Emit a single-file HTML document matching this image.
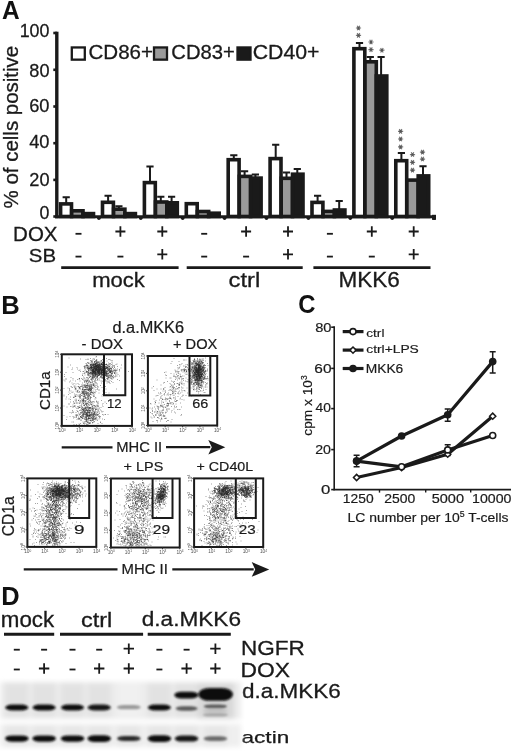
<!DOCTYPE html>
<html><head><meta charset="utf-8"><style>
html,body{margin:0;padding:0;background:#fff;}
svg{display:block;font-family:"Liberation Sans", sans-serif;filter:blur(0.45px);}
</style></head><body>
<svg width="520" height="751" viewBox="0 0 520 751">
<rect width="520" height="751" fill="#fff"/>
<text x="1.99" y="19.0" font-size="25.31" font-weight="bold" fill="#111" textLength="17.68" lengthAdjust="spacingAndGlyphs">A</text>
<line x1="56.8" y1="31.7" x2="56.8" y2="218.3" stroke="#1a1a1a" stroke-width="3.4"/>
<line x1="53.3" y1="33" x2="57" y2="33" stroke="#1a1a1a" stroke-width="2.6"/>
<text x="19.66" y="36.62" font-size="17.8" fill="#1a1a1a" stroke="#1a1a1a" stroke-width="0.26" textLength="29.83" lengthAdjust="spacingAndGlyphs">100</text>
<line x1="53.3" y1="69.8" x2="57" y2="69.8" stroke="#1a1a1a" stroke-width="2.6"/>
<text x="29.33" y="76.52" font-size="17.8" fill="#1a1a1a" stroke="#1a1a1a" stroke-width="0.26" textLength="20.19" lengthAdjust="spacingAndGlyphs">80</text>
<line x1="53.3" y1="106.5" x2="57" y2="106.5" stroke="#1a1a1a" stroke-width="2.6"/>
<text x="29.19" y="112.42" font-size="17.8" fill="#1a1a1a" stroke="#1a1a1a" stroke-width="0.26" textLength="20.34" lengthAdjust="spacingAndGlyphs">60</text>
<line x1="53.3" y1="143.2" x2="57" y2="143.2" stroke="#1a1a1a" stroke-width="2.6"/>
<text x="29.19" y="147.52" font-size="17.8" fill="#1a1a1a" stroke="#1a1a1a" stroke-width="0.26" textLength="20.34" lengthAdjust="spacingAndGlyphs">40</text>
<line x1="53.3" y1="179.9" x2="57" y2="179.9" stroke="#1a1a1a" stroke-width="2.6"/>
<text x="29.29" y="186.12" font-size="17.8" fill="#1a1a1a" stroke="#1a1a1a" stroke-width="0.26" textLength="20.23" lengthAdjust="spacingAndGlyphs">20</text>
<line x1="53.3" y1="216.5" x2="57" y2="216.5" stroke="#1a1a1a" stroke-width="2.6"/>
<text x="39.59" y="219.22" font-size="17.8" fill="#1a1a1a" stroke="#1a1a1a" stroke-width="0.26" textLength="9.9" lengthAdjust="spacingAndGlyphs">0</text>
<text transform="translate(2.7,207.7) rotate(-90)" x="-0.72" y="15.01" font-size="20.7" fill="#1a1a1a" stroke="#1a1a1a" stroke-width="0.3" textLength="162.6" lengthAdjust="spacingAndGlyphs">% of cells positive</text>
<line x1="55" y1="216.8" x2="434.5" y2="216.8" stroke="#1a1a1a" stroke-width="3"/>
<circle cx="98.9" cy="218.2" r="1.8" fill="#1a1a1a"/>
<circle cx="140.8" cy="218.2" r="1.8" fill="#1a1a1a"/>
<circle cx="182.7" cy="218.2" r="1.8" fill="#1a1a1a"/>
<circle cx="224.6" cy="218.2" r="1.8" fill="#1a1a1a"/>
<circle cx="266.5" cy="218.2" r="1.8" fill="#1a1a1a"/>
<circle cx="308.4" cy="218.2" r="1.8" fill="#1a1a1a"/>
<circle cx="350.3" cy="218.2" r="1.8" fill="#1a1a1a"/>
<circle cx="392.2" cy="218.2" r="1.8" fill="#1a1a1a"/>
<circle cx="434.1" cy="218.2" r="1.8" fill="#1a1a1a"/>
<rect x="432" y="214.8" width="4" height="5" fill="#1a1a1a"/>
<path d="M66.2 203.1V197.3M62.6 197.3h7.2" stroke="#1a1a1a" stroke-width="2" fill="none"/>
<rect x="60.6" y="203.9" width="10.9" height="12.6" fill="#fff" stroke="#1a1a1a" stroke-width="3.6"/>
<rect x="71.7" y="210.8" width="11.3" height="5.7" fill="#9a9a9a" stroke="#1a1a1a" stroke-width="3.6"/>
<rect x="83.0" y="213.6" width="10.5" height="2.9" fill="#1a1a1a" stroke="#1a1a1a" stroke-width="3.6"/>
<path d="M108.1 201.5V195.7M104.5 195.7h7.2" stroke="#1a1a1a" stroke-width="2" fill="none"/>
<path d="M118.9 208.4V206.2M115.3 206.2h7.2" stroke="#1a1a1a" stroke-width="2" fill="none"/>
<rect x="102.5" y="202.3" width="10.9" height="14.2" fill="#fff" stroke="#1a1a1a" stroke-width="3.6"/>
<rect x="113.6" y="209.2" width="11.3" height="7.3" fill="#9a9a9a" stroke="#1a1a1a" stroke-width="3.6"/>
<rect x="124.9" y="213.6" width="10.5" height="2.9" fill="#1a1a1a" stroke="#1a1a1a" stroke-width="3.6"/>
<path d="M150.0 181.8V166.4M146.4 166.4h7.2" stroke="#1a1a1a" stroke-width="2" fill="none"/>
<path d="M160.8 201.2V196.7M157.2 196.7h7.2" stroke="#1a1a1a" stroke-width="2" fill="none"/>
<path d="M171.6 202.0V196.7M168.0 196.7h7.2" stroke="#1a1a1a" stroke-width="2" fill="none"/>
<rect x="144.4" y="182.6" width="10.9" height="33.9" fill="#fff" stroke="#1a1a1a" stroke-width="3.6"/>
<rect x="155.5" y="202.0" width="11.3" height="14.5" fill="#9a9a9a" stroke="#1a1a1a" stroke-width="3.6"/>
<rect x="166.8" y="202.8" width="10.5" height="13.7" fill="#1a1a1a" stroke="#1a1a1a" stroke-width="3.6"/>
<rect x="186.3" y="203.7" width="10.9" height="12.8" fill="#fff" stroke="#1a1a1a" stroke-width="3.6"/>
<rect x="197.4" y="211.5" width="11.3" height="5.0" fill="#9a9a9a" stroke="#1a1a1a" stroke-width="3.6"/>
<rect x="208.7" y="213.2" width="10.5" height="3.3" fill="#1a1a1a" stroke="#1a1a1a" stroke-width="3.6"/>
<path d="M233.8 158.9V155.2M230.2 155.2h7.2" stroke="#1a1a1a" stroke-width="2" fill="none"/>
<path d="M244.6 175.6V171.2M241.0 171.2h7.2" stroke="#1a1a1a" stroke-width="2" fill="none"/>
<path d="M255.4 177.3V174.4M251.8 174.4h7.2" stroke="#1a1a1a" stroke-width="2" fill="none"/>
<rect x="228.2" y="159.7" width="10.9" height="56.8" fill="#fff" stroke="#1a1a1a" stroke-width="3.6"/>
<rect x="239.3" y="176.4" width="11.3" height="40.1" fill="#9a9a9a" stroke="#1a1a1a" stroke-width="3.6"/>
<rect x="250.6" y="178.1" width="10.5" height="38.4" fill="#1a1a1a" stroke="#1a1a1a" stroke-width="3.6"/>
<path d="M275.7 157.8V144.7M272.1 144.7h7.2" stroke="#1a1a1a" stroke-width="2" fill="none"/>
<path d="M286.5 177.5V172.4M282.9 172.4h7.2" stroke="#1a1a1a" stroke-width="2" fill="none"/>
<path d="M297.3 173.4V169.0M293.7 169.0h7.2" stroke="#1a1a1a" stroke-width="2" fill="none"/>
<rect x="270.1" y="158.6" width="10.9" height="57.9" fill="#fff" stroke="#1a1a1a" stroke-width="3.6"/>
<rect x="281.2" y="178.3" width="11.3" height="38.2" fill="#9a9a9a" stroke="#1a1a1a" stroke-width="3.6"/>
<rect x="292.5" y="174.2" width="10.5" height="42.3" fill="#1a1a1a" stroke="#1a1a1a" stroke-width="3.6"/>
<path d="M317.6 201.6V195.8M314.0 195.8h7.2" stroke="#1a1a1a" stroke-width="2" fill="none"/>
<path d="M339.2 209.2V201.0M335.6 201.0h7.2" stroke="#1a1a1a" stroke-width="2" fill="none"/>
<rect x="312.0" y="202.4" width="10.9" height="14.1" fill="#fff" stroke="#1a1a1a" stroke-width="3.6"/>
<rect x="323.1" y="211.4" width="11.3" height="5.1" fill="#9a9a9a" stroke="#1a1a1a" stroke-width="3.6"/>
<rect x="334.4" y="210.0" width="10.5" height="6.5" fill="#1a1a1a" stroke="#1a1a1a" stroke-width="3.6"/>
<path d="M359.5 47.9V43.0M355.9 43.0h7.2" stroke="#1a1a1a" stroke-width="2" fill="none"/>
<path d="M370.3 61.0V57.1M366.7 57.1h7.2" stroke="#1a1a1a" stroke-width="2" fill="none"/>
<path d="M381.1 75.2V57.1M377.5 57.1h7.2" stroke="#1a1a1a" stroke-width="2" fill="none"/>
<rect x="353.9" y="48.7" width="10.9" height="167.8" fill="#fff" stroke="#1a1a1a" stroke-width="3.6"/>
<rect x="365.0" y="61.8" width="11.3" height="154.7" fill="#9a9a9a" stroke="#1a1a1a" stroke-width="3.6"/>
<rect x="376.3" y="76.0" width="10.5" height="140.5" fill="#1a1a1a" stroke="#1a1a1a" stroke-width="3.6"/>
<path d="M401.4 159.9V152.9M397.8 152.9h7.2" stroke="#1a1a1a" stroke-width="2" fill="none"/>
<path d="M423.0 175.1V166.3M419.4 166.3h7.2" stroke="#1a1a1a" stroke-width="2" fill="none"/>
<rect x="395.8" y="160.7" width="10.9" height="55.8" fill="#fff" stroke="#1a1a1a" stroke-width="3.6"/>
<rect x="406.9" y="180.1" width="11.3" height="36.4" fill="#9a9a9a" stroke="#1a1a1a" stroke-width="3.6"/>
<rect x="418.2" y="175.9" width="10.5" height="40.6" fill="#1a1a1a" stroke="#1a1a1a" stroke-width="3.6"/>
<path d="M355.9 28.0h5.2M357.2 25.8l2.6 4.5M357.2 30.2l2.6 -4.5" stroke="#777" stroke-width="1.2" fill="none"/>
<circle cx="358.5" cy="28.0" r="1.2" fill="#555"/>
<path d="M355.9 35.4h5.2M357.2 33.1l2.6 4.5M357.2 37.6l2.6 -4.5" stroke="#777" stroke-width="1.2" fill="none"/>
<circle cx="358.5" cy="35.4" r="1.2" fill="#555"/>
<path d="M368.4 42.0h5.2M369.7 39.8l2.6 4.5M369.7 44.2l2.6 -4.5" stroke="#777" stroke-width="1.2" fill="none"/>
<circle cx="371.0" cy="42.0" r="1.2" fill="#555"/>
<path d="M368.4 49.6h5.2M369.7 47.4l2.6 4.5M369.7 51.9l2.6 -4.5" stroke="#777" stroke-width="1.2" fill="none"/>
<circle cx="371.0" cy="49.6" r="1.2" fill="#555"/>
<path d="M379.3 50.2h5.2M380.6 48.0l2.6 4.5M380.6 52.5l2.6 -4.5" stroke="#777" stroke-width="1.2" fill="none"/>
<circle cx="381.9" cy="50.2" r="1.2" fill="#555"/>
<path d="M398.0 131.3h5.2M399.3 129.1l2.6 4.5M399.3 133.6l2.6 -4.5" stroke="#777" stroke-width="1.2" fill="none"/>
<circle cx="400.6" cy="131.3" r="1.2" fill="#555"/>
<path d="M398.0 139.0h5.2M399.3 136.8l2.6 4.5M399.3 141.2l2.6 -4.5" stroke="#777" stroke-width="1.2" fill="none"/>
<circle cx="400.6" cy="139.0" r="1.2" fill="#555"/>
<path d="M398.0 146.9h5.2M399.3 144.7l2.6 4.5M399.3 149.2l2.6 -4.5" stroke="#777" stroke-width="1.2" fill="none"/>
<circle cx="400.6" cy="146.9" r="1.2" fill="#555"/>
<path d="M409.9 154.6h5.2M411.2 152.3l2.6 4.5M411.2 156.8l2.6 -4.5" stroke="#777" stroke-width="1.2" fill="none"/>
<circle cx="412.5" cy="154.6" r="1.2" fill="#555"/>
<path d="M409.9 162.3h5.2M411.2 160.1l2.6 4.5M411.2 164.6l2.6 -4.5" stroke="#777" stroke-width="1.2" fill="none"/>
<circle cx="412.5" cy="162.3" r="1.2" fill="#555"/>
<path d="M409.9 170.2h5.2M411.2 167.9l2.6 4.5M411.2 172.4l2.6 -4.5" stroke="#777" stroke-width="1.2" fill="none"/>
<circle cx="412.5" cy="170.2" r="1.2" fill="#555"/>
<path d="M419.9 152.2h5.2M421.2 149.9l2.6 4.5M421.2 154.4l2.6 -4.5" stroke="#777" stroke-width="1.2" fill="none"/>
<circle cx="422.5" cy="152.2" r="1.2" fill="#555"/>
<path d="M419.9 159.1h5.2M421.2 156.8l2.6 4.5M421.2 161.3l2.6 -4.5" stroke="#777" stroke-width="1.2" fill="none"/>
<circle cx="422.5" cy="159.1" r="1.2" fill="#555"/>
<rect x="71.8" y="47.45" width="13" height="12.2" fill="#fff" stroke="#1a1a1a" stroke-width="2.3"/>
<text x="88.47" y="59.4" font-size="19.79" fill="#1a1a1a" stroke="#1a1a1a" stroke-width="0.29" textLength="64.52" lengthAdjust="spacingAndGlyphs">CD86+</text>
<rect x="154.0" y="47.45" width="13" height="12.2" fill="#9a9a9a" stroke="#1a1a1a" stroke-width="2.3"/>
<text x="171.29" y="59.4" font-size="19.79" fill="#1a1a1a" stroke="#1a1a1a" stroke-width="0.29" textLength="63.49" lengthAdjust="spacingAndGlyphs">CD83+</text>
<rect x="237.5" y="47.45" width="13" height="12.2" fill="#1a1a1a" stroke="#1a1a1a" stroke-width="2.3"/>
<text x="252.74" y="59.4" font-size="19.79" fill="#1a1a1a" stroke="#1a1a1a" stroke-width="0.29" textLength="66.79" lengthAdjust="spacingAndGlyphs">CD40+</text>
<text x="13.11" y="241.0" font-size="19.65" fill="#1a1a1a" stroke="#1a1a1a" stroke-width="0.28" textLength="44.44" lengthAdjust="spacingAndGlyphs">DOX</text>
<text x="28.78" y="262.22" font-size="18.37" fill="#1a1a1a" stroke="#1a1a1a" stroke-width="0.27" textLength="27.27" lengthAdjust="spacingAndGlyphs">SB</text>
<line x1="75.5" y1="233.8" x2="81.5" y2="233.8" stroke="#1a1a1a" stroke-width="1.8"/>
<line x1="75.5" y1="256.6" x2="81.5" y2="256.6" stroke="#1a1a1a" stroke-width="1.8"/>
<path d="M115.4 231.5h10M120.4 226.3v10.4" stroke="#1a1a1a" stroke-width="1.8"/>
<line x1="117.4" y1="256.6" x2="123.4" y2="256.6" stroke="#1a1a1a" stroke-width="1.8"/>
<path d="M157.3 231.5h10M162.3 226.3v10.4" stroke="#1a1a1a" stroke-width="1.8"/>
<path d="M157.3 254.3h10M162.3 249.1v10.4" stroke="#1a1a1a" stroke-width="1.8"/>
<line x1="201.2" y1="233.8" x2="207.2" y2="233.8" stroke="#1a1a1a" stroke-width="1.8"/>
<line x1="201.2" y1="256.6" x2="207.2" y2="256.6" stroke="#1a1a1a" stroke-width="1.8"/>
<path d="M241.1 231.5h10M246.1 226.3v10.4" stroke="#1a1a1a" stroke-width="1.8"/>
<line x1="243.1" y1="256.6" x2="249.1" y2="256.6" stroke="#1a1a1a" stroke-width="1.8"/>
<path d="M283.0 231.5h10M288.0 226.3v10.4" stroke="#1a1a1a" stroke-width="1.8"/>
<path d="M283.0 254.3h10M288.0 249.1v10.4" stroke="#1a1a1a" stroke-width="1.8"/>
<line x1="326.9" y1="233.8" x2="332.9" y2="233.8" stroke="#1a1a1a" stroke-width="1.8"/>
<line x1="326.9" y1="256.6" x2="332.9" y2="256.6" stroke="#1a1a1a" stroke-width="1.8"/>
<path d="M366.8 231.5h10M371.8 226.3v10.4" stroke="#1a1a1a" stroke-width="1.8"/>
<line x1="368.8" y1="256.6" x2="374.8" y2="256.6" stroke="#1a1a1a" stroke-width="1.8"/>
<path d="M408.7 231.5h10M413.7 226.3v10.4" stroke="#1a1a1a" stroke-width="1.8"/>
<path d="M408.7 254.3h10M413.7 249.1v10.4" stroke="#1a1a1a" stroke-width="1.8"/>
<line x1="61.2" y1="267.6" x2="178.6" y2="267.6" stroke="#1a1a1a" stroke-width="2.6"/>
<line x1="186.7" y1="267.6" x2="302.7" y2="267.6" stroke="#1a1a1a" stroke-width="2.6"/>
<line x1="313.4" y1="267.6" x2="430.5" y2="267.6" stroke="#1a1a1a" stroke-width="2.6"/>
<text x="92.21" y="286.7" font-size="19.86" fill="#1a1a1a" stroke="#1a1a1a" stroke-width="0.29" textLength="52.67" lengthAdjust="spacingAndGlyphs">mock</text>
<text x="228.49" y="286.8" font-size="19.59" fill="#1a1a1a" stroke="#1a1a1a" stroke-width="0.28" textLength="31.73" lengthAdjust="spacingAndGlyphs">ctrl</text>
<text x="338.44" y="287.19" font-size="21.48" fill="#1a1a1a" stroke="#1a1a1a" stroke-width="0.31" textLength="61.33" lengthAdjust="spacingAndGlyphs">MKK6</text>
<text x="1.17" y="313.9" font-size="26.33" font-weight="bold" fill="#111" textLength="18.47" lengthAdjust="spacingAndGlyphs">B</text>
<text x="112.51" y="332.94" font-size="15.78" fill="#1a1a1a" stroke="#1a1a1a" stroke-width="0.23" textLength="71.5" lengthAdjust="spacingAndGlyphs">d.a.MKK6</text>
<text x="81.63" y="348.86" font-size="14.42" fill="#1a1a1a" stroke="#1a1a1a" stroke-width="0.21" textLength="41.41" lengthAdjust="spacingAndGlyphs">- DOX</text>
<text x="172.97" y="348.86" font-size="14.42" fill="#1a1a1a" stroke="#1a1a1a" stroke-width="0.21" textLength="44.34" lengthAdjust="spacingAndGlyphs">+ DOX</text>
<text x="123.58" y="471.07" font-size="13.0" fill="#1a1a1a" stroke="#1a1a1a" stroke-width="0.19" textLength="39.7" lengthAdjust="spacingAndGlyphs">+ LPS</text>
<text x="196.49" y="471.07" font-size="13.0" fill="#1a1a1a" stroke="#1a1a1a" stroke-width="0.19" textLength="56.71" lengthAdjust="spacingAndGlyphs">+ CD40L</text>
<text transform="translate(39,409.3) rotate(-90)" x="-0.76" y="10.65" font-size="15.27" fill="#1a1a1a" stroke="#1a1a1a" stroke-width="0.22" textLength="38.78" lengthAdjust="spacingAndGlyphs">CD1a</text>
<text transform="translate(2.5,535.5) rotate(-90)" x="-0.78" y="11.09" font-size="15.9" fill="#1a1a1a" stroke="#1a1a1a" stroke-width="0.23" textLength="40.06" lengthAdjust="spacingAndGlyphs">CD1a</text>
<path d="M95.5 357h1m5.5 2.5h1m-8 1h1m0 0h1m4 0h1m-11 0.5h1m14.5 0h1m-16 0.5h1m1.5 0h1m1.5 0h1m0.5 0h1m-8.5 0.5h1m0 0h1m7 0h1m1 0h1m0.5 0h1m-7 0.5h1m-0.5 0h1m-0.5 0h1m-11.5 0.5h1m-0.5 0h1m2.5 0h1m3 0h1m-1 0h1m5 0h1m5.5 0h1m-14 0.5h1m-0.5 0h1m2.5 0h1m9 0h1m-15 0.5h1m4.5 0h1m-0.5 0h1m-1 0h1m0 0h1m-16.5 0.5h1m2.5 0h1m-0.5 0h1m1.5 0h1m-1 0h1m-1 0h1m1 0h1m-1 0h1m5 0h1m-1 0h1m-0.5 0h1m3.5 0h1m1.5 0h1m-14.5 0.5h1m1 0h1m-0.5 0h1m-1 0h1m-0.5 0h1m0 0h1m-0.5 0h1m5 0h1m0.5 0h1m2 0h1m10 0h1m-36.5 0.5h1m5 0h1m4 0h1m1.5 0h1m3.5 0h1m-16.5 0.5h1m2.5 0h1m0 0h1m-0.5 0h1m2 0h1m-0.5 0h1m0 0h1m2 0h1m1 0h1m3.5 0h1m-24.5 0.5h1m7 0h1m2.5 0h1m-0.5 0h1m1 0h1m13 0h1m-25 0.5h1m2 0h1m-0.5 0h1m-1 0h1m1 0h1m-0.5 0h1m-1 0h1m2 0h1m-1 0h1m0 0h1m0.5 0h1m0.5 0h1m-0.5 0h1m-1 0h1m0 0h1m4.5 0h1m-1 0h1m1 0h1m-20 0.5h1m1.5 0h1m0 0h1m0 0h1m1.5 0h1m-0.5 0h1m0.5 0h1m2 0h1m-0.5 0h1m-0.5 0h1m-0.5 0h1m9 0h1m-27.5 0.5h1m1 0h1m0 0h1m0 0h1m0.5 0h1m-0.5 0h1m0 0h1m0 0h1m-0.5 0h1m-1 0h1m0 0h1m0 0h1m0 0h1m-1 0h1m1 0h1m0.5 0h1m3.5 0h1m-1 0h1m-24 0.5h1m3 0h1m0 0h1m3 0h1m1.5 0h1m3.5 0h1m0 0h1m-0.5 0h1m-0.5 0h1m-0.5 0h1m1 0h1m3.5 0h1m0.5 0h1m-24 0.5h1m0.5 0h1m1.5 0h1m3.5 0h1m-0.5 0h1m-1 0h1m1 0h1m0 0h1m-0.5 0h1m0 0h1m0.5 0h1m1.5 0h1m3.5 0h1m6.5 0h1m-46.5 0.5h1m17.5 0h1m1 0h1m3 0h1m-0.5 0h1m-0.5 0h1m-0.5 0h1m-1 0h1m1 0h1m0 0h1m0 0h1m0 0h1m-0.5 0h1m-0.5 0h1m-14 0.5h1m0 0h1m0 0h1m1 0h1m0 0h1m0 0h1m1 0h1m-0.5 0h1m0 0h1m0.5 0h1m-0.5 0h1m6 0h1m4.5 0h1m0.5 0h1m-38.5 0.5h1m12 0h1m2.5 0h1m-0.5 0h1m-0.5 0h1m-1 0h1m-0.5 0h1m-1 0h1m0 0h1m-0.5 0h1m-0.5 0h1m-0.5 0h1m0.5 0h1m-0.5 0h1m-1 0h1m0 0h1m-1 0h1m-0.5 0h1m1 0h1m4.5 0h1m-26.5 0.5h1m6.5 0h1m-0.5 0h1m0.5 0h1m-0.5 0h1m1 0h1m-0.5 0h1m1 0h1m1 0h1m-1 0h1m2.5 0h1m0.5 0h1m0 0h1m-15.5 0.5h1m0 0h1m0.5 0h1m0.5 0h1m0.5 0h1m0 0h1m1.5 0h1m7.5 0h1m-1 0h1m0 0h1m0 0h1m15 0h1m-43 0.5h1m6 0h1m1 0h1m-1 0h1m1 0h1m-0.5 0h1m0.5 0h1m0.5 0h1m-0.5 0h1m-0.5 0h1m8 0h1m-39 0.5h1m14.5 0h1m-1 0h1m-0.5 0h1m2 0h1m-0.5 0h1m0.5 0h1m-0.5 0h1m-0.5 0h1m2.5 0h1m2 0h1m3 0h1m3 0h1m0 0h1m-17.5 0.5h1m-0.5 0h1m0 0h1m0 0h1m2.5 0h1m2 0h1m1.5 0h1m0 0h1m5 0h1m-29 0.5h1m7 0h1m4.5 0h1m0 0h1m0.5 0h1m5 0h1m1 0h1m-19 0.5h1m-1 0h1m1.5 0h1m2 0h1m0 0h1m0 0h1m-1 0h1m1 0h1m0.5 0h1m-1 0h1m0.5 0h1m-1 0h1m2.5 0h1m8.5 0h1m-17.5 0.5h1m-1 0h1m-0.5 0h1m-1 0h1m1.5 0h1m2 0h1m-14.5 0.5h1m6 0h1m1.5 0h1m4.5 0h1m3 0h1m-29.5 0.5h1m12 0h1m2 0h1m-0.5 0h1m3 0h1m6 0h1m-16.5 0.5h1m2.5 0h1m8 0h1m-0.5 0h1m-0.5 0h1m3 0h1m4 0h1m-20.5 0.5h1m5 0h1m-1 0h1m2.5 0h1m0.5 0h1m3 0h1m-0.5 0h1m-22.5 0.5h1m1 0h1m-1 0h1m0.5 0h1m6 0h1m2 0h1m-19.5 0.5h1m2 0h1m4 0h1m2 0h1m1.5 0h1m2 0h1m5 0h1m-28.5 1h1m10.5 0h1m5 0h1m9 0.5h1m-44 0.5h1m10.5 0h1m12.5 0h1m-0.5 0h1m25 0h1m-54.5 0.5h1m23 0h1m8.5 0h1m-14.5 0.5h1m2 0h1m-0.5 0h1m-4 0.5h1m2.5 0h1m0.5 0h1m10.5 0h1m-17.5 0.5h1m0.5 0h1m0 0h1m-1.5 0.5h1m4.5 0h1m16.5 0h1m-20.5 1h1m16 0h1m-11 0.5h1m-4 0.5h1m-2 0.5h1m-0.5 0h1m-0.5 0h1m-5 0.5h1m-0.5 0h1m-7 0.5h1m1 0h1m0 0h1m0 0h1m4.5 0h1m5.5 0h1m-16.5 0.5h1m3.5 0h1m-11.5 0.5h1m0.5 0h1m8.5 0h1m-0.5 0h1m-20 0.5h1m11.5 0h1m3 0h1m5 0h1m-15.5 0.5h1m5.5 0h1m0.5 0h1m3 0h1m3.5 0h1m5 0h1m-35 0.5h1m21.5 0h1m-27.5 0.5h1m11 0h1m15 0h1m-14 0.5h1m2.5 0h1m4 0h1m-6 0.5h1m0.5 0h1m0 0h1m-1 0h1m-1 0h1m0 0h1m-1 0h1m10 0h1m-28.5 0.5h1m13.5 0h1m1 0h1m1.5 0h1m1 0h1m0 0h1m-15 0.5h1m10 0h1m-5.5 0.5h1m0 0h1m-4 0.5h1m13 0h1m-19.5 0.5h1m4 0h1m-1 0h1m5.5 0h1m-6.5 0.5h1m-1 0h1m-3.5 0.5h1m1 0h1m3 0h1m2.5 0h1m1 0h1m-11 0.5h1m0.5 0h1m0 0h1m0 0h1m2.5 0h1m3 0h1m-8 0.5h1m3 0h1m-11.5 0.5h1m8 0h1m-1.5 0.5h1m-7.5 0.5h1m3 0h1m-7.5 0.5h1m3.5 0h1m4.5 0h1m11.5 0h1m-9 0.5h1m-14.5 0.5h1m-7.5 0.5h1m4.5 0h1m4.5 0h1m2.5 0h1m-9 0.5h1m14.5 0h1m-11 0.5h1m-18 0.5h1m6 0h1m6 0h1m0 0h1m3.5 0h1m-19 0.5h1m3.5 0.5h1m3 0h1m3.5 0h1m5.5 0h1m-12.5 0.5h1m3 0h1m-7 0.5h1m6 0h1m1.5 0h1m1.5 0h1m0.5 0h1m-17.5 0.5h1m13.5 0h1m4.5 0h1m-2 0.5h1m1 0h1m9.5 0h1m-22 0.5h1m-6 0.5h1m1 0h1m3 0h1m4 0h1m-11.5 0.5h1m3 0h1m1 0h1m20 0h1m-38 0.5h1m21 0.5h1m4.5 0.5h1m4.5 0h1m-9.5 0.5h1m-8 0.5h1m10 0h1m-0.5 0h1m-27.5 0.5h1m5.5 0h1m12.5 0h1m-0.5 0h1m2.5 0h1m-16 0.5h1m0.5 0h1m-4 0.5h1m10 0h1m1.5 0h1m2 0h1m-14 0.5h1m0 0h1m0 0h1m-0.5 0h1m-1 0h1m0.5 0h1m0.5 0h1m2.5 0h1m1.5 0h1m2.5 0h1m0.5 0h1m-13.5 0.5h1m1 0h1m-0.5 0h1m-3.5 0.5h1m5.5 0h1m-12 0.5h1m3 0h1m1 0h1m7 0h1m0.5 0h1m-15.5 0.5h1m6 0h1m4 0h1m-15.5 0.5h1m1.5 0h1m1 0h1m-0.5 0h1m2.5 0h1m-0.5 0h1m1.5 0h1m8 0.5h1m-25 0.5h1m-0.5 0h1m5.5 0h1m-12.5 0.5h1m13.5 0h1m-1 0h1m2 0h1m4 0h1m3 0h1m-16 0.5h1m-14 0.5h1m6 0h1m6 0h1m1 0h1m8 0h1m-10.5 0.5h1m6 0h1m-15 0.5h1m13.5 0h1m0.5 0h1m-17 0.5h1m5 0h1m0.5 0h1m9 0h1m0 0h1m5.5 0h1m-28.5 0.5h1m8 0h1m0 0h1m0.5 0h1m1 0h1m-1 0h1m0 0h1m-1 0h1m2.5 0h1m1 0h1m-11 0.5h1m0 0h1m0 0h1m-1 0h1m-7.5 0.5h1m2 0h1m-1 0h1m12.5 0h1m-27.5 0.5h1m6.5 0h1m5.5 0h1m0.5 0h1m1 0h1m3 0h1m4 0h1m0 0h1m-21 0.5h1m1.5 0h1m1 0h1m0 0h1m2.5 0h1m-14 0.5h1m4 0h1m0 0.5h1m2.5 0h1m-0.5 0h1m0.5 0h1m1.5 0h1m-0.5 0h1m-0.5 0h1m-0.5 0h1m1.5 0h1m1.5 0h1m-20 0.5h1m13.5 0h1m1 0h1m-8.5 0.5h1m5 0h1m-17 0.5h1m8 0h1m7.5 0h1m1.5 0h1m-9.5 0.5h1m2.5 0h1m3 0h1m-25 2h1m14 0h1m-0.5 0.5h1m-5 1h1m13.5 0h1m3 0h1m-24 0.5h1m4.5 0h1m1 0.5h1" stroke="#262626" stroke-width="1" stroke-opacity="0.42" fill="none"/>
<path d="M68.5 358h1m20.5 0.5h1m15 0h1m-19.5 1h1m7.5 0h1m-4.5 0.5h1m3 0h1m-7.5 0.5h1m1 0.5h1m7.5 0.5h1m-5.5 0.5h1m2 0h1m3.5 0h1m-17.5 0.5h1m6 0h1m1 0h1m5.5 0h1m8 0h1m-20.5 0.5h1m8.5 0h1m0.5 0h1m-18.5 0.5h1m6.5 0h1m0 0h1m1.5 0h1m-1 0h1m3.5 0h1m-0.5 0h1m-16.5 0.5h1m8 0h1m4 0h1m5 0h1m-16.5 0.5h1m0.5 0h1m-0.5 0h1m2.5 0h1m0 0h1m0 0h1m0 0h1m0.5 0h1m0.5 0h1m0 0h1m2 0h1m4 0h1m-20.5 0.5h1m0.5 0h1m1 0h1m0.5 0h1m1.5 0h1m1.5 0h1m-16.5 0.5h1m7 0h1m0 0h1m0 0h1m-0.5 0h1m2.5 0h1m0.5 0h1m5 0h1m4 0h1m-29.5 0.5h1m4.5 0h1m0 0h1m-0.5 0h1m1 0h1m-1 0h1m-1 0h1m-0.5 0h1m1.5 0h1m-1 0h1m2.5 0h1m-1 0h1m6 0h1m0.5 0h1m-25 0.5h1m0.5 0h1m7.5 0h1m3 0h1m-1 0h1m6 0h1m7.5 0h1m-28 0.5h1m2 0h1m5 0h1m3 0h1m-1 0h1m-1 0h1m3.5 0h1m0 0h1m-21.5 0.5h1m2 0h1m1 0h1m-0.5 0h1m0.5 0h1m0 0h1m3.5 0h1m-0.5 0h1m0 0h1m0.5 0h1m3.5 0h1m0.5 0h1m-16.5 0.5h1m-1 0h1m0 0h1m0.5 0h1m1.5 0h1m0.5 0h1m0 0h1m1 0h1m4.5 0h1m0 0h1m2.5 0h1m-23.5 0.5h1m-0.5 0h1m2 0h1m4 0h1m-0.5 0h1m0.5 0h1m1 0h1m1.5 0h1m-0.5 0h1m1.5 0h1m1 0h1m2.5 0h1m1 0h1m-37 0.5h1m7 0h1m3 0h1m0 0h1m3 0h1m0.5 0h1m-1 0h1m1 0h1m-0.5 0h1m-0.5 0h1m2 0h1m2.5 0h1m-0.5 0h1m4 0h1m-1 0h1m3.5 0h1m-25 0.5h1m-0.5 0h1m1 0h1m0.5 0h1m-1 0h1m0.5 0h1m2 0h1m-0.5 0h1m1 0h1m0.5 0h1m4.5 0h1m-17 0.5h1m1 0h1m0 0h1m1 0h1m-1 0h1m-0.5 0h1m0 0h1m0 0h1m0.5 0h1m0 0h1m0.5 0h1m-1 0h1m3.5 0h1m3.5 0h1m-26.5 0.5h1m-0.5 0h1m1 0h1m1 0h1m-0.5 0h1m-1 0h1m0.5 0h1m-0.5 0h1m5 0h1m6 0h1m-0.5 0h1m0.5 0h1m4.5 0h1m-28 0.5h1m1 0h1m1.5 0h1m-1 0h1m-0.5 0h1m-0.5 0h1m0 0h1m1 0h1m0.5 0h1m-0.5 0h1m1.5 0h1m-0.5 0h1m0 0h1m-0.5 0h1m1 0h1m-0.5 0h1m-24 0.5h1m2 0h1m5 0h1m0.5 0h1m-1 0h1m-0.5 0h1m0.5 0h1m2 0h1m-1 0h1m-0.5 0h1m0 0h1m1.5 0h1m-0.5 0h1m0.5 0h1m3.5 0h1m-1 0h1m-0.5 0h1m-13 0.5h1m2 0h1m-0.5 0h1m-0.5 0h1m0.5 0h1m-1 0h1m-0.5 0h1m-1 0h1m0.5 0h1m6.5 0h1m-48 0.5h1m23.5 0h1m-1 0h1m-0.5 0h1m-1 0h1m0.5 0h1m0 0h1m-1 0h1m3.5 0h1m-0.5 0h1m2.5 0h1m1 0h1m-12 0.5h1m-0.5 0h1m2 0h1m1.5 0h1m-0.5 0h1m1 0h1m1 0h1m0.5 0h1m0 0h1m-1 0h1m0.5 0h1m1.5 0h1m0 0h1m5 0h1m-35 0.5h1m8 0h1m0 0h1m-0.5 0h1m0 0h1m3 0h1m0 0h1m1 0h1m5 0h1m0 0h1m2 0h1m-23.5 0.5h1m1.5 0h1m-0.5 0h1m0 0h1m-0.5 0h1m1.5 0h1m1.5 0h1m0 0h1m5 0h1m5.5 0h1m-1 0h1m-48.5 0.5h1m22 0h1m0 0h1m5.5 0h1m-1 0h1m0 0h1m-1 0h1m1 0h1m2.5 0h1m-7 0.5h1m-0.5 0h1m3.5 0h1m2 0h1m-0.5 0h1m3 0h1m1 0h1m-17.5 0.5h1m9 0h1m0.5 0h1m7.5 0h1m-20 0.5h1m2 0h1m5 0h1m6.5 0h1m-47.5 0.5h1m25 0h1m-1 0h1m3.5 0h1m5.5 0h1m7.5 0h1m-1 0h1m-27.5 0.5h1m5 0h1m2 0h1m11 0h1m-13 0.5h1m7.5 0h1m6.5 0h1m-0.5 0h1m-17.5 0.5h1m3.5 0h1m4 0h1m4.5 0h1m-0.5 0h1m-17.5 0.5h1m4.5 0h1m6.5 0h1m1 0h1m0.5 0h1m2.5 0h1m-33 0.5h1m12 0h1m-0.5 0h1m17.5 0h1m-17 0.5h1m1 0h1m7 0h1m-18 0.5h1m2.5 0h1m3 0.5h1m22.5 0h1m-50 0.5h1m15.5 0h1m1.5 0h1m4 0h1m6.5 0h1m3 0h1m-17 0.5h1m17 0h1m-18 1h1m4 0h1m-14.5 0.5h1m5 0h1m1.5 0h1m0.5 0h1m-20.5 1.5h1m5 0h1m4 0h1m-2.5 0.5h1m12.5 0h1m0.5 0h1m-15.5 0.5h1m0 0h1m1.5 0h1m6.5 0h1m1 0h1m-23 0.5h1m12 0h1m4 0h1m-12 0.5h1m3 0h1m2.5 0h1m8 0h1m-24 0.5h1m0.5 0h1m-4.5 0.5h1m6.5 0h1m2 0h1m2 0h1m-4 0.5h1m3 0h1m0 0h1m1.5 0h1m0.5 0h1m0 0h1m-5.5 0.5h1m0 0h1m-15.5 0.5h1m-0.5 0h1m9.5 0h1m2.5 0h1m0.5 0h1m-1 0h1m5.5 0h1m18 0h1m-28.5 0.5h1m-20.5 0.5h1m19 0h1m9 0h1m-10 0.5h1m-15.5 0.5h1m8 0h1m-6.5 0.5h1m3 0h1m6.5 0h1m-15 0.5h1m1 0h1m7 0h1m3.5 0h1m-13.5 0.5h1m2.5 0h1m4.5 0h1m6 0h1m-11 0.5h1m0 0h1m-1 0h1m0 0h1m11 0h1m9 0h1m-40 0.5h1m13 0h1m-10.5 0.5h1m8 0h1m0 0h1m2.5 0h1m-13 0.5h1m6 0h1m-20 0.5h1m24 0h1m2 0h1m-6 0.5h1m-10 0.5h1m1 0h1m-0.5 0h1m8 0h1m3 0h1m0 0h1m-20.5 0.5h1m-0.5 0h1m8 0h1m2.5 0h1m-0.5 0h1m-9.5 0.5h1m4.5 0h1m-1.5 1h1m-0.5 0h1m1.5 0h1m-0.5 0.5h1m-7.5 0.5h1m0.5 0h1m-1 0h1m3 0.5h1m-0.5 0h1m-12.5 0.5h1m1 0.5h1m4.5 0h1m16.5 0h1m-19 0.5h1m24 0h1m-26.5 0.5h1m0 0h1m0.5 0h1m5.5 0h1m-2.5 0.5h1m-14.5 0.5h1m2 0h1m5 0h1m10 0h1m-22 0.5h1m6 0h1m7 0h1m-15 0.5h1m5.5 0h1m2.5 0h1m-19.5 0.5h1m12.5 0h1m0.5 0h1m4 0h1m1 0h1m-6.5 0.5h1m-0.5 0h1m2.5 0h1m-17 0.5h1m7.5 0h1m9 0h1m0.5 0h1m-10.5 0.5h1m0 0h1m-1 0h1m1 0h1m6.5 0h1m0 0h1m-3.5 0.5h1m1 0h1m-22 0.5h1m0 0h1m-8.5 0.5h1m7.5 0h1m3 0h1m4.5 0h1m2 0h1m-0.5 0h1m-10 0.5h1m2 0h1m4 0h1m1 0h1m-0.5 0h1m10 0h1m-16.5 0.5h1m2.5 0h1m0 0h1m-12.5 0.5h1m2 0h1m2.5 0h1m5 0h1m0.5 0h1m-0.5 0h1m-12.5 0.5h1m14 0h1m-15 0.5h1m0.5 0h1m10.5 0h1m-14.5 0.5h1m0 0h1m2.5 0h1m4 0h1m8 0h1m-13.5 0.5h1m0.5 0h1m0 0h1m-7 0.5h1m-0.5 0h1m1.5 0h1m1.5 0h1m1.5 0h1m-11 0.5h1m5 0h1m4.5 0h1m2 0h1m5 0h1m-19 0.5h1m3.5 0h1m4 0h1m6.5 0h1m-22.5 0.5h1m0.5 0h1m2 0h1m3.5 0h1m3.5 0h1m-0.5 0h1m2 0h1m-15 0.5h1m3 0h1m1 0h1m1.5 0h1m-9.5 0.5h1m9 0h1m0 0h1m-12.5 0.5h1m0 0h1m1.5 0h1m-0.5 0h1m6 0h1m-0.5 0h1m-12.5 0.5h1m5.5 0h1m0 0h1m4.5 0h1m11 0h1m-31 0.5h1m0.5 0h1m2.5 0h1m2 0h1m0 0h1m1.5 0h1m4.5 0h1m-14.5 0.5h1m5.5 0h1m0 0h1m-0.5 0h1m2.5 0h1m-0.5 0h1m1.5 0h1m-9.5 0.5h1m1.5 0h1m2 0h1m0.5 0h1m-15 0.5h1m6 0h1m1 0h1m1.5 0h1m5.5 0h1m-32.5 0.5h1m6 0h1m3.5 0h1m5.5 0h1m-1 0h1m10 0h1m-22 0.5h1m15.5 0h1m1 0h1m5 0h1m-14 0.5h1m1 0h1m10.5 0h1m-21.5 0.5h1m8.5 0h1m-1 0h1m0 0h1m5 0h1m-16 0.5h1m4 0h1m6.5 0h1m-10 0.5h1m2 0h1m4 0h1m-12.5 0.5h1m11.5 0h1m-13.5 0.5h1m4 0h1m6.5 0.5h1m-8.5 0.5h1m1.5 0.5h1m4.5 0h1m-2 0.5h1m6.5 0h1m-12.5 0.5h1m0.5 0h1m-2.5 0.5h1m-16 1h1m12.5 0h1m0 0.5h1" stroke="#262626" stroke-width="1" stroke-opacity="0.42" fill="none"/>
<path d="M93.5 358.5h1m-14.5 0.5h1m6.5 0h1m20 0.5h1m-1 0h1m0.5 0.5h1m-15 0.5h1m3.5 0h1m-10.5 0.5h1m19.5 0h1m-18 0.5h1m1 0.5h1m2 0.5h1m2 0h1m-1 0h1m0 0h1m-16 0.5h1m6 0h1m-8 0.5h1m20.5 0h1m-17.5 0.5h1m4.5 0h1m0 0h1m11 0h1m-22 0.5h1m-0.5 0h1m2 0h1m3 0h1m1 0h1m2 0h1m11 0h1m-24 0.5h1m1.5 0h1m0.5 0h1m-1 0h1m-1 0h1m1 0h1m-1 0h1m-13.5 0.5h1m0 0h1m2 0h1m1 0h1m4 0h1m-0.5 0h1m-1 0h1m0 0h1m3 0h1m9 0h1m-26.5 0.5h1m3 0h1m2.5 0h1m-1 0h1m-0.5 0h1m0 0h1m-0.5 0h1m-0.5 0h1m-1 0h1m-0.5 0h1m-0.5 0h1m-0.5 0h1m0 0h1m-0.5 0h1m-1 0h1m0.5 0h1m-11.5 0.5h1m3 0h1m-0.5 0h1m-1 0h1m-0.5 0h1m-1 0h1m-0.5 0h1m0 0h1m-0.5 0h1m-0.5 0h1m-0.5 0h1m-0.5 0h1m0.5 0h1m2.5 0h1m-13.5 0.5h1m1 0h1m-0.5 0h1m2.5 0h1m0.5 0h1m0 0h1m0 0h1m-0.5 0h1m-1 0h1m-0.5 0h1m5 0h1m2.5 0h1m-36.5 0.5h1m6.5 0h1m0.5 0h1m4 0h1m-0.5 0h1m-0.5 0h1m-0.5 0h1m2.5 0h1m-1 0h1m0.5 0h1m-0.5 0h1m1.5 0h1m2 0h1m2 0h1m-0.5 0h1m4.5 0h1m-41 0.5h1m14 0h1m3 0h1m-0.5 0h1m1.5 0h1m-1 0h1m0 0h1m0.5 0h1m1.5 0h1m1.5 0h1m1 0h1m-1 0h1m-0.5 0h1m0 0h1m-1 0h1m0 0h1m-20.5 0.5h1m2 0h1m3.5 0h1m0 0h1m0 0h1m0.5 0h1m1 0h1m2.5 0h1m0.5 0h1m0.5 0h1m3 0h1m-21 0.5h1m2.5 0h1m0.5 0h1m-1 0h1m-0.5 0h1m-1 0h1m1.5 0h1m1 0h1m1.5 0h1m0.5 0h1m2 0h1m-0.5 0h1m-0.5 0h1m-0.5 0h1m-17.5 0.5h1m0 0h1m-1 0h1m1.5 0h1m-0.5 0h1m-1 0h1m-0.5 0h1m0.5 0h1m0 0h1m-1 0h1m-1 0h1m-0.5 0h1m-1 0h1m-0.5 0h1m-0.5 0h1m-0.5 0h1m1 0h1m0.5 0h1m2 0h1m0.5 0h1m1 0h1m-19.5 0.5h1m-0.5 0h1m0.5 0h1m1.5 0h1m-0.5 0h1m-0.5 0h1m0 0h1m2.5 0h1m-0.5 0h1m4 0h1m5 0h1m-27 0.5h1m1.5 0h1m0 0h1m-0.5 0h1m-0.5 0h1m4.5 0h1m-0.5 0h1m0 0h1m0 0h1m-0.5 0h1m-1 0h1m0 0h1m0 0h1m7 0h1m-0.5 0h1m1 0h1m0 0h1m-26 0.5h1m1 0h1m-0.5 0h1m0.5 0h1m-0.5 0h1m0.5 0h1m1 0h1m2.5 0h1m-0.5 0h1m0 0h1m0.5 0h1m6 0h1m1 0h1m-31.5 0.5h1m2.5 0h1m5 0h1m0 0h1m-1 0h1m0 0h1m-1 0h1m-0.5 0h1m1 0h1m-0.5 0h1m-1 0h1m0.5 0h1m1 0h1m-0.5 0h1m1.5 0h1m-0.5 0h1m1 0h1m3.5 0h1m3 0h1m-28.5 0.5h1m-1 0h1m5 0h1m-0.5 0h1m3.5 0h1m2 0h1m-0.5 0h1m-1 0h1m0 0h1m1.5 0h1m3.5 0h1m-0.5 0h1m1 0h1m2 0h1m-30 0.5h1m6 0h1m0.5 0h1m0 0h1m0 0h1m1.5 0h1m-0.5 0h1m1 0h1m7 0h1m-26 0.5h1m1.5 0h1m3.5 0h1m-0.5 0h1m-0.5 0h1m0.5 0h1m0 0h1m-1 0h1m1 0h1m0.5 0h1m-1 0h1m1 0h1m-1 0h1m1 0h1m0.5 0h1m0 0h1m1.5 0h1m-0.5 0h1m2 0h1m2 0h1m-1 0h1m-27 0.5h1m2 0h1m0 0h1m1.5 0h1m2.5 0h1m2.5 0h1m1 0h1m0 0h1m0.5 0h1m-0.5 0h1m4.5 0h1m-24 0.5h1m2 0h1m2 0h1m2.5 0h1m2 0h1m2 0h1m-0.5 0h1m0 0h1m4 0h1m-17.5 0.5h1m6.5 0h1m-0.5 0h1m2.5 0h1m-0.5 0h1m-25.5 0.5h1m1.5 0h1m2.5 0h1m3 0h1m1.5 0h1m3.5 0h1m1.5 0h1m2.5 0h1m1 0h1m2.5 0h1m3.5 0h1m-28.5 0.5h1m1 0h1m1.5 0h1m0.5 0h1m0.5 0h1m1.5 0h1m-1 0h1m0 0h1m5.5 0h1m0 0h1m-1 0h1m2 0h1m-17 0.5h1m8 0h1m7.5 0h1m-1 0h1m7.5 0h1m-25.5 0.5h1m1 0h1m-0.5 0h1m-5.5 0.5h1m3.5 0h1m2 0h1m-7.5 0.5h1m14 0h1m2 0h1m0.5 0h1m-12.5 0.5h1m0 0h1m6.5 0h1m-1 0h1m2 0h1m-48.5 0.5h1m6 0h1m5.5 0h1m-1 0h1m3.5 0.5h1m8.5 0h1m9 0h1m3 0.5h1m-22.5 0.5h1m-1.5 0.5h1m18.5 0h1m-41 0.5h1m9.5 0h1m10 0h1m18.5 0h1m-14 0.5h1m17.5 0h1m-43 0.5h1m18.5 0h1m2.5 0h1m14.5 0h1m-18.5 0.5h1m17.5 0h1m3 0h1m-42 0.5h1m14 0h1m7 0h1m-22 0.5h1m3 0h1m8.5 0h1m5 0h1m15.5 0h1m-25 0.5h1m0.5 0h1m-3.5 0.5h1m-4.5 0.5h1m5 0h1m3 0h1m-0.5 0h1m-1 0h1m-7.5 0.5h1m0.5 0h1m1 0h1m-4 0.5h1m0.5 0h1m-17.5 0.5h1m6.5 0h1m2 0h1m0 0h1m6 0h1m1 0h1m-1 0h1m-5.5 0.5h1m10.5 0h1m-20.5 0.5h1m5 0h1m-3 0.5h1m5.5 0h1m2 0h1m4 0h1m-18.5 0.5h1m9.5 0.5h1m-0.5 0h1m2 0h1m-12 0.5h1m1 0h1m2 0h1m-0.5 0h1m0 0h1m-0.5 0h1m-9 0.5h1m5.5 0h1m2 0h1m-2 0.5h1m-20.5 0.5h1m17.5 0h1m12.5 0h1m-26.5 0.5h1m7.5 0h1m-14 0.5h1m10 0h1m6.5 0h1m1.5 0h1m-10.5 0.5h1m7 0h1m0.5 0h1m11 0h1m-21.5 0.5h1m1.5 0h1m1.5 0h1m3.5 0h1m-14.5 0.5h1m0.5 0h1m3.5 0.5h1m2.5 0h1m-7.5 0.5h1m-0.5 0h1m0.5 0h1m-0.5 0h1m1 0h1m0.5 0h1m-0.5 0h1m-15 0.5h1m6.5 0h1m-1 0h1m-10.5 0.5h1m13.5 0h1m-26.5 0.5h1m15 0h1m2.5 0.5h1m3.5 0h1m-15 0.5h1m8.5 0h1m6 0h1m-18 0.5h1m12.5 0h1m2.5 0h1m0 0h1m-5.5 0.5h1m1.5 0h1m-10.5 0.5h1m4 0h1m2 0h1m-23 0.5h1m20 0.5h1m-6.5 0.5h1m0 0h1m-3 0.5h1m1.5 0h1m-1 0h1m0 0h1m5 0h1m19 0h1m-35.5 0.5h1m8.5 0h1m10.5 0h1m-17.5 0.5h1m0 0h1m1 0.5h1m4.5 0h1m-15.5 0.5h1m18 0.5h1m-20 0.5h1m-0.5 0h1m11 0h1m4.5 0.5h1m-13 1.5h1m16.5 0.5h1m-3 0.5h1m1.5 0h1m4 0h1m-22.5 0.5h1m4.5 0h1m6 0h1m-22 0.5h1m16 0h1m18.5 0h1m-25.5 0.5h1m6 0h1m-1 0h1m-4 0.5h1m5 0h1m3 0.5h1m-8 0.5h1m-9 0.5h1m0 0h1m2.5 0h1m6 0h1m-24 0.5h1m3.5 0h1m8.5 0h1m0 0h1m-0.5 0h1m-1 0h1m9 0h1m-15.5 0.5h1m2.5 0h1m5.5 0h1m-0.5 0h1m3.5 0h1m-26.5 1h1m8 0h1m2 0h1m-0.5 0h1m9 0h1m-14.5 0.5h1m0 0h1m3 0h1m0.5 0h1m-1 0h1m-0.5 0h1m4.5 0h1m-11 0.5h1m0 0h1m0 0h1m-0.5 0h1m1.5 0h1m-1 0h1m1 0h1m-0.5 0h1m0 0h1m-3 0.5h1m7.5 0h1m-20.5 0.5h1m3 0h1m1 0h1m-0.5 0h1m1 0h1m3.5 0h1m4 0h1m-22.5 0.5h1m10 0h1m2 0h1m0 0h1m-0.5 0h1m1.5 0h1m7 0h1m-28 0.5h1m17 0h1m3 0h1m5 0h1m-28 0.5h1m-0.5 0h1m11.5 0h1m0 0h1m0.5 0h1m-17 0.5h1m9 0h1m1.5 0h1m0 0h1m5.5 0h1m-20.5 0.5h1m3.5 0h1m5 0h1m4.5 0h1m0 0h1m-13.5 0.5h1m4.5 0h1m3.5 0h1m2 0h1m-14 0.5h1m4 0h1m5.5 0h1m0 0h1m1.5 0h1m-23.5 0.5h1m11 0h1m0 0h1m-4.5 0.5h1m3 0h1m1 0h1m2.5 0h1m0 0h1m1 0h1m-17 0.5h1m10 0h1m1.5 0h1m1.5 0h1m-1 0h1m2.5 0h1m2.5 0h1m-37 0.5h1m26.5 0h1m-8 0.5h1m1 0h1m0 0.5h1m-0.5 0h1m0.5 0h1m-1.5 0.5h1m-5.5 0.5h1m-14.5 0.5h1m8.5 0h1m16.5 0h1m-12.5 0.5h1m-6 0.5h1m4.5 0h1m0 0h1m1 0h1m-7.5 0.5h1m2.5 0h1m-14 1h1" stroke="#262626" stroke-width="1" stroke-opacity="0.42" fill="none"/>
<path d="M96 356.5h1m-4.5 2.5h1m-8 0.5h1m7.5 0h1m16.5 1h1m-11 0.5h1m-8.5 0.5h1m0 0h1m0.5 0h1m-3.5 1h1m2.5 0h1m3.5 0h1m-12.5 0.5h1m1 0h1m3 0h1m5.5 0h1m-8 0.5h1m1.5 0h1m3.5 0h1m0 0h1m-14.5 0.5h1m0 0h1m2 0h1m-0.5 0h1m0.5 0h1m-0.5 0h1m0 0h1m2.5 0h1m-1 0h1m1.5 0h1m11.5 0h1m-27.5 0.5h1m2.5 0h1m-0.5 0h1m-1 0h1m-0.5 0h1m3 0h1m2.5 0h1m1.5 0h1m-0.5 0h1m0 0h1m1.5 0h1m-39.5 0.5h1m18.5 0h1m4 0h1m3 0h1m2.5 0h1m1.5 0h1m-18.5 0.5h1m2 0h1m1.5 0h1m-1 0h1m1.5 0h1m0 0h1m-0.5 0h1m1.5 0h1m2.5 0h1m10.5 0h1m-30 0.5h1m1.5 0h1m2 0h1m2 0h1m0 0h1m0.5 0h1m1 0h1m3.5 0h1m-0.5 0h1m5 0h1m-19.5 0.5h1m2.5 0h1m-0.5 0h1m-0.5 0h1m0 0h1m0 0h1m2 0h1m0 0h1m0 0h1m2.5 0h1m-0.5 0h1m1.5 0h1m-0.5 0h1m7 0h1m-50.5 0.5h1m19.5 0h1m0.5 0h1m3 0h1m0 0h1m-0.5 0h1m2 0h1m-0.5 0h1m1 0h1m7 0h1m4.5 0h1m-28 0.5h1m2 0h1m0.5 0h1m1 0h1m2 0h1m-1 0h1m-0.5 0h1m0 0h1m0 0h1m2 0h1m-1 0h1m0.5 0h1m-0.5 0h1m2 0h1m-1 0h1m-19.5 0.5h1m1 0h1m-0.5 0h1m2 0h1m0.5 0h1m-0.5 0h1m-0.5 0h1m0.5 0h1m0 0h1m-0.5 0h1m2.5 0h1m-0.5 0h1m2 0h1m1 0h1m1.5 0h1m8.5 0h1m-32.5 0.5h1m1.5 0h1m0 0h1m-1 0h1m0.5 0h1m-1 0h1m0 0h1m0 0h1m1 0h1m-0.5 0h1m-0.5 0h1m0 0h1m0 0h1m1.5 0h1m0.5 0h1m-0.5 0h1m2 0h1m-21 0.5h1m3.5 0h1m0 0h1m0.5 0h1m0.5 0h1m1 0h1m0 0h1m-0.5 0h1m-0.5 0h1m0 0h1m0 0h1m0 0h1m-17.5 0.5h1m-0.5 0h1m3 0h1m0 0h1m-0.5 0h1m-1 0h1m0.5 0h1m-1 0h1m2 0h1m1.5 0h1m0.5 0h1m-1 0h1m0 0h1m-0.5 0h1m2.5 0h1m0.5 0h1m9.5 0h1m-40.5 0.5h1m4 0h1m9 0h1m1.5 0h1m2.5 0h1m0 0h1m0 0h1m1 0h1m-0.5 0h1m6.5 0h1m5.5 0h1m-28 0.5h1m4 0h1m0.5 0h1m-0.5 0h1m-0.5 0h1m8.5 0h1m5 0h1m0.5 0h1m-31.5 0.5h1m4.5 0h1m2 0h1m0 0h1m-1 0h1m1.5 0h1m-0.5 0h1m-0.5 0h1m0 0h1m3 0h1m0 0h1m-0.5 0h1m0.5 0h1m-0.5 0h1m-0.5 0h1m1.5 0h1m7.5 0h1m-40 0.5h1m6 0h1m0 0h1m3 0h1m-1 0h1m0 0h1m-0.5 0h1m-0.5 0h1m-1 0h1m2 0h1m-1 0h1m0 0h1m-0.5 0h1m-1 0h1m6 0h1m0.5 0h1m-17.5 0.5h1m-0.5 0h1m1 0h1m-0.5 0h1m0 0h1m-1 0h1m2.5 0h1m-0.5 0h1m-0.5 0h1m1 0h1m1.5 0h1m-0.5 0h1m-1 0h1m7.5 0h1m2 0h1m-32 0.5h1m5 0h1m1 0h1m1.5 0h1m-1 0h1m-0.5 0h1m0 0h1m-0.5 0h1m0 0h1m-0.5 0h1m0 0h1m0 0h1m0.5 0h1m-1 0h1m-0.5 0h1m0.5 0h1m-0.5 0h1m0.5 0h1m-1 0h1m2.5 0h1m-0.5 0h1m3 0h1m-26 0.5h1m4 0h1m0 0h1m1 0h1m0 0h1m-0.5 0h1m0 0h1m-0.5 0h1m-0.5 0h1m0 0h1m-15 0.5h1m0.5 0h1m-0.5 0h1m-0.5 0h1m3.5 0h1m-1 0h1m-1 0h1m-0.5 0h1m0 0h1m-0.5 0h1m2 0h1m0.5 0h1m-1 0h1m12 0h1m-0.5 0h1m-24.5 0.5h1m0 0h1m1 0h1m2 0h1m1.5 0h1m1 0h1m4 0h1m-15 0.5h1m2 0h1m0 0h1m1.5 0h1m8.5 0h1m8 0h1m-31 0.5h1m4 0h1m-1 0h1m-0.5 0h1m-0.5 0h1m0.5 0h1m0 0h1m-0.5 0h1m0 0h1m-1 0h1m3 0h1m-14 0.5h1m11.5 0h1m0.5 0h1m1.5 0h1m2 0h1m2 0h1m-21.5 0.5h1m4.5 0h1m8.5 0h1m9 0h1m-24.5 0.5h1m-0.5 0h1m2 0h1m3.5 0h1m-0.5 0h1m4.5 0h1m0.5 0h1m6 0h1m-27 0.5h1m5 0h1m16 0h1m2 0h1m-45 0.5h1m15.5 0h1m4.5 0h1m2.5 0h1m4.5 0h1m-18.5 0.5h1m5.5 0h1m0.5 0h1m-5 0.5h1m6 0h1m6.5 0h1m3.5 0h1m-29.5 0.5h1m3 0h1m2 0h1m0.5 0h1m6.5 0h1m7.5 0h1m8 0h1m-31 0.5h1m7.5 0h1m12 0h1m-32 0.5h1m24 0h1m0.5 0h1m7.5 0h1m-17 0.5h1m17 0h1m-31 0.5h1m14 0h1m-1 0h1m7 0.5h1m-18 0.5h1m1.5 0h1m5.5 0h1m-11.5 0.5h1m10.5 0.5h1m4.5 0h1m-26.5 1h1m11 0.5h1m2 0h1m-2.5 0.5h1m0.5 0.5h1m1.5 0h1m-1 0h1m-19.5 0.5h1m9 0h1m-8 0.5h1m6.5 0h1m8 0h1m10 0h1m-22.5 0.5h1m1.5 0h1m2.5 0h1m4.5 0h1m-21.5 0.5h1m9.5 0h1m3 0h1m-11 0.5h1m-1 0h1m9 0h1m0.5 0h1m-0.5 0h1m-0.5 0h1m-23.5 0.5h1m5 0h1m13.5 0h1m-10.5 0.5h1m1 0h1m3 0h1m18.5 0h1m-31 0.5h1m10.5 0h1m1.5 0h1m0.5 0h1m-10 0.5h1m0.5 0h1m2 0h1m3.5 0h1m3 0h1m2 0h1m-21.5 0.5h1m5 0h1m3 0h1m0 0h1m0.5 0h1m1.5 0.5h1m-10 0.5h1m-1 0h1m1 0h1m3 0h1m-22 0.5h1m12 0h1m-0.5 0h1m2.5 0h1m-15 0.5h1m15 0h1m1.5 0h1m0 0h1m-0.5 0h1m-6.5 0.5h1m5.5 0h1m-7 0.5h1m0.5 0h1m-6 0.5h1m-16 0.5h1m11 0h1m12.5 0h1m7.5 0h1m-24.5 0.5h1m26.5 0h1m-26 0.5h1m2.5 0h1m1.5 0h1m0 0h1m-14 0.5h1m6.5 0h1m9.5 0h1m-18.5 0.5h1m2 0h1m4.5 0h1m-19 0.5h1m3 0h1m14 0h1m1 0h1m2 0h1m4 0.5h1m-10.5 0.5h1m3.5 0.5h1m-1 0.5h1m3.5 0h1m-12.5 0.5h1m5 0.5h1m-4.5 0.5h1m-1.5 0.5h1m4 0.5h1m5 0h1m-27 0.5h1m11 0h1m14.5 0h1m-1 0h1m-11 0.5h1m0.5 0h1m1 0h1m-6.5 1h1m0.5 0h1m9.5 0h1m4 0h1m-17.5 0.5h1m0 0h1m9.5 0h1m-12.5 0.5h1m3.5 0h1m-7.5 0.5h1m1 0h1m1 0h1m-14.5 0.5h1m13.5 0h1m6.5 0h1m-34 0.5h1m9.5 0h1m6 0h1m5 0h1m-18 0.5h1m6 0h1m7 0.5h1m0.5 0h1m-9.5 0.5h1m0.5 0h1m5.5 0h1m1.5 0h1m0 0h1m-14 0.5h1m-1 0.5h1m6 0h1m-1 0h1m5.5 0h1m1.5 0h1m-11.5 0.5h1m-0.5 0h1m1.5 0h1m-0.5 0h1m8.5 0h1m0.5 0h1m-14.5 0.5h1m8.5 0h1m-1 0h1m-13.5 0.5h1m2.5 0h1m-0.5 0h1m0.5 0h1m0.5 0h1m0.5 0h1m-0.5 0h1m-11 0.5h1m1.5 0.5h1m0.5 0h1m8.5 0h1m-9 0.5h1m4 0h1m-7.5 0.5h1m3 0h1m0.5 0h1m2 0h1m5 0h1m-29 0.5h1m2 0h1m2 0h1m9.5 0h1m3.5 0h1m-11.5 0.5h1m0 0h1m-0.5 0h1m5 0h1m0.5 0h1m1.5 0h1m-6.5 0.5h1m-5 0.5h1m0.5 0h1m-1 0h1m0 0h1m0.5 0h1m7.5 0h1m0 0h1m-13.5 0.5h1m0.5 0h1m-0.5 0h1m6 0h1m0 0h1m-1 0h1m11 0h1m-24 0.5h1m0.5 0h1m1.5 0h1m0.5 0h1m1 0h1m5.5 0h1m-33.5 0.5h1m17.5 0h1m0 0h1m2.5 0h1m-0.5 0h1m0.5 0h1m1 0h1m6 0h1m-12.5 0.5h1m6 0h1m-24.5 0.5h1m12 0h1m-0.5 0h1m-2.5 0.5h1m-1 0h1m5.5 0h1m-8 0.5h1m6.5 0h1m-11 0.5h1m3 0h1m4.5 0h1m6.5 0h1m-14.5 0.5h1m1 0h1m3 0h1m-0.5 0h1m-0.5 0h1m-12 0.5h1m-0.5 0h1m-1 0h1m8.5 0h1m1.5 0h1m-6.5 0.5h1m0 0h1m17 0h1m-19 0.5h1m-1 0h1m5.5 0h1m-7 0.5h1m2.5 0h1m1 0h1m4 0h1m-7.5 0.5h1m-7 0.5h1m0.5 0h1m7 0h1m-10.5 0.5h1m1.5 0h1m4 0.5h1m-9.5 0.5h1m3 0h1m-8.5 0.5h1m-2 1h1" stroke="#262626" stroke-width="1" stroke-opacity="0.42" fill="none"/>
<rect x="61.8" y="354.3" width="70.2" height="71.6" fill="none" stroke="#1a1a1a" stroke-width="2"/>
<path d="M104 354.3V395.2H125.3V354.3" fill="none" stroke="#1a1a1a" stroke-width="2"/>
<text x="107.01" y="408.2" font-size="13.19" fill="#1a1a1a" stroke="#1a1a1a" stroke-width="0.19" textLength="14.68" lengthAdjust="spacingAndGlyphs">12</text>
<text x="62.1" y="432.1" font-size="4.8" text-anchor="middle" fill="#505050">10<tspan dy="-1.6" font-size="3.2">0</tspan></text>
<line x1="61.8" y1="425.9" x2="61.8" y2="427.7" stroke="#333" stroke-width="1"/>
<text transform="translate(59.2,425.9) rotate(-90)" font-size="4.8" text-anchor="middle" fill="#505050">10<tspan dy="-1.6" font-size="3.2">0</tspan></text>
<line x1="60.0" y1="425.9" x2="61.8" y2="425.9" stroke="#333" stroke-width="1"/>
<text x="79.6" y="432.1" font-size="4.8" text-anchor="middle" fill="#505050">10<tspan dy="-1.6" font-size="3.2">1</tspan></text>
<line x1="79.3" y1="425.9" x2="79.3" y2="427.7" stroke="#333" stroke-width="1"/>
<text transform="translate(59.2,408.0) rotate(-90)" font-size="4.8" text-anchor="middle" fill="#505050">10<tspan dy="-1.6" font-size="3.2">1</tspan></text>
<line x1="60.0" y1="408.0" x2="61.8" y2="408.0" stroke="#333" stroke-width="1"/>
<text x="97.2" y="432.1" font-size="4.8" text-anchor="middle" fill="#505050">10<tspan dy="-1.6" font-size="3.2">2</tspan></text>
<line x1="96.9" y1="425.9" x2="96.9" y2="427.7" stroke="#333" stroke-width="1"/>
<text transform="translate(59.2,390.1) rotate(-90)" font-size="4.8" text-anchor="middle" fill="#505050">10<tspan dy="-1.6" font-size="3.2">2</tspan></text>
<line x1="60.0" y1="390.1" x2="61.8" y2="390.1" stroke="#333" stroke-width="1"/>
<text x="114.8" y="432.1" font-size="4.8" text-anchor="middle" fill="#505050">10<tspan dy="-1.6" font-size="3.2">3</tspan></text>
<line x1="114.5" y1="425.9" x2="114.5" y2="427.7" stroke="#333" stroke-width="1"/>
<text transform="translate(59.2,372.2) rotate(-90)" font-size="4.8" text-anchor="middle" fill="#505050">10<tspan dy="-1.6" font-size="3.2">3</tspan></text>
<line x1="60.0" y1="372.2" x2="61.8" y2="372.2" stroke="#333" stroke-width="1"/>
<text x="132.3" y="432.1" font-size="4.8" text-anchor="middle" fill="#505050">10<tspan dy="-1.6" font-size="3.2">4</tspan></text>
<line x1="132.0" y1="425.9" x2="132.0" y2="427.7" stroke="#333" stroke-width="1"/>
<text transform="translate(59.2,354.3) rotate(-90)" font-size="4.8" text-anchor="middle" fill="#505050">10<tspan dy="-1.6" font-size="3.2">4</tspan></text>
<line x1="60.0" y1="354.3" x2="61.8" y2="354.3" stroke="#333" stroke-width="1"/>
<path d="M173.5 358.5h1m24.5 0.5h1m-6 0.5h1m6.5 0.5h1m-6 1h1m2 0h1m-7 0.5h1m3 0h1m2.5 0h1m-0.5 0h1m-9.5 0.5h1m1 0h1m-0.5 0h1m2.5 0h1m1 0.5h1m-0.5 0h1m-4.5 0.5h1m1 0.5h1m-10.5 0.5h1m0.5 0h1m0.5 0h1m7.5 0h1m-24 0.5h1m11 0h1m4 0h1m0 0h1m-0.5 0h1m0.5 0h1m4 0h1m-12.5 0.5h1m1.5 0h1m0.5 0h1m-1 0h1m-0.5 0h1m0 0h1m-0.5 0h1m3.5 0h1m-27 0.5h1m9.5 0h1m9 0h1m0.5 0h1m4.5 0h1m-21 0.5h1m6 0h1m2 0h1m0.5 0h1m1.5 0h1m-1 0h1m0 0h1m2.5 0h1m-19 0.5h1m9 0h1m2 0h1m0.5 0h1m0 0h1m-9.5 0.5h1m-0.5 0h1m0 0h1m-0.5 0h1m0 0h1m1 0h1m1 0h1m-1 0h1m0 0h1m1.5 0h1m-26 0.5h1m6.5 0h1m-0.5 0h1m5 0h1m1 0h1m1 0h1m-0.5 0h1m-0.5 0h1m0.5 0h1m-4 0.5h1m-1 0h1m-0.5 0h1m-1 0h1m-0.5 0h1m1 0h1m0 0h1m2 0h1m0.5 0h1m-26 0.5h1m14.5 0h1m0.5 0h1m-0.5 0h1m1 0h1m-0.5 0h1m-1 0h1m-22 0.5h1m5 0h1m12 0h1m-1 0h1m-1 0h1m0.5 0h1m0.5 0h1m0 0h1m-0.5 0h1m0.5 0h1m0.5 0h1m-23.5 0.5h1m0.5 0h1m1 0h1m2 0h1m4.5 0h1m0 0h1m0 0h1m-1 0h1m0 0h1m-1 0h1m2.5 0h1m-17 0.5h1m7.5 0h1m1.5 0h1m-0.5 0h1m-1 0h1m1 0h1m4.5 0h1m3 0h1m-24.5 0.5h1m6 0h1m0 0h1m1 0h1m1.5 0h1m0 0h1m0 0h1m3.5 0h1m-27 0.5h1m10.5 0h1m4.5 0h1m-1 0h1m1 0h1m0.5 0h1m-0.5 0h1m-1 0h1m1 0h1m2.5 0h1m-1 0h1m-18 0.5h1m9.5 0h1m0.5 0h1m2 0h1m1.5 0h1m-0.5 0h1m-27.5 0.5h1m13.5 0h1m2 0h1m0 0h1m-1 0h1m-1 0h1m1 0h1m-1 0h1m-0.5 0h1m1.5 0h1m-9.5 0.5h1m0.5 0h1m-1 0h1m-0.5 0h1m-0.5 0h1m0 0h1m-0.5 0h1m-1 0h1m-1 0h1m0 0h1m4.5 0h1m-10 0.5h1m0.5 0h1m0 0h1m-0.5 0h1m1 0h1m0 0h1m-10.5 0.5h1m3 0h1m-1 0h1m0 0h1m1 0h1m-0.5 0h1m1 0h1m3 0h1m-8 0.5h1m4 0h1m-27 0.5h1m9.5 0h1m5 0h1m-0.5 0h1m2 0h1m1.5 0h1m-1 0h1m1.5 0h1m-0.5 0h1m2.5 0h1m-16.5 0.5h1m3.5 0h1m1 0h1m-1 0h1m3 0h1m0 0h1m-24 0.5h1m9.5 0h1m0.5 0h1m2 0h1m2.5 0h1m0 0h1m-1 0h1m-0.5 0h1m4 0h1m-27 0.5h1m5.5 0h1m8 0h1m3 0h1m0.5 0h1m0.5 0h1m0.5 0h1m2 0h1m-29.5 0.5h1m17.5 0h1m1.5 0h1m-1 0h1m1.5 0h1m-0.5 0h1m0.5 0h1m5 0h1m-29.5 0.5h1m19.5 0h1m0 0h1m1 0h1m0.5 0h1m-11.5 0.5h1m-0.5 0h1m-0.5 0h1m3.5 0h1m0.5 0h1m2.5 0h1m-35 0.5h1m28.5 0h1m2.5 0h1m3.5 0h1m-18 0.5h1m1.5 0h1m2.5 0h1m2 0h1m1.5 0h1m-3 0.5h1m-1 0h1m3 0h1m-29.5 0.5h1m19.5 0h1m-0.5 0h1m1 0h1m-0.5 0h1m-0.5 0h1m2 0h1m0 0h1m-8.5 0.5h1m0.5 0h1m-1 0h1m0.5 0h1m-3.5 0.5h1m0.5 0h1m1.5 0h1m0.5 0h1m-3.5 0.5h1m-33 0.5h1m12.5 0.5h1m0 0h1m5 0h1m1.5 0h1m0.5 0h1m2.5 0h1m0.5 0h1m2 0h1m0 0h1m1.5 0h1m-0.5 0h1m-13.5 0.5h1m3 0h1m-1 0h1m9 0h1m-26.5 0.5h1m10.5 0h1m4.5 0h1m0.5 0h1m-0.5 0h1m-0.5 0h1m0 0h1m-24 0.5h1m15 0h1m2.5 0h1m0 0h1m0 0h1m-10.5 0.5h1m-0.5 0h1m0.5 0h1m14.5 0h1m-28.5 0.5h1m11.5 0h1m3 0h1m1 0h1m1 0h1m-17 0.5h1m17 0h1m-24 0.5h1m18.5 0h1m-46 1h1m42.5 0h1m0.5 0h1m-1.5 0.5h1m1 0h1m0 0h1m-1 0h1m1 0h1m-25.5 0.5h1m20.5 0h1m-37.5 1h1m13 0h1m-3.5 0.5h1m22 0h1m-23 0.5h1m19.5 0.5h1m6 0.5h1m-39.5 0.5h1m6.5 0h1m0.5 0h1m0.5 0h1m3 0h1m21.5 0h1m-6.5 0.5h1m1 0h1m-25.5 0.5h1m30 0.5h1m-47.5 0.5h1m9 0h1m18 0h1m10 0h1m-38.5 0.5h1m2.5 0h1m7.5 0h1m1.5 0h1m-1.5 0.5h1m3 0h1m13 1h1m-32 0.5h1m20 0h1m-28 0.5h1m34.5 0h1m-22.5 1h1m-10.5 1h1m0.5 0.5h1m6.5 0h1m-4 0.5h1m9 1.5h1m-11.5 0.5h1m9.5 0h1m-22.5 0.5h1m20 0h1m-14 0.5h1m-5 1h1m10 0h1m9.5 0h1m-13.5 0.5h1m-0.5 0h1m-6.5 1.5h1m3.5 1h1m3 0.5h1m-18 0.5h1m10 0.5h1m-16.5 0.5h1m7.5 0h1m18 1.5h1m1.5 0h1m-9 1h1m-17 0.5h1m2 0h1m-7.5 0.5h1m4 0h1m-4 0.5h1m4 0h1m0.5 0.5h1m1 0h1m11.5 0.5h1m-19.5 0.5h1m-5.5 0.5h1m3 1h1m1 0h1m2 0h1m-9 0.5h1m5 0.5h1m1 2h1m9.5 1.5h1m-16.5 1h1" stroke="#262626" stroke-width="1" stroke-opacity="0.42" fill="none"/>
<path d="M197 358.5h1m2.5 0.5h1m0.5 0h1m-20 1h1m1.5 0h1m7 0h1m3 0h1m4.5 0.5h1m-8 1.5h1m1 0h1m0 0h1m-5.5 0.5h1m2 0h1m1.5 0h1m1 0h1m-0.5 0h1m-12.5 0.5h1m0 0h1m0 0h1m0.5 0h1m0 0h1m1 0h1m0 0h1m1 0h1m-31 0.5h1m10 0h1m13 0h1m-0.5 0h1m0 0h1m1.5 0h1m-1 0h1m1.5 0h1m4 0h1m-14 0.5h1m1 0h1m-0.5 0h1m-0.5 0h1m3.5 0h1m-5.5 0.5h1m-2 0.5h1m0.5 0h1m0.5 0h1m0.5 0h1m-5.5 0.5h1m2.5 0h1m4.5 0h1m1.5 0h1m-10.5 0.5h1m3 0h1m0 0h1m-8.5 0.5h1m2 0h1m-1 0h1m0.5 0h1m-1 0h1m0 0h1m-0.5 0h1m-5 0.5h1m-0.5 0h1m-0.5 0h1m0.5 0h1m1 0h1m0.5 0h1m-25.5 0.5h1m7 0h1m6.5 0h1m0 0h1m1.5 0h1m-0.5 0h1m-1 0h1m0 0h1m0 0h1m1.5 0h1m-12.5 0.5h1m1.5 0h1m0 0h1m0 0h1m0.5 0h1m0.5 0h1m1 0h1m-4.5 0.5h1m-1 0h1m1.5 0h1m-0.5 0h1m-14 0.5h1m1.5 0h1m0 0h1m0 0h1m4.5 0h1m0 0h1m0.5 0h1m3.5 0h1m-24 0.5h1m11.5 0h1m1.5 0h1m0 0h1m1.5 0h1m-17 0.5h1m-0.5 0h1m0 0h1m9 0h1m0 0h1m-0.5 0h1m1 0h1m0.5 0h1m0.5 0h1m-11.5 0.5h1m3 0h1m-0.5 0h1m-1 0h1m0.5 0h1m0 0h1m2 0h1m-19 0.5h1m2 0h1m2.5 0h1m2 0h1m4 0h1m-0.5 0h1m-1 0h1m-0.5 0h1m0 0h1m3.5 0h1m0 0h1m-28 0.5h1m4.5 0h1m7.5 0h1m-0.5 0h1m1.5 0h1m0 0h1m-1 0h1m-1 0h1m1 0h1m5.5 0h1m-40.5 0.5h1m27 0h1m-1 0h1m0.5 0h1m-0.5 0h1m0 0h1m-1 0h1m-0.5 0h1m-0.5 0h1m-1 0h1m-1 0h1m-0.5 0h1m2 0h1m1.5 0h1m-8 0.5h1m-0.5 0h1m2.5 0h1m-1 0h1m-1 0h1m2.5 0h1m-18.5 0.5h1m6 0h1m-0.5 0h1m-1 0h1m-0.5 0h1m2 0h1m-0.5 0h1m5 0h1m-10 0.5h1m-1 0h1m1.5 0h1m-1 0h1m-1 0h1m0 0h1m0 0h1m1 0h1m-29 0.5h1m23.5 0h1m-0.5 0h1m-0.5 0h1m-0.5 0h1m0 0h1m0 0h1m-8.5 0.5h1m0.5 0h1m-0.5 0h1m0 0h1m-0.5 0h1m-1 0h1m0 0h1m-1 0h1m0 0h1m-1 0h1m-0.5 0h1m-1 0h1m0 0h1m-1 0h1m0.5 0h1m-10 0.5h1m-0.5 0h1m1.5 0h1m1 0h1m-1 0h1m-1 0h1m1.5 0h1m-0.5 0h1m0.5 0h1m0 0h1m-11.5 0.5h1m-0.5 0h1m2.5 0h1m-0.5 0h1m0 0h1m-27 0.5h1m8 0h1m8 0h1m1 0h1m1 0h1m1.5 0h1m-0.5 0h1m2 0h1m-12.5 0.5h1m8 0h1m-1 0h1m0 0h1m-0.5 0h1m0.5 0h1m-27.5 0.5h1m20 0h1m-0.5 0h1m-0.5 0h1m1 0h1m-0.5 0h1m3.5 0h1m0 0h1m-10 0.5h1m-1 0h1m1.5 0h1m-0.5 0h1m-29.5 0.5h1m14 0h1m10.5 0h1m-0.5 0h1m2 0h1m-1 0h1m0.5 0h1m-24.5 0.5h1m10 0h1m2.5 0h1m0.5 0h1m-0.5 0h1m0.5 0h1m-0.5 0h1m1 0h1m5.5 0h1m-27.5 0.5h1m16.5 0h1m-0.5 0h1m-0.5 0h1m-0.5 0h1m-11.5 0.5h1m2.5 0h1m3 0h1m-0.5 0h1m-1 0h1m0.5 0h1m-21 0.5h1m13.5 0h1m3.5 0h1m0 0h1m1 0h1m-0.5 0h1m-0.5 0h1m6.5 0h1m-14.5 0.5h1m0 0h1m-0.5 0h1m5 0h1m-3 0.5h1m0.5 0h1m-28 0.5h1m11.5 0h1m9.5 0h1m3.5 0.5h1m-0.5 0h1m-39 0.5h1m30 0.5h1m0.5 0h1m-0.5 0h1m-28.5 0.5h1m3.5 0h1m6 0h1m11 0h1m0 0h1m6 0h1m-21 0.5h1m0 0h1m16 0h1m-21.5 0.5h1m14 0h1m1.5 0h1m-1 0h1m1 0h1m-20 0.5h1m12.5 0h1m0 0h1m3.5 0h1m1 0h1m-30 0.5h1m27.5 0h1m-0.5 0h1m-7 0.5h1m6 0h1m-0.5 0h1m-0.5 0h1m-33.5 1h1m2 0h1m-1 0h1m7.5 0h1m11 0h1m-0.5 0h1m10.5 0h1m0.5 0h1m-33.5 0.5h1m4 0h1m19 0h1m-10.5 0.5h1m5.5 0h1m4 0h1m-29 0.5h1m1.5 0h1m17 0h1m-38 0.5h1m6 0h1m7 0h1m5 0h1m-15.5 0.5h1m8.5 0h1m19.5 0h1m11.5 0h1m-25.5 0.5h1m-28.5 0.5h1m16.5 0h1m12 0h1m-20 0.5h1m7.5 0h1m10 0h1m11.5 0h1m-22.5 0.5h1m3.5 1.5h1m-21.5 1h1m3 0.5h1m35.5 0h1m-31 0.5h1m1.5 0h1m9 0h1m2 0.5h1m-26 1h1m13.5 0.5h1m-15.5 1h1m3.5 0h1m-0.5 0.5h1m-13 0.5h1m20 0h1m-13.5 0.5h1m0.5 0h1m0.5 0h1m1 0h1m-9 0.5h1m11.5 2.5h1m-11.5 0.5h1m4.5 0.5h1m-0.5 0h1m0.5 0h1m1 0.5h1m-3.5 0.5h1m5 1.5h1m-18 0.5h1m0 0h1m17 0h1m-15 0.5h1m1.5 0h1m0 0h1m-11.5 2h1m7 0h1m3.5 0.5h1m-6 1h1m-7 2h1m8 0h1m-4.5 0.5h1m-0.5 0h1m-12 0.5h1m7 0h1m4 2.5h1m-8.5 4.5h1m9 0h1m2.5 1.5h1" stroke="#262626" stroke-width="1" stroke-opacity="0.42" fill="none"/>
<path d="M194 359h1m2 0h1m1.5 0.5h1m-1 0h1m-6.5 0.5h1m-2.5 0.5h1m0 0h1m3 0.5h1m0 0h1m-28 0.5h1m6 0h1m10 0h1m2.5 0h1m3 0h1m1.5 0h1m0.5 0h1m-12.5 0.5h1m5.5 0.5h1m1.5 0h1m2.5 0h1m0 0h1m-5.5 0.5h1m-7 0.5h1m1.5 0h1m0.5 0h1m0.5 0h1m2 0h1m-3.5 0.5h1m0 0h1m-0.5 0h1m-20.5 0.5h1m15.5 0h1m0.5 0h1m-0.5 0h1m-2 0.5h1m-1 0h1m0.5 0h1m-1 0h1m0.5 0h1m-7.5 0.5h1m1 0h1m1.5 0h1m0.5 0h1m1.5 0h1m0 0h1m-22 0.5h1m5.5 0h1m3 0h1m6.5 0h1m-16 0.5h1m5.5 0.5h1m1.5 0h1m2 0h1m-1 0h1m1 0h1m1.5 0h1m-5.5 0.5h1m-0.5 0h1m-1 0h1m0 0h1m1.5 0h1m0.5 0h1m0 0h1m-15 0.5h1m0.5 0h1m0 0h1m1.5 0h1m-0.5 0h1m-0.5 0h1m2.5 0h1m-1 0h1m1 0h1m-1 0h1m-9.5 0.5h1m2 0h1m0.5 0h1m0 0h1m1.5 0h1m-9 0.5h1m0.5 0h1m0 0h1m3.5 0h1m-0.5 0h1m-13.5 0.5h1m-1 0h1m6 0h1m2 0h1m-1 0h1m-0.5 0h1m-0.5 0h1m-0.5 0h1m0 0h1m-1 0h1m-7.5 0.5h1m-0.5 0h1m-1 0h1m1 0h1m-0.5 0h1m-0.5 0h1m-1 0h1m-0.5 0h1m-1 0h1m-1 0h1m1 0h1m-0.5 0h1m0.5 0h1m-0.5 0h1m-22.5 0.5h1m12 0h1m3 0h1m-0.5 0h1m-0.5 0h1m1.5 0h1m2 0h1m-13.5 0.5h1m4.5 0h1m-1 0h1m-0.5 0h1m-1 0h1m6 0h1m-30 0.5h1m8.5 0h1m3.5 0h1m2 0h1m0.5 0h1m1.5 0h1m0.5 0h1m-22 0.5h1m6.5 0h1m5 0h1m2 0h1m-1 0h1m2 0h1m-1 0h1m0 0h1m3 0h1m-11.5 0.5h1m4.5 0h1m0 0h1m1 0h1m2 0h1m-28 0.5h1m7 0h1m12 0h1m0 0h1m-0.5 0h1m-0.5 0h1m-0.5 0h1m0 0h1m-1 0h1m-31.5 0.5h1m6.5 0h1m13 0h1m-0.5 0h1m-0.5 0h1m3 0h1m0 0h1m6.5 0h1m-11.5 0.5h1m-1 0h1m0 0h1m-1 0h1m0 0h1m-0.5 0h1m2.5 0h1m-1 0h1m-1 0h1m0 0h1m-1 0h1m-1 0h1m0.5 0h1m-19 0.5h1m8 0h1m0 0h1m-1 0h1m3.5 0h1m-36 0.5h1m28 0h1m2.5 0h1m-0.5 0h1m1 0h1m-9 0.5h1m0.5 0h1m0 0h1m0 0h1m2 0h1m-1 0h1m3 0h1m-29.5 0.5h1m15 0h1m2 0h1m2 0h1m1 0h1m-0.5 0h1m-1 0h1m1.5 0h1m-1 0h1m-1 0h1m-21 0.5h1m10 0h1m2.5 0h1m-1 0h1m-1 0h1m1.5 0h1m1.5 0h1m-0.5 0h1m2.5 0h1m-11 0.5h1m0 0h1m-0.5 0h1m0 0h1m1 0h1m-0.5 0h1m0 0h1m0.5 0h1m-11.5 0.5h1m-1 0h1m1.5 0h1m4 0h1m0 0h1m2.5 0h1m-28 0.5h1m1 0h1m17 0h1m0 0h1m1.5 0h1m-0.5 0h1m1 0h1m0.5 0h1m-23.5 0.5h1m0.5 0h1m7.5 0h1m6 0h1m0 0h1m-1 0h1m0.5 0h1m2 0h1m-23.5 0.5h1m9 0h1m3 0h1m3 0h1m-0.5 0h1m5 0h1m-13 0.5h1m2 0h1m3 0h1m1 0h1m-12.5 0.5h1m2 0h1m1 0h1m0.5 0h1m-0.5 0h1m1 0h1m-0.5 0h1m-9.5 0.5h1m1.5 0h1m-0.5 0h1m1 0h1m0 0h1m-1 0h1m-1 0h1m0.5 0h1m0 0h1m-31 0.5h1m16.5 0h1m8.5 0h1m-0.5 0h1m1.5 0h1m-29.5 0.5h1m25 0.5h1m2 0h1m-29.5 0.5h1m19.5 0h1m-0.5 0h1m1 0h1m1 0h1m2 0h1m-11.5 0.5h1m11.5 0h1m-27.5 0.5h1m18.5 0h1m1 0h1m7 0h1m-10.5 0.5h1m5 0h1m-29.5 0.5h1m26 0h1m-41.5 0.5h1m11 0h1m23.5 0h1m1.5 0h1m-3 0.5h1m2 0h1m-1 0h1m-31.5 1h1m5 0h1m15.5 0h1m-22 0.5h1m32 0h1m-41 0.5h1m31 0h1m-24.5 0.5h1m4.5 0h1m2 0h1m0 0h1m3 0h1m4 0h1m-32 1h1m8 0.5h1m22.5 0h1m-25.5 1h1m13 0h1m16.5 0h1m-11.5 0.5h1m-18.5 0.5h1m-13 1h1m4 0h1m6.5 0.5h1m4 0.5h1m-8 1h1m-7.5 0.5h1m-8.5 0.5h1m41 0h1m-18 1h1m-9 1h1m-1.5 0.5h1m6 0h1m-13.5 0.5h1m1.5 0h1m-1 0h1m0 0.5h1m3 0h1m-14 0.5h1m31 0.5h1m-39.5 0.5h1m12.5 0h1m-1 1h1m5 0h1m-13 1h1m3 0.5h1m2 0h1m1.5 0h1m-23.5 0.5h1m13 1h1m1.5 0.5h1m-6.5 0.5h1m4.5 0h1m0.5 0h1m-12.5 0.5h1m2.5 0h1m5.5 0h1m0 0h1m-9 1h1m13.5 0h1m6 0h1m-19 0.5h1m11.5 0h1m-9 1h1m-17 0.5h1m13.5 0h1m2 0h1m3.5 0h1m-22.5 1.5h1m9.5 0h1m-3 0.5h1m0 0h1m4.5 0h1m-11 0.5h1m-3.5 0.5h1m-5.5 0.5h1m6.5 0.5h1m6.5 0h1m-5.5 1.5h1m-2.5 0.5h1m0 0.5h1m2.5 0h1m-1 0h1m16 0h1m-20 0.5h1m-5.5 1.5h1m-0.5 0h1m-1 0h1m-7 0.5h1m13 0h1m-5.5 0.5h1m2.5 0h1m0 0h1m1.5 2h1m-9 0.5h1m5 0.5h1" stroke="#262626" stroke-width="1" stroke-opacity="0.42" fill="none"/>
<path d="M205 358h1m-12 1h1m8 0h1m-20 1h1m9.5 0h1m1.5 0h1m-2.5 0.5h1m3 0h1m1 0h1m-3 0.5h1m-0.5 0h1m0.5 0h1m2.5 0h1m-12 0.5h1m-0.5 0h1m-2 0.5h1m4.5 0h1m-8.5 1h1m-1 0h1m2.5 0.5h1m0 0h1m5.5 0h1m-8.5 0.5h1m1.5 0h1m-13 0.5h1m0.5 0h1m4.5 0h1m4 0h1m2 0h1m-6.5 0.5h1m0 0h1m1 0h1m-1 0h1m-5 0.5h1m0.5 0h1m1.5 0h1m-0.5 0h1m0.5 0h1m-21.5 0.5h1m15.5 0h1m1.5 0h1m-1 0h1m-0.5 0h1m-1 0h1m0 0h1m2.5 0h1m-13 0.5h1m1 0h1m0 0h1m-1.5 0.5h1m1.5 0h1m0.5 0h1m-0.5 0h1m-0.5 0h1m2.5 0h1m-11.5 0.5h1m5.5 0h1m1 0h1m0 0h1m2 0h1m-11.5 0.5h1m4 0h1m3 0h1m-11.5 0.5h1m0.5 0h1m2.5 0h1m-1 0h1m-0.5 0h1m-0.5 0h1m-0.5 0h1m0.5 0h1m1 0h1m0 0h1m-20.5 0.5h1m3 0h1m10.5 0h1m-1 0h1m0.5 0h1m0 0h1m0.5 0h1m2.5 0h1m-17 0.5h1m-1 0h1m0.5 0h1m4.5 0h1m-1 0h1m0.5 0h1m-0.5 0h1m1 0h1m0 0h1m-29.5 0.5h1m5 0h1m4.5 0h1m1 0h1m5 0h1m1.5 0h1m-0.5 0h1m-1 0h1m-0.5 0h1m-0.5 0h1m-0.5 0h1m0 0h1m-1 0h1m0 0h1m-0.5 0h1m1 0h1m-1 0h1m-20 0.5h1m8 0h1m1.5 0h1m-1 0h1m-0.5 0h1m-0.5 0h1m-1 0h1m0 0h1m1 0h1m-0.5 0h1m1 0h1m0 0h1m-29 0.5h1m5 0h1m4 0h1m6 0h1m1.5 0h1m-1 0h1m-0.5 0h1m-0.5 0h1m-0.5 0h1m-1 0h1m0 0h1m0.5 0h1m0 0h1m-1 0h1m-0.5 0h1m-0.5 0h1m2 0h1m1.5 0h1m-12.5 0.5h1m-0.5 0h1m3 0h1m0.5 0h1m-1 0h1m-0.5 0h1m-28 0.5h1m6.5 0h1m7.5 0h1m6.5 0h1m-1 0h1m0 0h1m-1 0h1m-0.5 0h1m1 0h1m-0.5 0h1m1.5 0h1m-42 0.5h1m29 0h1m0.5 0h1m-0.5 0h1m0 0h1m0 0h1m0 0h1m-1 0h1m0 0h1m-7 0.5h1m2.5 0h1m0 0h1m0.5 0h1m1 0h1m-5 0.5h1m3 0h1m0.5 0h1m-25 0.5h1m15.5 0h1m2 0h1m-1 0h1m0 0h1m-6 0.5h1m-0.5 0h1m-0.5 0h1m-0.5 0h1m0 0h1m-0.5 0h1m2 0h1m0.5 0h1m-23.5 0.5h1m10.5 0h1m0 0h1m-0.5 0h1m0.5 0h1m-0.5 0h1m0.5 0h1m0 0h1m-1 0h1m-0.5 0h1m-0.5 0h1m0.5 0h1m-1 0h1m4 0h1m-40 0.5h1m32 0h1m-1 0h1m-0.5 0h1m0.5 0h1m-1 0h1m-25 0.5h1m16 0h1m-1 0h1m0 0h1m0 0h1m0.5 0h1m-0.5 0h1m0.5 0h1m1 0h1m0 0h1m-30 0.5h1m5.5 0h1m-1 0h1m11.5 0h1m2.5 0h1m-0.5 0h1m-0.5 0h1m0.5 0h1m2.5 0h1m-11.5 0.5h1m-0.5 0h1m0 0h1m1.5 0h1m-0.5 0h1m-0.5 0h1m-1 0h1m-0.5 0h1m1.5 0h1m-0.5 0h1m-1 0h1m0 0h1m-1 0h1m-21.5 0.5h1m13 0h1m0 0h1m1.5 0h1m0 0h1m-34.5 0.5h1m9 0h1m21 0h1m-1 0h1m0 0h1m0 0h1m3.5 0h1m-11 0.5h1m1 0h1m0 0h1m-0.5 0h1m0 0h1m0 0h1m2.5 0h1m1 0h1m0.5 0h1m0 0h1m-26 0.5h1m10.5 0h1m1.5 0h1m1.5 0h1m3.5 0h1m-9 0.5h1m8 0h1m-49 0.5h1m23.5 0h1m6.5 0h1m11 0h1m-18.5 0.5h1m6.5 0h1m3.5 0h1m1.5 0h1m-1 0h1m3 0h1m-17.5 0.5h1m7.5 0h1m0 0h1m1 0h1m4 0h1m-11.5 0.5h1m3.5 0h1m0.5 0h1m0 0h1m3.5 0h1m-12 0.5h1m-0.5 0h1m2.5 0h1m5 0h1m-13.5 0.5h1m6.5 0h1m-0.5 0h1m3 0h1m-39 0.5h1m15 0h1m27 0h1m-24.5 0.5h1m15 0h1m-22.5 0.5h1m14 0h1m0 0h1m3 0h1m-28.5 0.5h1m25.5 0h1m-19 0.5h1m18 0h1m0 0h1m5 0h1m-0.5 0h1m-11.5 0.5h1m-23.5 0.5h1m25 0.5h1m-27 1h1m25 0h1m0 0h1m-49 0.5h1m44 0.5h1m3.5 0h1m-6 0.5h1m1 0h1m0 0h1m3 0h1m-9.5 0.5h1m3.5 0h1m-30 0.5h1m22.5 0h1m-32 1h1m36 0.5h1m-22.5 0.5h1m2.5 0h1m-10 0.5h1m30 0h1m-27 0.5h1m-6.5 0.5h1m-6 0.5h1m1.5 0.5h1m-4 0.5h1m0.5 0h1m-11.5 0.5h1m15 0h1m14 0.5h1m-12 0.5h1m-9 1h1m-3 1.5h1m11 0h1m1 0.5h1m1 0.5h1m-7.5 0.5h1m-17 0.5h1m12 0h1m-20 1.5h1m-1 0h1m14.5 0.5h1m1.5 0.5h1m-23.5 0.5h1m3 0h1m20 0h1m-4 0.5h1m-13 0.5h1m-1.5 0.5h1m1 0.5h1m-2 0.5h1m0.5 0h1m-11.5 1.5h1m4 0h1m0 0h1m-1 1.5h1m3.5 0h1m15 0h1m-13.5 0.5h1m-1.5 2h1m4.5 0h1m2 0h1m-15 1h1m-6 1.5h1m25 0h1m-22 0.5h1m2 0h1m-9 0.5h1m7 1h1m0 0h1m-14.5 0.5h1m2 0h1m-0.5 0h1m3.5 1.5h1m5 0h1m-4 0.5h1m-2 0.5h1m-9 2h1m3.5 0.5h1" stroke="#262626" stroke-width="1" stroke-opacity="0.42" fill="none"/>
<rect x="147.9" y="356" width="69.3" height="69.5" fill="none" stroke="#1a1a1a" stroke-width="2"/>
<path d="M189.5 356V395.5H210.3V356" fill="none" stroke="#1a1a1a" stroke-width="2"/>
<text x="192.28" y="408.08" font-size="12.3" fill="#1a1a1a" stroke="#1a1a1a" stroke-width="0.18" textLength="16.07" lengthAdjust="spacingAndGlyphs">66</text>
<text x="148.2" y="431.7" font-size="4.8" text-anchor="middle" fill="#505050">10<tspan dy="-1.6" font-size="3.2">0</tspan></text>
<line x1="147.9" y1="425.5" x2="147.9" y2="427.3" stroke="#333" stroke-width="1"/>
<text transform="translate(145.3,425.5) rotate(-90)" font-size="4.8" text-anchor="middle" fill="#505050">10<tspan dy="-1.6" font-size="3.2">0</tspan></text>
<line x1="146.1" y1="425.5" x2="147.9" y2="425.5" stroke="#333" stroke-width="1"/>
<text x="165.5" y="431.7" font-size="4.8" text-anchor="middle" fill="#505050">10<tspan dy="-1.6" font-size="3.2">1</tspan></text>
<line x1="165.2" y1="425.5" x2="165.2" y2="427.3" stroke="#333" stroke-width="1"/>
<text transform="translate(145.3,408.1) rotate(-90)" font-size="4.8" text-anchor="middle" fill="#505050">10<tspan dy="-1.6" font-size="3.2">1</tspan></text>
<line x1="146.1" y1="408.1" x2="147.9" y2="408.1" stroke="#333" stroke-width="1"/>
<text x="182.9" y="431.7" font-size="4.8" text-anchor="middle" fill="#505050">10<tspan dy="-1.6" font-size="3.2">2</tspan></text>
<line x1="182.6" y1="425.5" x2="182.6" y2="427.3" stroke="#333" stroke-width="1"/>
<text transform="translate(145.3,390.8) rotate(-90)" font-size="4.8" text-anchor="middle" fill="#505050">10<tspan dy="-1.6" font-size="3.2">2</tspan></text>
<line x1="146.1" y1="390.8" x2="147.9" y2="390.8" stroke="#333" stroke-width="1"/>
<text x="200.2" y="431.7" font-size="4.8" text-anchor="middle" fill="#505050">10<tspan dy="-1.6" font-size="3.2">3</tspan></text>
<line x1="199.9" y1="425.5" x2="199.9" y2="427.3" stroke="#333" stroke-width="1"/>
<text transform="translate(145.3,373.4) rotate(-90)" font-size="4.8" text-anchor="middle" fill="#505050">10<tspan dy="-1.6" font-size="3.2">3</tspan></text>
<line x1="146.1" y1="373.4" x2="147.9" y2="373.4" stroke="#333" stroke-width="1"/>
<text x="217.5" y="431.7" font-size="4.8" text-anchor="middle" fill="#505050">10<tspan dy="-1.6" font-size="3.2">4</tspan></text>
<line x1="217.2" y1="425.5" x2="217.2" y2="427.3" stroke="#333" stroke-width="1"/>
<text transform="translate(145.3,356.0) rotate(-90)" font-size="4.8" text-anchor="middle" fill="#505050">10<tspan dy="-1.6" font-size="3.2">4</tspan></text>
<line x1="146.1" y1="356.0" x2="147.9" y2="356.0" stroke="#333" stroke-width="1"/>
<path d="M64.5 482h1m-14.5 0.5h1m-5 0.5h1m-1.5 0.5h1m0.5 0h1m7.5 0h1m11 0h1m-0.5 0h1m-2 0.5h1m-26.5 0.5h1m25.5 0h1m2 0h1m-0.5 0h1m-22 0.5h1m1.5 0h1m7.5 0h1m1.5 0h1m-11 0.5h1m2 0h1m2 0h1m0.5 0h1m2.5 0h1m7 0h1m3 0h1m-21 0.5h1m1.5 0h1m0 0h1m-0.5 0h1m1.5 0h1m1 0h1m1.5 0h1m11.5 0h1m-39 0.5h1m7 0h1m1 0h1m-0.5 0h1m0 0h1m-0.5 0h1m-0.5 0h1m0.5 0h1m-0.5 0h1m0.5 0h1m0 0h1m4 0h1m-1 0h1m6.5 0h1m6.5 0h1m-36 0.5h1m5 0h1m7 0h1m0 0h1m8 0h1m0.5 0h1m12.5 0h1m-36 0.5h1m3 0h1m4.5 0h1m-0.5 0h1m0 0h1m0 0h1m2 0h1m5 0h1m-17 0.5h1m1.5 0h1m-0.5 0h1m0.5 0h1m-1 0h1m-0.5 0h1m10 0h1m-0.5 0h1m-22.5 0.5h1m3.5 0h1m0.5 0h1m1 0h1m-1 0h1m-0.5 0h1m0.5 0h1m0.5 0h1m2.5 0h1m-0.5 0h1m0 0h1m-1 0h1m0.5 0h1m1.5 0h1m0.5 0h1m1 0h1m0.5 0h1m-23 0.5h1m1.5 0h1m0 0h1m-0.5 0h1m-0.5 0h1m-1 0h1m1 0h1m2 0h1m0 0h1m-1 0h1m0 0h1m-0.5 0h1m1.5 0h1m4.5 0h1m3.5 0h1m-27.5 0.5h1m1.5 0h1m3 0h1m0.5 0h1m-0.5 0h1m1 0h1m-1 0h1m-0.5 0h1m-0.5 0h1m0 0h1m1 0h1m1 0h1m5.5 0h1m0.5 0h1m-31.5 0.5h1m1 0h1m1.5 0h1m2 0h1m-0.5 0h1m-1 0h1m1 0h1m-0.5 0h1m0 0h1m-1 0h1m1 0h1m2.5 0h1m-0.5 0h1m-1 0h1m1 0h1m0.5 0h1m1.5 0h1m-1 0h1m1.5 0h1m3.5 0h1m-28 0.5h1m5.5 0h1m0 0h1m-0.5 0h1m-0.5 0h1m0 0h1m-1 0h1m-0.5 0h1m-0.5 0h1m1.5 0h1m-1 0h1m0.5 0h1m2 0h1m1 0h1m1.5 0h1m13 0h1m-39.5 0.5h1m2 0h1m4 0h1m2 0h1m-0.5 0h1m4 0h1m0 0h1m0.5 0h1m0.5 0h1m2 0h1m8.5 0h1m-32 0.5h1m1.5 0h1m-0.5 0h1m-1 0h1m-0.5 0h1m0 0h1m-1 0h1m-0.5 0h1m-0.5 0h1m-0.5 0h1m-1 0h1m-1 0h1m0.5 0h1m1 0h1m0 0h1m-0.5 0h1m1 0h1m1 0h1m-0.5 0h1m-1 0h1m-0.5 0h1m-0.5 0h1m2.5 0h1m0 0h1m5.5 0h1m8 0h1m-35.5 0.5h1m1.5 0h1m1 0h1m-0.5 0h1m-0.5 0h1m-0.5 0h1m-0.5 0h1m-0.5 0h1m1 0h1m-0.5 0h1m0 0h1m2.5 0h1m1.5 0h1m0.5 0h1m3 0h1m-26 0.5h1m1.5 0h1m0 0h1m2 0h1m-0.5 0h1m2.5 0h1m0.5 0h1m0 0h1m0.5 0h1m2 0h1m-0.5 0h1m-0.5 0h1m-0.5 0h1m-0.5 0h1m12.5 0h1m-35.5 0.5h1m0.5 0h1m1.5 0h1m1.5 0h1m-0.5 0h1m3 0h1m0.5 0h1m-1 0h1m-0.5 0h1m-0.5 0h1m0.5 0h1m-0.5 0h1m-1 0h1m1 0h1m-1 0h1m3.5 0h1m2 0h1m2.5 0h1m7.5 0h1m-37 0.5h1m4 0h1m0 0h1m-0.5 0h1m2 0h1m-0.5 0h1m0.5 0h1m-0.5 0h1m0.5 0h1m1.5 0h1m-0.5 0h1m0 0h1m-0.5 0h1m0.5 0h1m8 0h1m0.5 0h1m-38 0.5h1m9.5 0h1m1 0h1m0 0h1m2 0h1m-0.5 0h1m0.5 0h1m0 0h1m1.5 0h1m-1 0h1m6.5 0h1m0 0h1m0.5 0h1m-25.5 0.5h1m-0.5 0h1m-0.5 0h1m3 0h1m2.5 0h1m1 0h1m4 0h1m-0.5 0h1m-0.5 0h1m0 0h1m1 0h1m-1 0h1m14 0h1m-37 0.5h1m10 0h1m0.5 0h1m0 0h1m7.5 0h1m5 0h1m4.5 0h1m2 0h1m-31 0.5h1m0.5 0h1m0.5 0h1m-0.5 0h1m-1 0h1m0 0h1m2 0h1m-0.5 0h1m3 0h1m0 0h1m6.5 0h1m-0.5 0h1m5 0h1m0 0h1m-36.5 0.5h1m1 0h1m0 0h1m5.5 0h1m0.5 0h1m-0.5 0h1m2.5 0h1m0 0h1m2 0h1m0.5 0h1m1.5 0h1m0.5 0h1m1.5 0h1m3 0h1m0 0h1m-1 0h1m-35 0.5h1m2.5 0h1m3 0h1m3 0h1m5.5 0h1m3 0h1m3 0h1m-23 0.5h1m2 0h1m0.5 0h1m12 0h1m4 0h1m1 0h1m-23.5 0.5h1m0.5 0h1m10.5 0h1m-0.5 0h1m0.5 0h1m2.5 0h1m0 0h1m0 0h1m2 0h1m1 0h1m-26.5 0.5h1m1.5 0h1m4.5 0h1m0.5 0h1m2 0h1m0 0h1m-0.5 0h1m8.5 0h1m-27.5 0.5h1m-0.5 0h1m4 0h1m11.5 0h1m5.5 0h1m5.5 0h1m-19 0.5h1m3.5 0h1m3 0h1m0 0h1m-18 0.5h1m4.5 0h1m6.5 0h1m8.5 0h1m-34 0.5h1m5.5 0h1m-0.5 0h1m1.5 0h1m0 0h1m6 0h1m-1 0h1m-11 0.5h1m1.5 0h1m2 0h1m3 0h1m15 0h1m-22 0.5h1m1 0h1m-2.5 0.5h1m1 0h1m1.5 0h1m0 0h1m-2 0.5h1m-6.5 0.5h1m17 0h1m-1 0h1m-0.5 0h1m4.5 0h1m-7.5 0.5h1m1.5 0h1m-38 0.5h1m17 0h1m9.5 0h1m-11.5 0.5h1m0 0.5h1m1 0h1m-13 0.5h1m12.5 0h1m-5 0.5h1m9 0h1m-15.5 0.5h1m5.5 0h1m4.5 0h1m-16 0.5h1m0.5 0.5h1m1.5 0.5h1m4 0h1m3.5 0h1m-0.5 0h1m-6 0.5h1m3 0h1m-7 0.5h1m0.5 0h1m21.5 0h1m-28 0.5h1m1.5 0h1m1.5 0h1m3 0h1m0 0h1m-21.5 0.5h1m10.5 0h1m1.5 0h1m-0.5 0h1m2 0h1m-8 0.5h1m-0.5 0h1m1 0h1m0.5 0h1m-0.5 0h1m3 0h1m2.5 0h1m5 0h1m-34.5 0.5h1m-0.5 0h1m8.5 0h1m1 0h1m-1 0h1m11.5 0h1m-29 0.5h1m30.5 0h1m-29.5 0.5h1m11 0h1m-0.5 0h1m10 0h1m-10 0.5h1m-0.5 0h1m2 0h1m3 0h1m-10.5 0.5h1m5 0h1m4 0h1m-9.5 0.5h1m5.5 0h1m-21.5 0.5h1m5.5 0h1m28.5 0h1m-27.5 0.5h1m0 0h1m3.5 0.5h1m0 0h1m0 0h1m2 0h1m5 0h1m8.5 0h1m-25.5 0.5h1m1 0h1m2.5 0h1m7.5 0h1m-7.5 0.5h1m-16 0.5h1m6.5 0h1m2.5 0h1m2.5 0h1m4 0h1m-0.5 0h1m-18.5 0.5h1m5.5 0h1m-0.5 0h1m5.5 0h1m0.5 0h1m1.5 0h1m-18.5 0.5h1m6 0h1m2 0h1m0.5 0.5h1m0.5 0h1m16.5 0h1m-31 0.5h1m18.5 0.5h1m-18.5 0.5h1m25.5 0h1m-33.5 0.5h1m4 0h1m4.5 0h1m5 0h1m1.5 0h1m-14.5 0.5h1m-1 0h1m6 0h1m6 0h1m-16 0.5h1m2.5 0h1m3.5 0.5h1m2 0h1m-15.5 0.5h1m0 0h1m-0.5 0h1m4.5 0h1m-1 0h1m6.5 0h1m1 0h1m-20 0.5h1m16 0h1m-3 0.5h1m14.5 0h1m-28.5 0.5h1m4.5 0h1m12.5 0h1m-22 0.5h1m12 0h1m7.5 0h1m-1.5 0.5h1m-20.5 0.5h1m15.5 0.5h1m2 0h1m-10.5 0.5h1m1.5 0h1m2 0h1m1.5 0h1m-11 1h1m-0.5 0h1m1.5 0h1m1.5 0h1m0.5 0h1m1 0h1m-10.5 0.5h1m-0.5 0h1m-2 1h1m6 0h1m-0.5 0.5h1m4 0h1m-11 0.5h1m-11 0.5h1m8.5 0h1m8.5 0h1m-14.5 0.5h1m11.5 0h1m-23.5 0.5h1m7.5 0h1m3 0h1m-5 0.5h1m1.5 0.5h1m16.5 0h1m-15.5 0.5h1m7.5 0h1m5.5 0h1m-11 0.5h1m-9.5 0.5h1m8.5 0h1m-12 0.5h1m7.5 0h1m1.5 0h1m3 0h1m-18.5 0.5h1m6.5 0h1m-0.5 0h1m3 0h1m1 0h1m0 0h1m6.5 0h1m1.5 0h1m-16 0.5h1m0.5 0h1m-3.5 0.5h1m2.5 0h1m2 0h1m-12 0.5h1m3.5 0h1m2.5 0h1m0 0h1m1.5 0h1m6 0h1m-19.5 0.5h1m4 0h1m0 0h1m7 0h1m2.5 0h1m-14.5 0.5h1m1 0h1m-7.5 0.5h1m-1 0h1m6.5 0h1m1 0h1m0 0h1m-0.5 0h1m-18.5 0.5h1m4 0h1m0.5 0h1m2.5 0h1m2.5 0h1m1.5 0h1m-6.5 0.5h1m2 0h1m-0.5 0h1m0 0h1m11.5 0h1m-21.5 0.5h1m8.5 0h1m-5 0.5h1m-10 0.5h1m4.5 0h1m-1 0h1m-0.5 0h1m0 0h1m1 0h1m3.5 0h1m1.5 0h1m-16 0.5h1m0 0h1m1 0h1m6 0.5h1m2 0h1m0 0h1m3 0h1m1.5 0h1m-9 0.5h1m-16.5 0.5h1m-0.5 0h1m7.5 0h1m0 0h1m-7 0.5h1m5.5 0h1m-14.5 0.5h1m2 0h1m1.5 0h1m4.5 0h1m3 0h1m5.5 0h1m12 0h1m-38 0.5h1m14.5 0h1m-0.5 0h1m-9.5 0.5h1m11.5 0h1m-0.5 0h1m10.5 0h1m-34.5 0.5h1m23 0h1m0 0h1m-12 0.5h1m-0.5 0.5h1m4.5 0h1m4 0h1m0.5 0h1m-7 0.5h1m3.5 0.5h1" stroke="#262626" stroke-width="1" stroke-opacity="0.42" fill="none"/>
<path d="M56 482h1m-14 0.5h1m8 0.5h1m5 0h1m-10.5 0.5h1m4 0h1m1.5 0h1m7.5 0.5h1m-16 0.5h1m0 0h1m-1 0.5h1m2.5 0h1m9 0h1m3 0h1m9 0h1m-30 0.5h1m4 0h1m9 0h1m-0.5 0h1m1 0h1m4 0h1m-1 0h1m-20.5 0.5h1m1 0h1m7 0h1m6 0h1m-18.5 0.5h1m5 0h1m9.5 0h1m-1 0h1m3.5 0h1m0.5 0h1m-19.5 0.5h1m0 0h1m0 0h1m4 0h1m8 0h1m-20 0.5h1m1 0h1m0.5 0h1m-0.5 0h1m4 0h1m2.5 0h1m-1 0h1m0 0h1m14.5 0h1m-24.5 0.5h1m1.5 0h1m0 0h1m-0.5 0h1m7 0h1m3.5 0h1m-28 0.5h1m2 0h1m0.5 0h1m1.5 0h1m2 0h1m-1 0h1m-0.5 0h1m3 0h1m-1 0h1m2.5 0h1m4.5 0h1m0 0h1m0.5 0h1m8 0h1m-41 0.5h1m4.5 0h1m-0.5 0h1m3.5 0h1m0.5 0h1m-1 0h1m1 0h1m2.5 0h1m4 0h1m-1 0h1m11 0h1m-29 0.5h1m3 0h1m2 0h1m-0.5 0h1m0.5 0h1m-0.5 0h1m2 0h1m-0.5 0h1m-0.5 0h1m4.5 0h1m5 0h1m1.5 0h1m-47.5 0.5h1m25 0h1m0 0h1m-1 0h1m-0.5 0h1m0.5 0h1m-0.5 0h1m-1 0h1m0 0h1m0 0h1m0.5 0h1m0 0h1m5 0h1m3 0h1m0 0h1m-28.5 0.5h1m-0.5 0h1m1 0h1m1 0h1m0.5 0h1m0 0h1m-0.5 0h1m-1 0h1m-1 0h1m0.5 0h1m1.5 0h1m1.5 0h1m-1 0h1m-1 0h1m0 0h1m-1 0h1m-1 0h1m0.5 0h1m6.5 0h1m0 0h1m1 0h1m1.5 0h1m1.5 0h1m-37 0.5h1m3 0h1m2 0h1m0 0h1m0 0h1m-0.5 0h1m-0.5 0h1m1.5 0h1m0.5 0h1m-0.5 0h1m-0.5 0h1m0 0h1m-0.5 0h1m-1 0h1m1 0h1m-0.5 0h1m-0.5 0h1m-1 0h1m0.5 0h1m-1 0h1m1.5 0h1m-0.5 0h1m2.5 0h1m-0.5 0h1m1.5 0h1m2.5 0h1m-32 0.5h1m7 0h1m0 0h1m-0.5 0h1m0.5 0h1m2.5 0h1m2 0h1m1 0h1m8 0h1m-29.5 0.5h1m8 0h1m-0.5 0h1m1.5 0h1m0 0h1m1 0h1m0 0h1m0 0h1m1 0h1m-23.5 0.5h1m3.5 0h1m2.5 0h1m0.5 0h1m0 0h1m1.5 0h1m-0.5 0h1m1 0h1m0 0h1m1 0h1m0 0h1m3 0h1m-1 0h1m-0.5 0h1m-13 0.5h1m2 0h1m1 0h1m-0.5 0h1m-0.5 0h1m-1 0h1m-0.5 0h1m1.5 0h1m1.5 0h1m-1 0h1m-1 0h1m3.5 0h1m-25.5 0.5h1m0.5 0h1m3 0h1m-1 0h1m0.5 0h1m-1 0h1m0 0h1m0.5 0h1m0 0h1m-1 0h1m0 0h1m-0.5 0h1m-1 0h1m0 0h1m-0.5 0h1m0.5 0h1m9 0h1m4 0h1m-32.5 0.5h1m9 0h1m-1 0h1m-1 0h1m0 0h1m-0.5 0h1m0 0h1m0 0h1m-0.5 0h1m-0.5 0h1m-0.5 0h1m3.5 0h1m3.5 0h1m8 0h1m-31 0.5h1m1 0h1m4.5 0h1m-0.5 0h1m-1 0h1m0 0h1m0 0h1m0.5 0h1m-0.5 0h1m1.5 0h1m1.5 0h1m6.5 0h1m1.5 0h1m-0.5 0h1m-24 0.5h1m-1 0h1m-0.5 0h1m7 0h1m1 0h1m0.5 0h1m4.5 0h1m2.5 0h1m-0.5 0h1m-0.5 0h1m4.5 0h1m-37 0.5h1m6 0h1m4.5 0h1m-1 0h1m-1 0h1m0 0h1m1.5 0h1m0 0h1m4 0h1m-36.5 0.5h1m20.5 0h1m2 0h1m0.5 0h1m4 0h1m1 0h1m1 0h1m-0.5 0h1m0 0h1m-0.5 0h1m0 0h1m-1 0h1m2 0h1m12.5 0h1m-38.5 0.5h1m0.5 0h1m0.5 0h1m-1 0h1m1 0h1m0 0h1m2.5 0h1m0 0h1m2 0h1m1 0h1m-1 0h1m0.5 0h1m0.5 0h1m0.5 0h1m-29.5 0.5h1m8.5 0h1m6 0h1m1.5 0h1m0 0h1m-1 0h1m-0.5 0h1m-1 0h1m12 0h1m-26 0.5h1m1.5 0h1m3 0h1m5.5 0h1m0 0h1m0.5 0h1m0 0h1m-0.5 0h1m0.5 0h1m0 0h1m2.5 0h1m-18.5 0.5h1m2.5 0h1m3.5 0h1m3 0h1m8.5 0h1m-0.5 0h1m-24 0.5h1m2.5 0h1m1 0h1m5 0h1m0.5 0h1m4.5 0h1m0.5 0h1m-29.5 0.5h1m4.5 0h1m6.5 0h1m1 0h1m1.5 0.5h1m1.5 0h1m-11.5 0.5h1m-1 0h1m-0.5 0h1m0.5 0h1m-0.5 0h1m-27.5 0.5h1m23.5 0h1m1.5 0h1m3.5 0h1m11.5 0.5h1m-22 0.5h1m0.5 0h1m7 0h1m5 0h1m6 0h1m-21 0.5h1m2.5 0h1m3 0h1m-9 0.5h1m3 0h1m1.5 0h1m9 0h1m-23 0.5h1m6.5 0h1m3 0h1m-13 0.5h1m14.5 0h1m-11.5 0.5h1m0 0h1m-7.5 0.5h1m1.5 0h1m8 0h1m-0.5 0h1m1.5 0h1m15.5 0h1m-31.5 0.5h1m3 0h1m12 0h1m-12 0.5h1m0.5 0h1m2 0h1m-1 0h1m-14 0.5h1m3 0h1m0.5 0h1m1 0h1m2 0h1m-2 0.5h1m-1 0h1m0 0h1m1 0h1m6.5 0h1m-25 0.5h1m-1 0h1m15.5 0h1m-2.5 0.5h1m-11.5 0.5h1m1.5 0h1m1 0h1m7 0h1m6 0h1m-32.5 0.5h1m17.5 0h1m-24 0.5h1m24 0h1m-0.5 0h1m2 0h1m-11.5 0.5h1m1.5 0h1m0.5 0h1m10.5 0h1m-27.5 0.5h1m18 0h1m0 0h1m-6.5 0.5h1m5 0h1m-1 0h1m4 0h1m-12 0.5h1m-3.5 0.5h1m-1 0h1m9.5 0h1m3.5 0h1m-5.5 0.5h1m-11 0.5h1m4.5 0h1m0.5 0h1m-7 0.5h1m2.5 0h1m-0.5 0h1m3 0h1m3.5 0h1m-20.5 0.5h1m12 0h1m-8.5 0.5h1m0 0h1m5.5 0h1m1.5 0h1m1.5 0h1m-19.5 1h1m5 0h1m3 0h1m2 0h1m3.5 0h1m-21.5 0.5h1m1 0h1m7 0h1m0.5 0h1m5.5 0h1m-25 0.5h1m11.5 0h1m-1 0h1m4 0h1m0.5 0h1m-8 0.5h1m6.5 0.5h1m0 0h1m-7 0.5h1m0 0h1m0 0h1m0.5 0h1m-0.5 0h1m1.5 0h1m-12 0.5h1m2.5 0h1m1 0h1m4.5 0h1m2 0h1m-25.5 0.5h1m14.5 0h1m2.5 0h1m2 0h1m3 0h1m-10 0.5h1m1 0h1m-1 0h1m0 0h1m1 0h1m-10 0.5h1m-0.5 0h1m1.5 0h1m-1 0h1m0.5 0h1m0.5 0h1m1.5 0h1m3.5 0h1m-28.5 0.5h1m2.5 0h1m8.5 0.5h1m2 0h1m1 0h1m9.5 0h1m-14 0.5h1m5 0h1m0.5 0h1m-12.5 0.5h1m3.5 0h1m0.5 0h1m1 0h1m2 0.5h1m-1 0h1m3 0h1m-22.5 0.5h1m9 0h1m2.5 0h1m3 0h1m-10.5 0.5h1m5.5 0h1m-0.5 0h1m-0.5 0h1m0.5 0.5h1m1.5 0h1m0 0h1m-28.5 0.5h1m21.5 0h1m6.5 0h1m1 0h1m3 0h1m-13.5 0.5h1m0 0h1m1.5 0h1m2 0h1m-16 0.5h1m6 0h1m6.5 0h1m14.5 0h1m-31 0.5h1m11.5 0h1m0 0h1m0.5 0h1m-20 0.5h1m8.5 0h1m-1 0h1m4 0h1m5 0h1m3.5 0h1m-14.5 0.5h1m3 0h1m-3.5 0.5h1m-0.5 0.5h1m6.5 0h1m1 0h1m-11.5 1h1m-14 0.5h1m3 0h1m5.5 0.5h1m-0.5 0h1m-0.5 0h1m4 0h1m-1 0h1m-18.5 0.5h1m9 0h1m-1 0h1m-0.5 0h1m1 0h1m15 0h1m-22 0.5h1m12 0h1m0.5 0h1m-9 0.5h1m0 0.5h1m-21 0.5h1m9 0h1m12 0h1m-0.5 0h1m-9 0.5h1m3 0h1m1 0h1m7.5 0h1m-11.5 0.5h1m-0.5 0h1m0 0h1m1 0h1m-25 0.5h1m1 0h1m10 0h1m1 0h1m3 0.5h1m0 0h1m-0.5 0h1m1 0h1m9 0h1m-35 0.5h1m10.5 0h1m1.5 0h1m15 0h1m-15.5 0.5h1m0.5 0h1m3.5 0h1m-4 0.5h1m-1 0h1m-13.5 0.5h1m4.5 0h1m1 0h1m0 0h1m-1 0h1m5 0h1m-0.5 0h1m-0.5 0h1m-0.5 0h1m2 0h1m-0.5 0h1m-0.5 0h1m-0.5 0h1m3 0h1m-13.5 0.5h1m0.5 0h1m8 0h1m-21 0.5h1m7.5 0h1m-0.5 0h1m6.5 0h1m2 0h1m-20 0.5h1m0 0h1m5.5 0h1m4 0h1m0.5 0h1m2.5 0h1m-11 0.5h1m3.5 0h1m0.5 0h1m5.5 0h1m7.5 0h1m-24.5 0.5h1m2.5 0h1m2 0h1m7.5 0h1m-17 0.5h1m9 0h1m2 0h1m-29 0.5h1m11.5 0h1m3 0h1m6 0h1m2 0h1m-13.5 0.5h1m4.5 0h1m0.5 0h1m-10.5 0.5h1m3 0h1m-0.5 0h1m8 0h1m-11.5 0.5h1m5 0h1m-0.5 0h1m1 0h1m0 0h1m0 0h1m3 0h1m-18.5 0.5h1m7 0h1m5.5 0h1m-8 0.5h1m-0.5 0h1m-1.5 0.5h1m9.5 0h1m1.5 0h1m-21.5 0.5h1m0 0h1m1.5 0.5h1m11 1h1m-3.5 0.5h1m-21 0.5h1m19.5 0h1" stroke="#262626" stroke-width="1" stroke-opacity="0.42" fill="none"/>
<path d="M72 480.5h1m-21 0.5h1m25 0.5h1m-25 1.5h1m13 0h1m6 0h1m-15.5 0.5h1m-2 0.5h1m-4 0.5h1m-2 0.5h1m1 0h1m-0.5 0h1m0 0h1m-12 0.5h1m6.5 0h1m6 0h1m7 0h1m-17 0.5h1m-0.5 0h1m-1 0h1m6 0h1m10.5 0h1m1 0h1m-22.5 0.5h1m2 0h1m2.5 0h1m-0.5 0h1m8 0h1m8.5 0h1m-39 0.5h1m4.5 0h1m1.5 0h1m3.5 0h1m1.5 0h1m-0.5 0h1m3 0h1m-1 0h1m0.5 0h1m-21 0.5h1m9 0h1m3 0h1m-0.5 0h1m2.5 0h1m-0.5 0h1m-0.5 0h1m1.5 0h1m-0.5 0h1m1.5 0h1m-24.5 0.5h1m1 0h1m4 0h1m4.5 0h1m4 0h1m-0.5 0h1m-1 0h1m1 0h1m8.5 0h1m-0.5 0h1m7 0h1m-0.5 0h1m-33 0.5h1m0 0h1m4.5 0h1m-1 0h1m-0.5 0h1m0.5 0h1m0.5 0h1m2 0h1m0 0h1m-0.5 0h1m12.5 0h1m-33 0.5h1m-0.5 0h1m8 0h1m1 0h1m2 0h1m6.5 0h1m0.5 0h1m3.5 0h1m7 0h1m-32 0.5h1m2.5 0h1m1.5 0h1m-0.5 0h1m0 0h1m0 0h1m1 0h1m0.5 0h1m-0.5 0h1m2 0h1m0 0h1m2 0h1m-0.5 0h1m1 0h1m-0.5 0h1m-29 0.5h1m4 0h1m0.5 0h1m-1 0h1m1 0h1m3.5 0h1m0 0h1m-0.5 0h1m1 0h1m1.5 0h1m-13.5 0.5h1m-0.5 0h1m-0.5 0h1m1 0h1m-0.5 0h1m-0.5 0h1m0.5 0h1m0 0h1m-0.5 0h1m0.5 0h1m-0.5 0h1m1 0h1m0.5 0h1m1 0h1m11.5 0h1m-30 0.5h1m0.5 0h1m-1 0h1m-1 0h1m-0.5 0h1m-0.5 0h1m-0.5 0h1m-0.5 0h1m0.5 0h1m-0.5 0h1m2.5 0h1m-0.5 0h1m-0.5 0h1m0 0h1m-1 0h1m-1 0h1m0.5 0h1m1 0h1m-0.5 0h1m4.5 0h1m2 0h1m1 0h1m-24 0.5h1m0 0h1m-0.5 0h1m1.5 0h1m-1 0h1m0 0h1m0 0h1m0 0h1m1.5 0h1m-0.5 0h1m-0.5 0h1m-1 0h1m0.5 0h1m-0.5 0h1m7.5 0h1m0 0h1m-38 0.5h1m16.5 0h1m-1 0h1m-0.5 0h1m-1 0h1m1.5 0h1m1 0h1m-1 0h1m0.5 0h1m3 0h1m4.5 0h1m8.5 0h1m-32 0.5h1m3.5 0h1m0.5 0h1m2 0h1m-1 0h1m0 0h1m1 0h1m-1 0h1m3.5 0h1m-0.5 0h1m-1 0h1m5.5 0h1m-0.5 0h1m-28 0.5h1m8 0h1m1.5 0h1m-1 0h1m1 0h1m-1 0h1m5.5 0h1m1.5 0h1m6.5 0h1m-0.5 0h1m-0.5 0h1m1.5 0h1m-30.5 0.5h1m1 0h1m-0.5 0h1m2.5 0h1m1 0h1m2 0h1m1 0h1m2.5 0h1m-21.5 0.5h1m0 0h1m1.5 0h1m-0.5 0h1m-0.5 0h1m3 0h1m-0.5 0h1m2.5 0h1m0 0h1m-1 0h1m-0.5 0h1m0 0h1m0.5 0h1m1.5 0h1m3.5 0h1m0.5 0h1m2 0h1m10 0h1m-45 0.5h1m5 0h1m1.5 0h1m1 0h1m0.5 0h1m-1 0h1m0 0h1m0.5 0h1m0.5 0h1m-0.5 0h1m-1 0h1m-0.5 0h1m0 0h1m1.5 0h1m0 0h1m0.5 0h1m1 0h1m1.5 0h1m0 0h1m0 0h1m6.5 0h1m-28 0.5h1m0 0h1m0 0h1m-0.5 0h1m-0.5 0h1m-1 0h1m0.5 0h1m0 0h1m-1 0h1m0.5 0h1m0 0h1m-0.5 0h1m-0.5 0h1m-1 0h1m1 0h1m-1 0h1m1.5 0h1m3.5 0h1m6.5 0h1m-31.5 0.5h1m5 0h1m1.5 0h1m0 0h1m1 0h1m-0.5 0h1m-0.5 0h1m-0.5 0h1m-1 0h1m-0.5 0h1m3 0h1m4.5 0h1m0.5 0h1m0 0h1m-27 0.5h1m5.5 0h1m-0.5 0h1m2.5 0h1m1.5 0h1m2 0h1m2.5 0h1m-1 0h1m0.5 0h1m5.5 0h1m1.5 0h1m-38.5 0.5h1m10.5 0h1m1 0h1m0 0h1m-0.5 0h1m4.5 0h1m-0.5 0h1m6 0h1m1.5 0h1m2 0h1m0.5 0h1m-31.5 0.5h1m0 0h1m7.5 0h1m2.5 0h1m0 0h1m2 0h1m6 0h1m0 0h1m6.5 0h1m1.5 0h1m1 0h1m1 0h1m-39 0.5h1m4 0h1m-0.5 0h1m5 0h1m4 0h1m-0.5 0h1m3 0h1m-0.5 0h1m1.5 0h1m7 0h1m-21 0.5h1m1.5 0h1m-1 0h1m2 0h1m9 0h1m-27.5 0.5h1m7 0h1m2 0h1m0 0h1m10.5 0h1m7 0h1m0 0h1m-32.5 0.5h1m0 0h1m1 0h1m0.5 0h1m4.5 0h1m1.5 0h1m14.5 0h1m2 0h1m-30.5 0.5h1m12.5 0h1m9.5 0h1m-42.5 0.5h1m15.5 0h1m6.5 0h1m0.5 0h1m0 0h1m1 0h1m6 0h1m9.5 0h1m-26 0.5h1m3 0h1m3.5 0h1m-20 0.5h1m12 0h1m8 0h1m7.5 0h1m10 0h1m-37 0.5h1m5 0h1m-1 0h1m-0.5 0h1m2.5 0h1m12 0h1m-0.5 0h1m-19 1h1m1.5 0h1m1 0h1m6 0h1m5.5 0h1m-24 0.5h1m7.5 0h1m10 0h1m2.5 0h1m-33.5 0.5h1m9.5 0h1m4.5 0h1m-1 0h1m8.5 0.5h1m-22 0.5h1m5.5 0h1m1.5 0h1m3.5 0h1m0 0h1m-9.5 0.5h1m8.5 0h1m-0.5 0h1m10 0h1m-24 0.5h1m3 0h1m1 0h1m2.5 0h1m4 0h1m-15.5 0.5h1m15.5 0h1m-18 0.5h1m3.5 0h1m1 0h1m2 0h1m-0.5 0h1m13.5 0h1m-19.5 0.5h1m5 0h1m8.5 0h1m-20.5 0.5h1m0.5 0h1m2 0h1m1.5 0h1m-11.5 0.5h1m8.5 0h1m5 0h1m-16.5 0.5h1m13.5 0h1m0.5 0h1m-6.5 0.5h1m5 0h1m-19.5 0.5h1m7.5 0h1m1 0h1m-5 0.5h1m2 0h1m-9 0.5h1m4.5 0h1m-0.5 0h1m5.5 0h1m-13 0.5h1m11.5 0h1m-5.5 0.5h1m2.5 0h1m-7.5 0.5h1m5.5 0h1m0 0h1m0 0h1m-1 0h1m-6.5 0.5h1m2 0h1m0 0h1m-0.5 0h1m-9.5 0.5h1m-1 0h1m7.5 0h1m1 0h1m1 0h1m-22.5 0.5h1m7 0h1m-1 0h1m6.5 0h1m6.5 0h1m3 0h1m-9.5 0.5h1m-22 0.5h1m3 0h1m7.5 0h1m-14.5 0.5h1m10.5 0h1m9.5 0h1m-8 0.5h1m-4 0.5h1m0.5 0h1m3.5 0h1m3 0h1m-23.5 0.5h1m9.5 0h1m7.5 0h1m6.5 0h1m5.5 0h1m-30 0.5h1m5.5 0h1m7 0h1m1 0h1m-0.5 0h1m-9 0.5h1m4.5 0h1m1 0h1m0.5 0h1m-2 0.5h1m18.5 0h1m-21 0.5h1m3 0h1m-7 0.5h1m1 0h1m13 0h1m-28.5 1h1m11 0h1m-3.5 0.5h1m4 0h1m1 0h1m-12 0.5h1m8.5 0.5h1m3.5 0h1m-12 0.5h1m4 0h1m1.5 0h1m8.5 0h1m8 0h1m-32.5 0.5h1m13.5 0h1m-15.5 0.5h1m3 0h1m7.5 0h1m-13 0.5h1m6 0h1m-11 0.5h1m6 0h1m0.5 0h1m3 0.5h1m-1 0h1m-5.5 0.5h1m1 0h1m-1 0h1m3.5 0h1m3 0h1m-16.5 0.5h1m5.5 0h1m-10 0.5h1m2 0h1m8 0h1m-11.5 0.5h1m3 0h1m4 0.5h1m0.5 0h1m1 0h1m1 0h1m-11.5 0.5h1m3.5 0h1m8.5 0h1m-19 0.5h1m4 0h1m1 0h1m3 0h1m13 0h1m-21.5 0.5h1m-0.5 0h1m1 0h1m15 0h1m2.5 0h1m-15.5 0.5h1m2 0h1m-17.5 0.5h1m0 0h1m4 0h1m5 0h1m-1 0h1m7.5 0h1m0 0h1m-19 0.5h1m0 0h1m1.5 0h1m2 0h1m2.5 0h1m0.5 0h1m5.5 0h1m-27.5 0.5h1m-0.5 0h1m13 0h1m7.5 0.5h1m-13.5 0.5h1m1.5 0h1m0.5 0h1m1 0h1m4 0h1m-19 0.5h1m0 0h1m8.5 0h1m3 0h1m-4.5 0.5h1m9.5 0h1m-22 0.5h1m9.5 0h1m-9.5 0.5h1m0.5 0h1m-1 0h1m1.5 0h1m3.5 0h1m-7 0.5h1m0.5 0h1m4 0h1m0.5 0h1m-9 0.5h1m5.5 0h1m6.5 0h1m3.5 0h1m-26 0.5h1m1.5 0h1m-1 0h1m0.5 0h1m1.5 0h1m0.5 0h1m-0.5 0h1m4 0h1m-0.5 0h1m7.5 0h1m1.5 0h1m-22.5 0.5h1m1.5 0h1m4 0h1m2 0h1m6 0h1m-29 0.5h1m20 0h1m-3 0.5h1m1.5 0h1m-22.5 0.5h1m15.5 0h1m4.5 0h1m1 0h1m-1 0h1m7 0h1m-19 0.5h1m9 0h1m-12.5 0.5h1m15 0h1m-9.5 0.5h1m6 0h1m1 0h1m-16.5 0.5h1m5 0h1m0 0h1m-19 0.5h1m4.5 0h1m0.5 0h1m0.5 0h1m3 0h1m6 0h1m-0.5 0h1m1 0h1m-16.5 0.5h1m10 0h1m-14 0.5h1m-0.5 0h1m-0.5 0.5h1m12 0h1m-12 0.5h1m1 0h1m2.5 0h1m0.5 0h1m4.5 0h1m5 0h1m-9 0.5h1m1.5 0h1m-14.5 0.5h1m-0.5 0h1m5 0h1m0 0h1m6 0h1m0.5 0h1m-8.5 0.5h1m2 0.5h1m5 0h1m-21.5 0.5h1m3.5 0h1m9.5 0.5h1m0 0h1m-9.5 1.5h1" stroke="#262626" stroke-width="1" stroke-opacity="0.42" fill="none"/>
<path d="M74.5 481h1m-10.5 1h1m1 0.5h1m10.5 0h1m-11.5 1h1m-19 0.5h1m4.5 0h1m-1 0h1m2 0h1m-22 0.5h1m13 0h1m1 0h1m4 0h1m4.5 0h1m12.5 0h1m-32.5 0.5h1m1.5 0h1m8 0h1m19.5 0h1m0 0h1m-23.5 0.5h1m0 0h1m-0.5 0h1m3.5 0h1m10.5 0h1m0.5 0h1m-19 0.5h1m0.5 0h1m17 0h1m-25 0.5h1m0 0h1m0.5 0h1m-1 0h1m2 0h1m-0.5 0h1m2 0h1m0.5 0h1m6 0h1m-18 0.5h1m1.5 0h1m0 0h1m3 0h1m5 0h1m-20.5 0.5h1m0.5 0h1m5.5 0h1m3 0h1m0.5 0h1m3.5 0h1m6.5 0h1m0.5 0h1m-28 0.5h1m6.5 0h1m-1 0h1m0 0h1m0 0h1m-1 0h1m0 0h1m-0.5 0h1m-0.5 0h1m-1 0h1m-1 0h1m5.5 0h1m1 0h1m7 0h1m0.5 0h1m-36 0.5h1m6 0h1m1.5 0h1m-1 0h1m0.5 0h1m1 0h1m1.5 0h1m0.5 0h1m-1 0h1m1 0h1m0.5 0h1m5.5 0h1m5.5 0h1m-30 0.5h1m4 0h1m1 0h1m-0.5 0h1m1 0h1m-0.5 0h1m-1 0h1m3.5 0h1m0.5 0h1m1 0h1m6 0h1m0.5 0h1m2.5 0h1m-27.5 0.5h1m-0.5 0h1m5.5 0h1m2.5 0h1m-0.5 0h1m-1 0h1m-1 0h1m3 0h1m7.5 0h1m-1 0h1m3.5 0h1m0 0h1m-28 0.5h1m-1 0h1m0.5 0h1m-1 0h1m0.5 0h1m0.5 0h1m1 0h1m0 0h1m-0.5 0h1m2.5 0h1m1 0h1m0.5 0h1m6 0h1m-27.5 0.5h1m1 0h1m0.5 0h1m3 0h1m2 0h1m-0.5 0h1m-1 0h1m-0.5 0h1m-0.5 0h1m-0.5 0h1m0 0h1m0 0h1m0.5 0h1m-1 0h1m2 0h1m-1 0h1m6.5 0h1m3.5 0h1m-35.5 0.5h1m7 0h1m0.5 0h1m1 0h1m-1 0h1m2 0h1m-1 0h1m-0.5 0h1m3 0h1m0 0h1m2 0h1m8 0h1m-23.5 0.5h1m2 0h1m-1 0h1m0.5 0h1m0.5 0h1m1 0h1m-0.5 0h1m4.5 0h1m-1 0h1m4.5 0h1m6.5 0h1m-34 0.5h1m-1 0h1m1 0h1m1 0h1m0 0h1m1 0h1m-0.5 0h1m-1 0h1m-0.5 0h1m7 0h1m1 0h1m13.5 0h1m-31.5 0.5h1m4 0h1m1 0h1m0.5 0h1m-0.5 0h1m-1 0h1m0 0h1m3.5 0h1m2.5 0h1m-0.5 0h1m2 0h1m2 0h1m-23 0.5h1m0.5 0h1m6 0h1m1 0h1m-1 0h1m1.5 0h1m0.5 0h1m0.5 0h1m6 0h1m3.5 0h1m-32 0.5h1m3.5 0h1m-1 0h1m0 0h1m1 0h1m0.5 0h1m-1 0h1m1 0h1m1 0h1m0 0h1m-1 0h1m0 0h1m0.5 0h1m5.5 0h1m5 0h1m-29 0.5h1m4.5 0h1m-0.5 0h1m-0.5 0h1m-1 0h1m-1 0h1m-0.5 0h1m-0.5 0h1m-0.5 0h1m-0.5 0h1m1.5 0h1m1 0h1m1.5 0h1m0 0h1m2 0h1m0 0h1m-0.5 0h1m0.5 0h1m3 0h1m1.5 0h1m-1 0h1m-44.5 0.5h1m10.5 0h1m0 0h1m7.5 0h1m0 0h1m0.5 0h1m-0.5 0h1m-1 0h1m0 0h1m-1 0h1m1 0h1m-0.5 0h1m3 0h1m9.5 0h1m-31 0.5h1m4 0h1m-1 0h1m0.5 0h1m0.5 0h1m1.5 0h1m0 0h1m0 0h1m0 0h1m-1 0h1m1.5 0h1m0 0h1m2 0h1m5 0h1m-23.5 0.5h1m5 0h1m0 0h1m1 0h1m4 0h1m1.5 0h1m0 0h1m-0.5 0h1m9.5 0h1m-31 0.5h1m0.5 0h1m1 0h1m2.5 0h1m0 0h1m0.5 0h1m0 0h1m1.5 0h1m0 0h1m0 0h1m-0.5 0h1m-0.5 0h1m-0.5 0h1m-1 0h1m-0.5 0h1m-12 0.5h1m2 0h1m3 0h1m4.5 0h1m-0.5 0h1m10.5 0h1m-35 0.5h1m2 0h1m3.5 0h1m0.5 0h1m3.5 0h1m2 0h1m2 0h1m3.5 0h1m1 0h1m2.5 0h1m-33.5 0.5h1m7.5 0h1m1 0h1m0.5 0h1m0 0h1m-0.5 0h1m-0.5 0h1m2.5 0h1m0 0h1m0 0h1m2.5 0h1m0.5 0h1m-15 0.5h1m-0.5 0h1m3.5 0h1m1 0h1m1 0h1m2 0h1m0.5 0h1m1.5 0h1m6 0h1m-40 0.5h1m12.5 0h1m3 0h1m3 0h1m-30 0.5h1m19 0h1m0 0h1m9.5 0h1m2.5 0h1m-19.5 0.5h1m4 0h1m-0.5 0h1m7.5 0h1m-0.5 0h1m0.5 0h1m-0.5 0h1m-16.5 0.5h1m9 0h1m0 0h1m0 0h1m3 0h1m2.5 0h1m-17.5 0.5h1m4.5 0h1m-1 0h1m-0.5 0h1m0 0h1m15 0h1m1.5 0h1m-14.5 0.5h1m-9 0.5h1m-1 0h1m6 0h1m13.5 0h1m-29 1h1m5 0h1m1.5 0h1m18 0h1m-20 0.5h1m5 0h1m-21 0.5h1m7.5 0h1m6.5 0h1m-10.5 0.5h1m3 0h1m1.5 0h1m-0.5 0h1m0.5 0h1m-6 0.5h1m6 0h1m-10.5 0.5h1m-1 0h1m1.5 0h1m-0.5 0h1m2.5 0h1m-10 0.5h1m4 0h1m2 0h1m1 0h1m-0.5 0h1m12 0h1m-14.5 0.5h1m2 0h1m1 0h1m-16.5 0.5h1m8 0h1m-8.5 0.5h1m0 0h1m2 0h1m2 0h1m-0.5 0h1m-13.5 0.5h1m6.5 0h1m-0.5 0h1m4.5 0h1m-25 0.5h1m8 0h1m3.5 0h1m-1 0.5h1m3 0h1m5 0h1m3 0h1m-16.5 0.5h1m4.5 0h1m1 0h1m-6 0.5h1m2 0h1m13.5 0h1m-19.5 0.5h1m1 0h1m1.5 0h1m4.5 0h1m-15.5 0.5h1m2.5 0h1m3 0h1m5 0h1m-14 0.5h1m7 0h1m4.5 0h1m-10.5 0.5h1m11 0h1m0.5 0h1m2.5 0h1m-12 0.5h1m-13 1h1m11.5 0h1m0.5 0h1m5.5 0h1m-13 0.5h1m11 0h1m-11.5 0.5h1m4.5 0h1m-5.5 0.5h1m0 0h1m-0.5 0h1m-0.5 0h1m19 0h1m-19 0.5h1m1.5 0h1m-8 1h1m-1.5 1h1m3.5 0h1m0.5 0h1m0 0h1m-21.5 0.5h1m9 0h1m-0.5 0h1m2.5 0h1m1 0h1m0.5 0h1m1 0h1m-3 0.5h1m3.5 0h1m-6.5 0.5h1m0 0h1m1 0.5h1m2 0h1m1.5 0h1m-24 0.5h1m7 0.5h1m7 0h1m7.5 0h1m-11 0.5h1m0 0h1m0 0h1m4 0.5h1m-12.5 0.5h1m-1 0h1m-5 0.5h1m4 0h1m5 0h1m-11 0.5h1m4.5 0h1m28 0h1m-38 0.5h1m0 0h1m1 0h1m3.5 0h1m2.5 0h1m0.5 0h1m2 0h1m3 0h1m8.5 0h1m-21 0.5h1m-1 0h1m-0.5 0h1m0.5 0h1m2 0h1m1 0h1m2 0h1m-14 0.5h1m2 0h1m1.5 0h1m-7.5 0.5h1m0 0h1m4 0h1m5 0h1m-8 0.5h1m4 0.5h1m-29 0.5h1m18 0h1m-1 0h1m-6.5 0.5h1m0 0h1m-0.5 0h1m6.5 0.5h1m1.5 0h1m-9 0.5h1m4 0h1m3 0h1m0 0h1m-2.5 0.5h1m7.5 0h1m-31 0.5h1m7.5 0h1m4.5 0h1m-4.5 0.5h1m3.5 0h1m1.5 0h1m3.5 0h1m9.5 0h1m-33 0.5h1m12.5 0h1m0 0h1m0.5 0h1m1 0h1m1 0h1m3.5 0h1m-24.5 0.5h1m8.5 0h1m7 0h1m-0.5 0h1m0 0h1m9.5 0h1m-17 0.5h1m6 0h1m-0.5 0h1m11 0h1m-31.5 0.5h1m9.5 0h1m3.5 0h1m1.5 0h1m1 0.5h1m6 0h1m-29.5 0.5h1m10.5 0h1m-0.5 0h1m0.5 0h1m6 0h1m-15.5 0.5h1m5.5 0h1m2.5 0h1m0 0h1m5 0h1m0.5 0h1m-28.5 0.5h1m3.5 0.5h1m3 0h1m2 0h1m7.5 0h1m-13 0.5h1m0 0h1m6.5 0h1m7 0h1m1.5 0h1m0 0h1m-23.5 0.5h1m14 0h1m0 0h1m-4.5 0.5h1m0 0h1m0 0h1m0 0h1m3 0h1m1 0h1m4.5 0h1m-24.5 0.5h1m2 0h1m3 0h1m2 0h1m1 0h1m0.5 0h1m4 0h1m3.5 0h1m-25 0.5h1m2 0h1m8 0h1m3 0h1m6 0h1m-29 0.5h1m6.5 0h1m18 0h1m-20.5 0.5h1m4 0h1m3.5 0h1m-7 0.5h1m3.5 0h1m3 0h1m0 0h1m6 0h1m-18.5 0.5h1m1.5 0h1m8.5 0h1m-15 0.5h1m-0.5 0h1m8 0h1m10.5 0h1m-20.5 0.5h1m6 0h1m0.5 0h1m0.5 0h1m-0.5 0h1m-1 0h1m1.5 0h1m5 0h1m-25.5 0.5h1m6 0h1m4.5 0h1m2.5 0h1m-1 0.5h1m0 0.5h1m-17.5 0.5h1m7 0h1m0.5 0h1m1.5 0h1m0.5 0h1m-0.5 0h1m-1 0h1m0.5 0h1m-1 0h1m0 0h1m-14 0.5h1m4.5 0h1m4 0h1m4 0h1m2.5 0h1m-7 0.5h1m-16 0.5h1m0.5 0h1m1 0h1m0.5 0h1m7 0h1m18 0h1m-26 0.5h1m-0.5 0h1m5.5 0h1m-0.5 0h1m0.5 0h1m0.5 0h1m-13 0.5h1m-0.5 0h1m0 0h1m5.5 0h1m-9.5 0.5h1m5 0h1m-12 0.5h1m17 0.5h1" stroke="#262626" stroke-width="1" stroke-opacity="0.42" fill="none"/>
<rect x="27.4" y="478.4" width="68.9" height="68.5" fill="none" stroke="#1a1a1a" stroke-width="2"/>
<path d="M69.25 478.4V518H89.2V478.4" fill="none" stroke="#1a1a1a" stroke-width="2"/>
<text x="74.1" y="534.12" font-size="13.07" fill="#1a1a1a" stroke="#1a1a1a" stroke-width="0.19" textLength="10.52" lengthAdjust="spacingAndGlyphs">9</text>
<text x="27.7" y="553.1" font-size="4.8" text-anchor="middle" fill="#505050">10<tspan dy="-1.6" font-size="3.2">0</tspan></text>
<line x1="27.4" y1="546.9" x2="27.4" y2="548.7" stroke="#333" stroke-width="1"/>
<text transform="translate(24.8,546.9) rotate(-90)" font-size="4.8" text-anchor="middle" fill="#505050">10<tspan dy="-1.6" font-size="3.2">0</tspan></text>
<line x1="25.6" y1="546.9" x2="27.4" y2="546.9" stroke="#333" stroke-width="1"/>
<text x="44.9" y="553.1" font-size="4.8" text-anchor="middle" fill="#505050">10<tspan dy="-1.6" font-size="3.2">1</tspan></text>
<line x1="44.6" y1="546.9" x2="44.6" y2="548.7" stroke="#333" stroke-width="1"/>
<text transform="translate(24.8,529.8) rotate(-90)" font-size="4.8" text-anchor="middle" fill="#505050">10<tspan dy="-1.6" font-size="3.2">1</tspan></text>
<line x1="25.6" y1="529.8" x2="27.4" y2="529.8" stroke="#333" stroke-width="1"/>
<text x="62.1" y="553.1" font-size="4.8" text-anchor="middle" fill="#505050">10<tspan dy="-1.6" font-size="3.2">2</tspan></text>
<line x1="61.9" y1="546.9" x2="61.9" y2="548.7" stroke="#333" stroke-width="1"/>
<text transform="translate(24.8,512.6) rotate(-90)" font-size="4.8" text-anchor="middle" fill="#505050">10<tspan dy="-1.6" font-size="3.2">2</tspan></text>
<line x1="25.6" y1="512.6" x2="27.4" y2="512.6" stroke="#333" stroke-width="1"/>
<text x="79.4" y="553.1" font-size="4.8" text-anchor="middle" fill="#505050">10<tspan dy="-1.6" font-size="3.2">3</tspan></text>
<line x1="79.1" y1="546.9" x2="79.1" y2="548.7" stroke="#333" stroke-width="1"/>
<text transform="translate(24.8,495.5) rotate(-90)" font-size="4.8" text-anchor="middle" fill="#505050">10<tspan dy="-1.6" font-size="3.2">3</tspan></text>
<line x1="25.6" y1="495.5" x2="27.4" y2="495.5" stroke="#333" stroke-width="1"/>
<text x="96.6" y="553.1" font-size="4.8" text-anchor="middle" fill="#505050">10<tspan dy="-1.6" font-size="3.2">4</tspan></text>
<line x1="96.3" y1="546.9" x2="96.3" y2="548.7" stroke="#333" stroke-width="1"/>
<text transform="translate(24.8,478.4) rotate(-90)" font-size="4.8" text-anchor="middle" fill="#505050">10<tspan dy="-1.6" font-size="3.2">4</tspan></text>
<line x1="25.6" y1="478.4" x2="27.4" y2="478.4" stroke="#333" stroke-width="1"/>
<path d="M163 481.5h1m-31.5 1h1m8.5 0h1m0 0h1m15 1h1m-30.5 0.5h1m-0.5 0h1m11.5 0h1m15.5 0h1m2 0h1m-31.5 0.5h1m5.5 0h1m-3 0.5h1m-11.5 0.5h1m-0.5 0.5h1m36 0h1m-1 0h1m-12.5 0.5h1m8 0h1m2.5 0h1m-0.5 0h1m1.5 0h1m-3 0.5h1m-31.5 0.5h1m17 0h1m4 0h1m8 0h1m-31.5 0.5h1m23.5 0h1m-1 0h1m0.5 0h1m-41.5 1h1m13.5 0h1m10.5 0h1m11 0h1m0.5 0h1m-0.5 0h1m0 0h1m-0.5 0h1m-0.5 0h1m-0.5 0h1m0.5 0h1m-33 0.5h1m9 0h1m14 0h1m-1 0h1m2 0h1m1 0h1m-29 0.5h1m1.5 0h1m0.5 0h1m24 0h1m-36.5 0.5h1m6 0h1m3.5 0h1m1.5 0h1m0.5 0h1m15 0h1m2 0h1m-0.5 0h1m0 0h1m-31.5 0.5h1m22.5 0.5h1m1 0h1m0.5 0h1m0.5 0h1m0 0h1m0 0h1m-24 0.5h1m1.5 0h1m1 0h1m6.5 0h1m3 0h1m3 0h1m-1 0h1m-0.5 0h1m-1 0h1m-0.5 0h1m-30.5 0.5h1m3.5 0h1m20.5 0h1m-0.5 0h1m-28.5 0.5h1m10.5 0h1m0.5 0h1m-0.5 0h1m12.5 0h1m2.5 0h1m-0.5 0h1m-34 0.5h1m0.5 0h1m3 0h1m0.5 0h1m2.5 0h1m23.5 0h1m-37.5 0.5h1m17.5 0h1m0.5 0h1m13.5 0h1m-35.5 0.5h1m7 0h1m1 0h1m5.5 0h1m10.5 0h1m0 0h1m0 0h1m0.5 0h1m0 0h1m1 0h1m0 0h1m-1 0h1m-32 0.5h1m0 0h1m21 0h1m-0.5 0h1m0.5 0h1m3 0h1m-0.5 0h1m-0.5 0h1m-40 0.5h1m13.5 0h1m8.5 0h1m0 0h1m5.5 0h1m0.5 0h1m0.5 0h1m-0.5 0h1m-0.5 0h1m0.5 0h1m0.5 0h1m0.5 0h1m-25 0.5h1m6.5 0h1m7.5 0h1m1 0h1m0 0h1m-0.5 0h1m0.5 0h1m-0.5 0h1m-1 0h1m-0.5 0h1m-1 0h1m-0.5 0h1m-0.5 0h1m-29 0.5h1m3 0h1m2 0h1m-0.5 0h1m1.5 0h1m10.5 0h1m0.5 0h1m0 0h1m0.5 0h1m0 0h1m-35 0.5h1m1.5 0h1m-0.5 0h1m0 0h1m1.5 0h1m1.5 0h1m3 0h1m-0.5 0h1m3.5 0h1m4.5 0h1m5.5 0h1m0.5 0h1m4.5 0h1m-30.5 0.5h1m3.5 0h1m4.5 0h1m-1 0h1m14 0h1m0.5 0h1m-0.5 0h1m-30 0.5h1m1.5 0h1m21.5 0h1m0.5 0h1m1 0h1m-34.5 0.5h1m4 0h1m6 0h1m0 0h1m0 0h1m5.5 0h1m4.5 0h1m6.5 0h1m0 0h1m-24.5 0.5h1m2.5 0h1m0.5 0h1m10.5 0h1m3.5 0h1m-31.5 0.5h1m10 0h1m17.5 0h1m3 0h1m-9 0.5h1m1 0h1m1.5 0h1m-31 0.5h1m5.5 0h1m6.5 0h1m3 0h1m4.5 0h1m4.5 0h1m3.5 0h1m-12.5 0.5h1m3.5 0h1m-0.5 0h1m0 0h1m0.5 0h1m0.5 0h1m-27 0.5h1m0 0h1m1 0h1m3 0h1m1 0h1m1.5 0h1m0.5 0h1m9.5 0h1m-0.5 0h1m2.5 0h1m-23 0.5h1m10 0h1m4 0h1m-0.5 0h1m3 0h1m-19 0.5h1m1 0h1m12 0h1m0 0h1m1.5 0h1m1 0h1m-29.5 0.5h1m21.5 0h1m-42 0.5h1m15 0h1m9 0h1m12 0h1m2.5 0h1m4 0.5h1m-28 0.5h1m25.5 0h1m-45 0.5h1m12 0h1m9.5 0h1m-16 0.5h1m13 0.5h1m4 0h1m10.5 0h1m-27.5 0.5h1m-4 0.5h1m18 0h1m1.5 0h1m-27 0.5h1m3 0h1m-0.5 0h1m26.5 0h1m-21 0.5h1m9.5 0h1m-22.5 0.5h1m5 0h1m1.5 0h1m2 0h1m4 0h1m3.5 0h1m7.5 0h1m-23 1h1m1.5 0h1m3 0h1m0 0h1m1.5 0h1m-14.5 0.5h1m6 0h1m5 0.5h1m-0.5 0h1m12.5 0h1m-31 0.5h1m7 0.5h1m-10.5 0.5h1m2.5 0h1m3.5 0h1m-19 1h1m12.5 0h1m12.5 0h1m-8.5 0.5h1m-1.5 0.5h1m2 0.5h1m-5.5 0.5h1m1.5 0h1m13 0h1m-24.5 0.5h1m21 0h1m-26 0.5h1m27.5 0h1m-6.5 0.5h1m9.5 0h1m-30 0.5h1m2.5 0.5h1m-5 0.5h1m2 0h1m9 0h1m-1 0h1m2.5 0.5h1m-1 0.5h1m0 0h1m5 0h1m-23.5 1h1m5.5 0h1m2.5 0h1m2.5 0h1m2.5 0h1m-11.5 0.5h1m4 0h1m2.5 0h1m-13 0.5h1m-8.5 0.5h1m8.5 0h1m1.5 0h1m7.5 0h1m-1.5 0.5h1m3 0.5h1m-23 0.5h1m7.5 0h1m15.5 0h1m-20 1h1m4 0h1m-0.5 0h1m3.5 0h1m7.5 0h1m-15 0.5h1m10.5 0.5h1m-5 0.5h1m-15.5 0.5h1m7 0h1m-4 0.5h1m-10 0.5h1m0.5 0h1m6.5 0h1m1 0h1m6 0h1m-7 0.5h1m3 0h1m2 0h1m10 0h1m-19 0.5h1m-15.5 0.5h1m6.5 0h1m0 0h1m9.5 0h1m-15 0.5h1m2 0.5h1m0 0h1m1.5 0h1m1.5 0h1m-9 0.5h1m2 0h1m2 0h1m10 0h1m-21 0.5h1m-1 0h1m3 0h1m-12 0.5h1m0.5 0h1m15 0h1m-17.5 0.5h1m9.5 0h1m13 0h1m-12 0.5h1m8.5 0h1m7 0h1m1 0h1m-29 0.5h1m7.5 0h1m4 0h1m5 0h1m-0.5 0h1m-25.5 0.5h1m5 0h1m2.5 0h1m-0.5 0h1m1.5 0h1m0 0h1m-0.5 0h1m1.5 0h1m6.5 0h1m-6 0.5h1m-11.5 0.5h1m0.5 0h1m3.5 0h1m9.5 0h1m-27 0.5h1m-0.5 0h1m17 0h1m3.5 0h1m0.5 0h1m-26.5 0.5h1m11.5 0h1m1 0h1m6 0h1m-23.5 0.5h1m9.5 0h1m12 0h1m4 0h1m2 0h1m0 0h1m-22.5 0.5h1m3.5 0h1m3.5 0.5h1m-0.5 0h1m-21.5 0.5h1m3.5 0h1m12.5 0h1m3 0h1m-1 0h1m1.5 0h1m5 0h1m-16 0.5h1m1.5 0h1m3.5 0h1m-27 0.5h1m8.5 0h1m-0.5 0h1m6 0.5h1m10.5 0h1m-26 0.5h1m7.5 0h1m1 0h1m-1 0h1m5 0h1m-0.5 0h1m6.5 0h1m-25 0.5h1m7.5 0h1m-1 0h1m0.5 0h1m12.5 0h1m4 0h1m-14 0.5h1m1.5 0.5h1m1 0h1m1 0h1m-23.5 0.5h1m12.5 0h1m10 0h1m2.5 0h1m-21.5 0.5h1m6 0h1m1.5 0h1m-5 0.5h1m6.5 0h1m3.5 0h1m1 0h1m-22.5 0.5h1m13.5 0h1m0 0h1m-11 0.5h1m1 0.5h1m3.5 0h1m0.5 0h1m8 0h1m-23.5 0.5h1m15.5 0h1m0 0h1m6 0h1m-21 0.5h1m9.5 0h1m-9 0.5h1m2 0h1m-9.5 0.5h1m5.5 0h1m1 0h1m2.5 0h1m5 0h1m1 0h1m3 0h1m-23.5 0.5h1m3 0h1m1 0h1" stroke="#262626" stroke-width="1" stroke-opacity="0.42" fill="none"/>
<path d="M142 480.5h1m16 0.5h1m5 1h1m-33 1.5h1m8.5 0h1m20 0h1m-21 0.5h1m-14 0.5h1m29 0h1m-0.5 0h1m4 0h1m-29.5 0.5h1m23 0h1m3 0h1m-35.5 0.5h1m11 0h1m7.5 0h1m-0.5 0h1m7 0h1m-22 0.5h1m23 0h1m-33 0.5h1m32 0h1m-1 0h1m-34.5 0.5h1m0.5 0h1m3 0h1m2.5 0h1m1.5 0h1m22.5 0h1m-34 0.5h1m6 0h1m3.5 0h1m0 0h1m15.5 0h1m4 0h1m-41.5 0.5h1m2.5 0h1m6 0h1m21 0h1m0.5 0h1m1.5 0h1m-24.5 0.5h1m15.5 0h1m5 0h1m4.5 0h1m-33.5 0.5h1m14 0h1m7.5 0h1m2 0h1m1 0h1m-1 0h1m-1 0h1m-0.5 0h1m2.5 0h1m-40 0.5h1m3.5 0h1m1 0h1m2.5 0h1m3 0h1m5 0h1m10 0h1m1 0h1m2 0h1m0 0h1m1.5 0h1m-31.5 0.5h1m9 0h1m6 0h1m8 0h1m0 0h1m2.5 0h1m-35.5 0.5h1m26 0h1m0.5 0h1m2 0h1m-36 0.5h1m34.5 0h1m-24.5 0.5h1m14 0h1m2.5 0h1m-0.5 0h1m-0.5 0h1m-0.5 0h1m6 0h1m-34 0.5h1m2 0h1m0 0h1m19 0h1m0 0h1m1 0h1m-0.5 0h1m-0.5 0h1m-0.5 0h1m-15 0.5h1m6 0h1m-1 0h1m2.5 0h1m1.5 0h1m1 0h1m0.5 0h1m-29.5 0.5h1m4.5 0h1m0 0h1m20 0h1m-33 0.5h1m-0.5 0h1m21 0h1m3 0h1m2.5 0h1m-1 0h1m2 0h1m-21.5 0.5h1m10.5 0h1m2 0h1m-1 0h1m1 0h1m-47 0.5h1m19 0h1m5.5 0h1m11.5 0h1m2 0h1m-1 0h1m1 0h1m-32.5 0.5h1m2 0h1m0.5 0h1m18 0h1m3.5 0h1m1.5 0h1m1 0h1m1.5 0h1m-22 0.5h1m0 0h1m7 0h1m7 0h1m-0.5 0h1m0.5 0h1m-15.5 0.5h1m9 0h1m1 0h1m0 0h1m0 0h1m2 0h1m-0.5 0h1m0 0h1m-34 0.5h1m4.5 0h1m5.5 0h1m1 0h1m11.5 0h1m1 0h1m0 0h1m-0.5 0h1m0 0h1m0.5 0h1m-40 0.5h1m4.5 0h1m2 0h1m5 0h1m16.5 0h1m-0.5 0h1m-0.5 0h1m-0.5 0h1m-1 0h1m0.5 0h1m-0.5 0h1m-0.5 0h1m-1 0h1m1 0h1m-36.5 0.5h1m10 0h1m0.5 0h1m5 0h1m0 0h1m8.5 0h1m-0.5 0h1m-0.5 0h1m-1 0h1m-0.5 0h1m-0.5 0h1m2.5 0h1m-29 0.5h1m0 0h1m13.5 0h1m3.5 0h1m1.5 0h1m-0.5 0h1m0.5 0h1m-23 0.5h1m0.5 0h1m8.5 0h1m0 0h1m0 0h1m-1 0h1m6 0h1m1.5 0h1m-0.5 0h1m0.5 0h1m2 0h1m-24 0.5h1m12.5 0h1m4 0h1m0.5 0h1m-31 0.5h1m12.5 0h1m8 0h1m4.5 0h1m3 0h1m-35 0.5h1m12 0h1m-0.5 0h1m-0.5 0h1m12.5 0h1m2 0h1m1 0h1m-1 0h1m-32 0.5h1m21.5 0h1m-0.5 0h1m3.5 0h1m-24 0.5h1m1.5 0h1m15 0h1m2 0h1m4 0h1m-37.5 0.5h1m9 0h1m-0.5 0h1m7.5 0h1m14 0h1m-20.5 0.5h1m17 0h1m-0.5 0h1m-22 0.5h1m14.5 0h1m2 0h1m-16.5 0.5h1m4 0h1m7.5 0h1m-30 0.5h1m8 0h1m5.5 0h1m-0.5 0h1m10 0h1m-0.5 0h1m1 0h1m6 0h1m-28.5 0.5h1m5 0h1m2 0h1m-0.5 0h1m9.5 0h1m-30.5 0.5h1m14 0h1m6.5 0h1m1.5 0h1m0 0h1m6 0h1m0 0h1m-0.5 0h1m-18.5 0.5h1m4 0h1m0 0h1m10.5 0h1m-33 0.5h1m16 0h1m10 0h1m-22.5 0.5h1m10 0h1m12.5 0h1m-31.5 0.5h1m0.5 0h1m7 0h1m15.5 0h1m-21.5 0.5h1m1 0h1m-2 0.5h1m5 0h1m-9 0.5h1m26.5 0h1m1 0h1m-34 0.5h1m0.5 0h1m6 0h1m22.5 0h1m-38.5 0.5h1m20.5 0h1m11 0h1m-22 1h1m-5 0.5h1m16 0h1m-34 0.5h1m33 0h1m-22 0.5h1m6.5 0h1m0.5 0h1m-1 0.5h1m1.5 0h1m1.5 0h1m5 0h1m7.5 0h1m-32 0.5h1m7 0h1m-3.5 0.5h1m-12.5 1h1m4 0h1m1.5 0h1m-3.5 0.5h1m9.5 0h1m6 0h1m0 0h1m4.5 0h1m-6 0.5h1m-11 0.5h1m7 0h1m-2 0.5h1m-7 0.5h1m2 0.5h1m0 0h1m-0.5 0.5h1m-3 0.5h1m-0.5 0h1m1 0h1m2.5 0h1m-18.5 0.5h1m6 0h1m8 0h1m-10 0.5h1m13.5 0h1m-22 0.5h1m1 0.5h1m12.5 0h1m4.5 0.5h1m-10.5 1h1m-15.5 0.5h1m0.5 0h1m0.5 1h1m1.5 0h1m0 0h1m4.5 0h1m-9 0.5h1m13 0h1m1.5 0h1m3.5 0.5h1m-7.5 0.5h1m-10 0.5h1m1 0h1m5.5 0h1m-6.5 0.5h1m3 0h1m-7 1h1m-10.5 1h1m1 0.5h1m8.5 0h1m1 0h1m2 0h1m-22.5 0.5h1m4.5 0h1m19 0h1m-19.5 0.5h1m0 0h1m-0.5 0.5h1m8.5 0.5h1m1 0h1m7.5 0h1m-14 0.5h1m3.5 0h1m4.5 0h1m-24 0.5h1m6.5 0h1m-0.5 0h1m-0.5 0h1m0 0h1m3 0h1m2 0h1m-12 0.5h1m5 0h1m4.5 0h1m6.5 0h1m-18 0.5h1m3 0h1m3.5 0h1m-6.5 0.5h1m1 0h1m0 0h1m13 0h1m-14 0.5h1m-12.5 0.5h1m1.5 0h1m4.5 0h1m0 0h1m2.5 0h1m-0.5 0h1m-10.5 0.5h1m-1 0.5h1m2.5 0h1m4.5 0h1m13 0h1m-24 0.5h1m-0.5 0h1m1 0h1m12 0h1m3.5 0h1m-23.5 0.5h1m0 0h1m-1 0h1m3.5 0h1m-0.5 0h1m7 0h1m1.5 0h1m-14 0.5h1m1 0h1m0.5 0h1m4 0h1m6.5 0h1m-10.5 0.5h1m-8.5 0.5h1m6 0h1m4 0h1m2.5 0h1m17.5 0h1m0.5 0h1m-31.5 0.5h1m1 0h1m-15.5 0.5h1m8.5 0h1m-7 0.5h1m10 0.5h1m-13 0.5h1m4.5 0h1m-0.5 0h1m9 0h1m2.5 0h1m-11.5 0.5h1m1 0h1m-1 0h1m0.5 0h1m2 0h1m2.5 0h1m-29.5 0.5h1m8 0h1m3.5 0.5h1m1.5 0h1m-14.5 0.5h1m3 0h1m14 0h1m-1 0.5h1m14 0h1m-21.5 0.5h1m1.5 0h1m3.5 0h1m-16 0.5h1m0 0h1m1 0h1m5 0h1m2 0h1m9.5 0h1m-1 0h1m-19.5 0.5h1m2.5 0h1m3 0h1m3 0h1m-19.5 0.5h1m16 0h1m3 0h1m2 0h1m-26.5 0.5h1m10.5 0h1m6.5 0h1m5 0h1m1 0h1m-26 0.5h1m9 0h1m-1 0h1m0.5 0h1m-4.5 0.5h1m9 0h1m-8.5 0.5h1" stroke="#262626" stroke-width="1" stroke-opacity="0.42" fill="none"/>
<path d="M155.5 481h1m-24 0.5h1m-1 0h1m0 1h1m7.5 0h1m-8.5 2.5h1m2.5 0h1m1.5 0h1m20.5 0h1m-0.5 0h1m-27.5 0.5h1m26.5 0h1m-23.5 0.5h1m23 0h1m1.5 0h1m-20.5 0.5h1m11 0h1m0.5 0h1m-15 0.5h1m14 0h1m0 0h1m-0.5 0h1m0 0h1m1.5 0h1m-8 0.5h1m0.5 0h1m2 0h1m-1 0.5h1m-15 0.5h1m8.5 0h1m1 0h1m1 0h1m-34.5 0.5h1m5.5 0h1m9 0h1m7 0h1m1 0h1m3 0h1m0.5 0h1m-1 0h1m-0.5 0h1m-29.5 0.5h1m7.5 0h1m2 0h1m1.5 0h1m8.5 0h1m-0.5 0h1m4.5 0h1m-38.5 0.5h1m11 0h1m10.5 0h1m8.5 0h1m2 0h1m-28.5 0.5h1m2 0h1m10 0h1m9.5 0h1m0.5 0h1m1 0h1m1 0h1m-26.5 1h1m18 0h1m2 0h1m-0.5 0h1m-0.5 0h1m-0.5 0h1m-30 0.5h1m3 0h1m1 0h1m19.5 0h1m1 0h1m-0.5 0h1m-25.5 0.5h1m8.5 0h1m2 0h1m6 0h1m-1 0h1m3.5 0h1m1 0h1m0 0h1m-5.5 0.5h1m2 0h1m-38.5 0.5h1m6 0h1m4 0h1m3.5 0h1m13 0h1m0 0h1m-0.5 0h1m0 0h1m0.5 0h1m-29 0.5h1m3 0h1m8 0h1m6 0h1m-0.5 0h1m0.5 0h1m3 0h1m-1 0h1m0 0h1m0 0h1m-25.5 0.5h1m-0.5 0h1m0 0h1m18.5 0h1m-1 0h1m-0.5 0h1m-0.5 0h1m-0.5 0h1m1 0h1m-0.5 0h1m-1 0h1m1.5 0h1m-1 0h1m-27 0.5h1m-1 0h1m8.5 0h1m11 0h1m-0.5 0h1m1 0h1m0.5 0h1m0 0h1m-39 0.5h1m6.5 0h1m5 0h1m0 0h1m18 0h1m0 0h1m-0.5 0h1m-0.5 0h1m-35 0.5h1m13 0h1m14.5 0h1m-0.5 0h1m-1 0h1m1 0h1m1 0h1m-1 0h1m-1 0h1m2.5 0h1m-34.5 0.5h1m4.5 0h1m14.5 0h1m1.5 0h1m2.5 0h1m-1 0h1m-0.5 0h1m0 0h1m-1 0h1m-0.5 0h1m-35 0.5h1m8.5 0h1m1 0h1m5 0h1m2 0h1m2.5 0h1m4 0h1m0 0h1m-0.5 0h1m2.5 0h1m2 0h1m1.5 0h1m-41 0.5h1m10 0h1m15.5 0h1m1.5 0h1m0.5 0h1m0 0h1m0 0h1m-0.5 0h1m1.5 0h1m-32.5 0.5h1m4.5 0h1m12.5 0h1m6 0h1m0 0h1m0 0h1m0 0h1m1 0h1m-1 0h1m0.5 0h1m-39 0.5h1m-0.5 0h1m5.5 0h1m0.5 0h1m3 0h1m0 0h1m3 0h1m1.5 0h1m8.5 0h1m1.5 0h1m-1 0h1m1 0h1m0 0h1m-0.5 0h1m-1 0h1m-21 0.5h1m3 0h1m10 0h1m-0.5 0h1m-0.5 0h1m-0.5 0h1m1.5 0h1m-0.5 0h1m-36.5 0.5h1m7.5 0h1m-0.5 0h1m3.5 0h1m1 0h1m-1 0h1m9.5 0h1m7 0h1m0.5 0h1m-24 0.5h1m1.5 0h1m6 0h1m-20 0.5h1m11 0h1m1 0h1m13.5 0h1m-26.5 0.5h1m8.5 0h1m-0.5 0h1m2.5 0h1m-11.5 0.5h1m5.5 0h1m-1 0h1m0 0h1m10 0h1m6 0h1m-36.5 0.5h1m15 0h1m4.5 0h1m8 0h1m4.5 0h1m3 0h1m-50 0.5h1m18 0h1m8.5 0h1m-1 0h1m13.5 0h1m0.5 0h1m-27 0.5h1m1 0h1m6.5 0h1m6 0h1m-20 0.5h1m4 0h1m3 0h1m-1 0h1m-12 0.5h1m5 0.5h1m-0.5 0h1m8.5 0h1m15.5 0h1m0.5 0h1m-41 1h1m9 0h1m5 0h1m3.5 0h1m2 0h1m1.5 0h1m-23 0.5h1m13 0h1m0.5 0h1m-20.5 0.5h1m13.5 0h1m3 0h1m-12 0.5h1m0.5 0h1m23.5 0h1m1.5 0h1m-32 0.5h1m5.5 0h1m7 0h1m2 0h1m6 0h1m-16.5 0.5h1m0 0h1m5.5 0h1m-1 0h1m-16 0.5h1m11 0h1m14.5 0h1m-26.5 0.5h1m2.5 0h1m5 0h1m4.5 0h1m2 0h1m-20 0.5h1m2.5 0h1m4.5 0h1m-1 0.5h1m0 0h1m17 0h1m-24 0.5h1m12 0h1m-14.5 0.5h1m1.5 0h1m10.5 0h1m-32 0.5h1m15.5 0h1m-9 0.5h1m8 0h1m6 0h1m-3.5 0.5h1m0 0h1m-12 0.5h1m0.5 0h1m10 0h1m-0.5 0.5h1m-23.5 0.5h1m1 0h1m22.5 0h1m-5.5 1.5h1m-1 0h1m7 0h1m-17 0.5h1m15.5 0h1m-20.5 1h1m-1 0h1m1.5 0h1m-3 0.5h1m0 0h1m3.5 0h1m-10.5 0.5h1m8.5 0.5h1m4 0h1m-14 0.5h1m-11 0.5h1m8 0h1m16 0h1m0.5 0.5h1m4.5 0h1m-25 0.5h1m11 0h1m1 1h1m-5 1.5h1m-18 0.5h1m9 0h1m1.5 0h1m11.5 0.5h1m-23 0.5h1m10.5 0h1m3 0h1m13 1h1m-27.5 0.5h1m-11 0.5h1m5.5 0h1m4 0h1m20 0h1m-32.5 0.5h1m6.5 0h1m10.5 0h1m-16.5 0.5h1m21.5 0h1m-23.5 0.5h1m4.5 0h1m23 0h1m-15 0.5h1m-0.5 0h1m6 0h1m0 0h1m-14.5 0.5h1m15 0h1m-7.5 1h1m-29 0.5h1m9.5 0h1m9 0h1m6.5 0h1m-0.5 0.5h1m6 0h1m-23 0.5h1m-1 0h1m11 0h1m-11.5 0.5h1m13 0h1m5 0h1m-25 0.5h1m2 0h1m8 0h1m4 0h1m0 0h1m4.5 0h1m-18.5 0.5h1m-15 0.5h1m20.5 0h1m5 0h1m-15.5 0.5h1m0 0h1m0 0h1m3.5 0h1m2 0h1m-22 0.5h1m6 0.5h1m1.5 0h1m7.5 0h1m3 0h1m5.5 0h1m-1 0h1m-19 0.5h1m2.5 0h1m1 0h1m0 0h1m0.5 0h1m-18.5 0.5h1m9 0h1m-12.5 0.5h1m6 0h1m14 0h1m4 0h1m-23.5 0.5h1m8 0h1m4 0h1m-12 0.5h1m3 0h1m0 0h1m7.5 0h1m6.5 0h1m-24 0.5h1m3 0h1m5 0h1m3.5 0h1m-18 0.5h1m-0.5 0h1m8.5 0h1m5 0h1m1 0h1m2.5 0h1m-10 0.5h1m9 0h1m2 0h1m-23 0.5h1m9 0h1m7 0h1m1.5 0h1m0.5 0h1m-0.5 0h1m-1 0h1m9.5 0h1m-30 0.5h1m6 0h1m8 0h1m-1 0h1m2 0h1m-24.5 0.5h1m3.5 0h1m8.5 0h1m-18 0.5h1m-1 0h1m1.5 0h1m2.5 0h1m5 0h1m5.5 0h1m-3.5 0.5h1m1 0h1m4 0h1m-22 0.5h1m4 0h1m0 0h1m10.5 0h1m-14.5 0.5h1m10.5 0h1m2.5 0h1m-13 0.5h1m-0.5 0h1m0.5 0h1m-1 0h1m3 0h1m5.5 0h1m-0.5 0h1m-18.5 1h1m9.5 0.5h1m3.5 0h1m-8.5 0.5h1m6.5 0h1m-5.5 1h1m0.5 0h1m0.5 0h1" stroke="#262626" stroke-width="1" stroke-opacity="0.42" fill="none"/>
<path d="M163.5 483h1m-25 0.5h1m25 0h1m0.5 0h1m-18.5 0.5h1m13 0h1m-25 0.5h1m18.5 0h1m-29 0.5h1m9 0h1m6.5 0h1m14.5 0h1m-22 0.5h1m16.5 0h1m2.5 0h1m-21.5 0.5h1m2 0h1m13.5 0h1m-32.5 0.5h1m3.5 0h1m25.5 0h1m-1 0h1m6 0h1m-36.5 0.5h1m27 0h1m-24.5 1h1m27.5 0h1m-25.5 0.5h1m18 0h1m0.5 0h1m1 0h1m-1 0h1m-20 0.5h1m2 0h1m4.5 0h1m6 0h1m1.5 0h1m1 0h1m-35 0.5h1m0 0h1m11.5 0h1m14.5 0h1m4 0h1m-36.5 0.5h1m23 0h1m5 0h1m1.5 0h1m1 0h1m0 0h1m1.5 0h1m-19.5 0.5h1m-31 0.5h1m5 0h1m9.5 0h1m2.5 0h1m1 0h1m-0.5 0h1m1.5 0h1m4.5 0h1m7 0h1m3.5 0h1m0 0h1m-0.5 0h1m-0.5 0h1m-35 0.5h1m3.5 0h1m3 0h1m1.5 0h1m2 0h1m-0.5 0h1m13 0h1m-1 0h1m-0.5 0h1m0.5 0h1m1.5 0h1m-0.5 0h1m1.5 0h1m-31 0.5h1m0.5 0h1m9 0h1m2 0h1m10 0h1m1 0h1m-33 0.5h1m1.5 0h1m5.5 0h1m5 0h1m2 0h1m2 0h1m8.5 0h1m-1 0h1m-0.5 0h1m0 0h1m-0.5 0h1m0.5 0h1m-23 0.5h1m2 0h1m12.5 0h1m0 0h1m0 0h1m-0.5 0h1m-35 0.5h1m7 0h1m3.5 0h1m0 0h1m-0.5 0h1m7 0h1m11 0h1m2 0h1m-40 0.5h1m2 0h1m11 0h1m0 0h1m0 0h1m2 0h1m8.5 0h1m1 0h1m1.5 0h1m0 0h1m-1 0h1m0.5 0h1m-0.5 0h1m3.5 0h1m-42 0.5h1m4.5 0h1m9.5 0h1m1 0h1m4 0h1m13 0h1m0 0h1m-26.5 0.5h1m17.5 0h1m0.5 0h1m0 0h1m0 0h1m0 0h1m2 0h1m-35.5 0.5h1m8 0h1m3.5 0h1m0 0h1m5 0h1m6.5 0h1m2.5 0h1m0 0h1m0 0h1m-36.5 0.5h1m6.5 0h1m4.5 0h1m1 0h1m-1 0h1m0 0h1m11 0h1m4 0h1m-0.5 0h1m-1 0h1m-17.5 0.5h1m6 0h1m4 0h1m1 0h1m-1 0h1m-1 0h1m0.5 0h1m-0.5 0h1m-1 0h1m2 0h1m1 0h1m-41.5 0.5h1m-0.5 0h1m0 0h1m6.5 0h1m0.5 0h1m-0.5 0h1m8 0h1m9.5 0h1m1 0h1m-0.5 0h1m-21.5 0.5h1m6.5 0h1m9.5 0h1m1.5 0h1m-1 0h1m0.5 0h1m2 0h1m-0.5 0h1m-34.5 0.5h1m3.5 0h1m4 0h1m16 0h1m0 0h1m0.5 0h1m-0.5 0h1m3 0h1m-27.5 0.5h1m19 0h1m2 0h1m0 0h1m-0.5 0h1m-25 0.5h1m2 0h1m0 0h1m2 0h1m0.5 0h1m4.5 0h1m2 0h1m4 0h1m-0.5 0h1m-0.5 0h1m0.5 0h1m-19.5 0.5h1m12.5 0h1m2.5 0h1m0 0h1m-34.5 0.5h1m0 0h1m2 0h1m1.5 0h1m1.5 0h1m0.5 0h1m19.5 0h1m0.5 0h1m-0.5 0h1m0 0h1m1 0h1m-37.5 0.5h1m5.5 0h1m3 0h1m-0.5 0h1m0.5 0h1m17.5 0h1m-33 0.5h1m0.5 0h1m-0.5 0h1m17 0h1m-0.5 0h1m11.5 0h1m1 0h1m-23 0.5h1m0 0h1m17 0h1m-23 0.5h1m9 0h1m9.5 0h1m-0.5 0h1m0.5 0h1m3 0h1m-31.5 0.5h1m-1 0h1m1.5 0h1m12 0h1m10.5 0h1m-15 0.5h1m6 0h1m-20.5 0.5h1m1 0h1m0 0h1m9.5 0h1m1 0h1m3 0h1m12 0h1m-31 0.5h1m18.5 0h1m3.5 0h1m-1.5 0.5h1m-26.5 0.5h1m0 0h1m8.5 0h1m-13 0.5h1m3 0h1m-0.5 0h1m0.5 0h1m3.5 0h1m1 0h1m3.5 0h1m9.5 0h1m-37 0.5h1m15.5 0h1m10.5 0h1m12.5 0h1m-35.5 0.5h1m-0.5 0h1m7 0h1m0 0h1m2 0h1m3 0h1m4 0h1m4 0h1m-24.5 0.5h1m5.5 0h1m10 0h1m-13.5 0.5h1m-7.5 0.5h1m11.5 0h1m3 0h1m-12.5 0.5h1m3 0h1m4 0h1m0 0h1m7.5 0h1m-19.5 0.5h1m-2 0.5h1m3 0h1m1.5 0h1m2.5 0h1m-12.5 0.5h1m12.5 1h1m-2 1.5h1m10.5 0h1m-35.5 0.5h1m19.5 0h1m2 0h1m-18.5 0.5h1m0 0h1m13.5 0h1m-7 0.5h1m-12.5 0.5h1m0 0h1m9.5 0h1m2.5 0h1m-26.5 0.5h1m12 0h1m8 0h1m8.5 0h1m-18 0.5h1m6.5 0h1m-1 0.5h1m2.5 0h1m-19 0.5h1m5.5 0h1m4.5 1h1m14.5 0h1m-13.5 0.5h1m3.5 0h1m1 0h1m-12.5 0.5h1m4.5 0.5h1m-14 0.5h1m-14 0.5h1m8.5 0.5h1m19 0h1m-10.5 0.5h1m-5 0.5h1m11 0h1m3 0h1m0 0h1m-19 0.5h1m2 0h1m2 0.5h1m-3.5 0.5h1m7.5 0h1m-16.5 0.5h1m3.5 0.5h1m12 0.5h1m-24.5 0.5h1m9.5 0h1m17 0h1m-19 0.5h1m3.5 0h1m1 0.5h1m7.5 0h1m0.5 0h1m-21 1h1m-0.5 0h1m4.5 0h1m0.5 0h1m0 0h1m-9 1h1m6 0h1m5.5 0h1m-5 0.5h1m10.5 0h1m-21.5 0.5h1m1.5 0h1m3 0.5h1m-9.5 0.5h1m-1 0h1m3.5 0h1m5.5 0h1m-13.5 0.5h1m13 0h1m4 0h1m-19 0.5h1m-0.5 0h1m15 0h1m-19 0.5h1m0 0h1m2.5 0h1m14.5 0h1m8.5 0h1m-10.5 0.5h1m-18 0.5h1m0.5 0.5h1m4 0h1m-15 0.5h1m11.5 0h1m15.5 0h1m-23 0.5h1m-0.5 0h1m0.5 0h1m9.5 0h1m-19 0.5h1m12 0h1m0.5 0h1m-0.5 0h1m-9.5 0.5h1m3 0h1m3 0h1m6.5 0h1m5.5 0h1m-15 0.5h1m0 0h1m1 0h1m-7 0.5h1m0 0h1m5 0h1m3 0h1m2.5 0h1m-27.5 0.5h1m0.5 0h1m0.5 0h1m2.5 0.5h1m30 0h1m-26.5 0.5h1m0.5 0h1m0.5 0h1m4.5 0h1m-17 0.5h1m3.5 0h1m9.5 0h1m-20 0.5h1m2.5 0h1m12 0h1m-6.5 0.5h1m3 0h1m-19.5 0.5h1m5.5 0h1m8 0h1m2 0h1m3.5 0h1m-18.5 0.5h1m4 0h1m-1.5 0.5h1m5 0h1m2.5 0h1m0.5 0h1m-22 0.5h1m3.5 0h1m1.5 0h1m15.5 0h1m6 0h1m-28.5 0.5h1m3 0h1m7.5 0h1m7 0h1m-6 0.5h1m-0.5 0h1m-1 0h1m-10 0.5h1m-0.5 0h1m1.5 0h1m3.5 0h1m3 0h1m-22.5 0.5h1m6 0h1m4 0h1m-1 0h1m-1 0.5h1m-14 0.5h1m14 0h1m0.5 0h1m12.5 0h1m-17.5 0.5h1m-1 0h1m0 0h1m3 0.5h1m13.5 0h1m-25 0.5h1m24 0h1m-14 0.5h1" stroke="#262626" stroke-width="1" stroke-opacity="0.42" fill="none"/>
<rect x="110.9" y="478.5" width="68.8" height="69.0" fill="none" stroke="#1a1a1a" stroke-width="2"/>
<path d="M152.6 478.5V518H172.5V478.5" fill="none" stroke="#1a1a1a" stroke-width="2"/>
<text x="152.83" y="533.67" font-size="12.86" fill="#1a1a1a" stroke="#1a1a1a" stroke-width="0.19" textLength="17.21" lengthAdjust="spacingAndGlyphs">29</text>
<text x="111.2" y="553.7" font-size="4.8" text-anchor="middle" fill="#505050">10<tspan dy="-1.6" font-size="3.2">0</tspan></text>
<line x1="110.9" y1="547.5" x2="110.9" y2="549.3" stroke="#333" stroke-width="1"/>
<text transform="translate(108.3,547.5) rotate(-90)" font-size="4.8" text-anchor="middle" fill="#505050">10<tspan dy="-1.6" font-size="3.2">0</tspan></text>
<line x1="109.1" y1="547.5" x2="110.9" y2="547.5" stroke="#333" stroke-width="1"/>
<text x="128.4" y="553.7" font-size="4.8" text-anchor="middle" fill="#505050">10<tspan dy="-1.6" font-size="3.2">1</tspan></text>
<line x1="128.1" y1="547.5" x2="128.1" y2="549.3" stroke="#333" stroke-width="1"/>
<text transform="translate(108.3,530.2) rotate(-90)" font-size="4.8" text-anchor="middle" fill="#505050">10<tspan dy="-1.6" font-size="3.2">1</tspan></text>
<line x1="109.1" y1="530.2" x2="110.9" y2="530.2" stroke="#333" stroke-width="1"/>
<text x="145.6" y="553.7" font-size="4.8" text-anchor="middle" fill="#505050">10<tspan dy="-1.6" font-size="3.2">2</tspan></text>
<line x1="145.3" y1="547.5" x2="145.3" y2="549.3" stroke="#333" stroke-width="1"/>
<text transform="translate(108.3,513.0) rotate(-90)" font-size="4.8" text-anchor="middle" fill="#505050">10<tspan dy="-1.6" font-size="3.2">2</tspan></text>
<line x1="109.1" y1="513.0" x2="110.9" y2="513.0" stroke="#333" stroke-width="1"/>
<text x="162.8" y="553.7" font-size="4.8" text-anchor="middle" fill="#505050">10<tspan dy="-1.6" font-size="3.2">3</tspan></text>
<line x1="162.5" y1="547.5" x2="162.5" y2="549.3" stroke="#333" stroke-width="1"/>
<text transform="translate(108.3,495.8) rotate(-90)" font-size="4.8" text-anchor="middle" fill="#505050">10<tspan dy="-1.6" font-size="3.2">3</tspan></text>
<line x1="109.1" y1="495.8" x2="110.9" y2="495.8" stroke="#333" stroke-width="1"/>
<text x="180.0" y="553.7" font-size="4.8" text-anchor="middle" fill="#505050">10<tspan dy="-1.6" font-size="3.2">4</tspan></text>
<line x1="179.7" y1="547.5" x2="179.7" y2="549.3" stroke="#333" stroke-width="1"/>
<text transform="translate(108.3,478.5) rotate(-90)" font-size="4.8" text-anchor="middle" fill="#505050">10<tspan dy="-1.6" font-size="3.2">4</tspan></text>
<line x1="109.1" y1="478.5" x2="110.9" y2="478.5" stroke="#333" stroke-width="1"/>
<path d="M243 482h1m-0.5 0h1m8.5 0.5h1m-18 0.5h1m3.5 0h1m-22.5 0.5h1m-9 0.5h1m7.5 0h1m19 0h1m1.5 0h1m7.5 0h1m-14 0.5h1m5 0h1m3.5 0h1m-28.5 0.5h1m0.5 0h1m30 0h1m-27 0.5h1m11 0h1m1.5 0h1m5 0h1m4 0h1m-35 0.5h1m2 0h1m2 0h1m1 0h1m-0.5 0h1m5 0h1m10 0h1m0 0h1m5 0h1m-33.5 0.5h1m23.5 0h1m0 0h1m3 0h1m-30.5 0.5h1m-0.5 0h1m0 0h1m3 0h1m2.5 0h1m7.5 0h1m8.5 0h1m0.5 0h1m4 0h1m-34.5 0.5h1m5.5 0h1m-1 0h1m-0.5 0h1m-0.5 0h1m-1 0h1m-1 0h1m1.5 0h1m15.5 0h1m5 0h1m-37.5 0.5h1m3 0h1m3.5 0h1m0.5 0h1m14.5 0h1m0.5 0h1m2 0h1m-21 0.5h1m0 0h1m-1 0h1m-0.5 0h1m0 0h1m0.5 0h1m0.5 0h1m-0.5 0h1m2 0h1m4 0h1m1 0h1m0.5 0h1m2 0h1m0.5 0h1m-0.5 0h1m0 0h1m2.5 0h1m-38.5 0.5h1m4 0h1m1 0h1m0 0h1m-0.5 0h1m-0.5 0h1m-0.5 0h1m0.5 0h1m-0.5 0h1m7 0h1m0.5 0h1m5.5 0h1m0 0h1m1.5 0h1m-1 0h1m3.5 0h1m-34.5 0.5h1m0 0h1m4 0h1m-0.5 0h1m-0.5 0h1m-1 0h1m4.5 0h1m2.5 0h1m-1 0h1m1.5 0h1m-1 0h1m7 0h1m3 0h1m-1 0h1m0 0h1m4.5 0h1m-34 0.5h1m1.5 0h1m1.5 0h1m1.5 0h1m1.5 0h1m7 0h1m2 0h1m0 0h1m-0.5 0h1m-1 0h1m1 0h1m-1 0h1m4 0h1m-0.5 0h1m1 0h1m-0.5 0h1m-40.5 0.5h1m3 0h1m1.5 0h1m2 0h1m-0.5 0h1m0 0h1m-0.5 0h1m2 0h1m4 0h1m6 0h1m1.5 0h1m-0.5 0h1m-1 0h1m-1 0h1m1 0h1m1 0h1m-0.5 0h1m1 0h1m0 0h1m0 0h1m-0.5 0h1m-41 0.5h1m8.5 0h1m4.5 0h1m1 0h1m-1 0h1m-0.5 0h1m3 0h1m-0.5 0h1m6.5 0h1m0 0h1m1.5 0h1m0 0h1m2 0h1m-1 0h1m-35 0.5h1m2.5 0h1m2 0h1m0 0h1m-0.5 0h1m-0.5 0h1m-1 0h1m1.5 0h1m-1 0h1m-0.5 0h1m-1 0h1m2.5 0h1m5.5 0h1m6 0h1m-1 0h1m2.5 0h1m3.5 0h1m-34 0.5h1m2.5 0h1m0.5 0h1m1 0h1m0 0h1m-0.5 0h1m-0.5 0h1m-0.5 0h1m1.5 0h1m-1 0h1m-1 0h1m1 0h1m-0.5 0h1m-1 0h1m5.5 0h1m2.5 0h1m0.5 0h1m1 0h1m3.5 0h1m2.5 0h1m-39.5 0.5h1m2.5 0h1m2.5 0h1m0 0h1m0.5 0h1m0.5 0h1m0 0h1m-1 0h1m0 0h1m4 0h1m-0.5 0h1m1 0h1m4 0h1m1 0h1m-0.5 0h1m1.5 0h1m5 0h1m-36 0.5h1m0 0h1m-0.5 0h1m-1 0h1m1.5 0h1m-0.5 0h1m0 0h1m1 0h1m-0.5 0h1m-0.5 0h1m-1 0h1m3 0h1m-0.5 0h1m2 0h1m10.5 0h1m3 0h1m-36 0.5h1m5.5 0h1m1.5 0h1m1 0h1m1 0h1m-1 0h1m-0.5 0h1m-1 0h1m-0.5 0h1m2 0h1m0.5 0h1m-1 0h1m4.5 0h1m2 0h1m3 0h1m2 0h1m2.5 0h1m-39.5 0.5h1m2.5 0h1m0.5 0h1m3 0h1m0 0h1m-0.5 0h1m-0.5 0h1m-1 0h1m2 0h1m0 0h1m2.5 0h1m-0.5 0h1m1.5 0h1m1.5 0h1m5.5 0h1m-0.5 0h1m-23.5 0.5h1m-1 0h1m0 0h1m-0.5 0h1m0.5 0h1m-1 0h1m10 0h1m0.5 0h1m1 0h1m4 0h1m0 0h1m0 0h1m-0.5 0h1m0.5 0h1m-0.5 0h1m0.5 0h1m-34 0.5h1m8.5 0h1m0.5 0h1m3.5 0h1m11 0h1m0 0h1m-25 0.5h1m1 0h1m-0.5 0h1m2.5 0h1m0.5 0h1m13.5 0h1m-35 0.5h1m16 0h1m0.5 0h1m13 0h1m2 0h1m-30.5 0.5h1m29.5 0h1m0.5 0h1m-35 0.5h1m6 0.5h1m3 0h1m-1 0h1m6 0h1m18.5 0h1m-1 0h1m-41 0.5h1m14.5 0h1m0.5 0h1m-0.5 0h1m0.5 0h1m-2 0.5h1m-10.5 0.5h1m-1 0h1m0.5 0h1m-0.5 0.5h1m15 0h1m7.5 0h1m-27 0.5h1m22.5 0h1m-17.5 0.5h1m-12 0.5h1m3.5 0h1m10.5 0.5h1m-4 0.5h1m4 0h1m-24.5 0.5h1m9 0h1m-5.5 0.5h1m3.5 0h1m12.5 0h1m-16.5 0.5h1m-9.5 0.5h1m11 0h1m6.5 0h1m0 0h1m-14.5 0.5h1m4.5 0h1m2 0h1m-14 0.5h1m7 0h1m-6 0.5h1m2 0h1m1.5 0h1m8.5 0h1m-35 0.5h1m20 0h1m8 0h1m1 0h1m-12 0.5h1m-0.5 0h1m-7 0.5h1m3 0h1m3.5 0h1m2 0h1m-12 0.5h1m3.5 0h1m6.5 0h1m-1 0h1m-14.5 0.5h1m4 0.5h1m8.5 0h1m-3.5 0.5h1m-10 0.5h1m8 0h1m-0.5 0h1m0.5 0.5h1m0 0h1m-0.5 0h1m0.5 0.5h1m0 0h1m-6.5 0.5h1m-9 0.5h1m-0.5 0h1m0 0h1m-10 0.5h1m0.5 0h1m4 0h1m9 0h1m-6.5 1.5h1m2.5 0h1m2 0h1m-16 0.5h1m14.5 0h1m1 0h1m5.5 0h1m-18 0.5h1m-7.5 0.5h1m0.5 0h1m3.5 0h1m9 0h1m5 0h1m1.5 1h1m-28.5 0.5h1m12 0h1m14 0h1m-21.5 0.5h1m2 0.5h1m-1.5 0.5h1m-0.5 0h1m3 0h1m0.5 0h1m-9.5 0.5h1m30.5 0h1m-31 0.5h1m2 0h1m3 0h1m15.5 0h1m-34 0.5h1m28.5 0h1m-27.5 0.5h1m8.5 0h1m3 0h1m-11 0.5h1m0.5 0h1m6.5 0h1m1.5 0h1m6 0h1m-17.5 0.5h1m4.5 0h1m3.5 0h1m11.5 0h1m-13 1.5h1m4.5 0h1m15.5 0h1m-3.5 0.5h1m-35 0.5h1m15 0h1m-10.5 0.5h1m0.5 0h1m-10.5 0.5h1m10 0h1m18.5 0.5h1m-30.5 0.5h1m13.5 0h1m-12.5 0.5h1m5 0h1m-7.5 1h1m14.5 0h1m-0.5 0h1m-19.5 0.5h1m4 0h1m-9.5 0.5h1m33 0h1m2.5 0h1m-44 0.5h1m11.5 0h1m0.5 0h1m10.5 0h1m3 0h1m-6.5 0.5h1m0 0h1m0.5 0h1m-13 0.5h1m8.5 0h1m-28.5 0.5h1m28.5 0h1m-19.5 0.5h1m4.5 0h1m2 0h1m4.5 0h1m4 0h1m-10 1h1m22 0h1m-36.5 0.5h1m15 0h1m-24 0.5h1m14.5 0.5h1m1.5 0h1m3.5 0h1m-2.5 0.5h1m7.5 0h1m-34 0.5h1m6.5 0h1m7 0.5h1m2.5 0h1m4.5 0h1m0.5 0h1m-20.5 0.5h1m18.5 0h1m-25.5 0.5h1m11.5 0h1m6 0h1m0.5 0h1m-4 0.5h1m8.5 0.5h1m2 0h1m-17.5 0.5h1m2.5 0h1m-0.5 0h1m12 0h1m-19.5 0.5h1m3 0h1m1.5 0h1m2.5 0h1m-17 1h1m13.5 0h1m5.5 0h1m-26.5 0.5h1m3 0h1m6.5 0h1m0.5 0h1m1.5 0h1m4 0h1m-22.5 1h1m16.5 0h1m1.5 0h1m-1.5 0.5h1m4 0h1m-12.5 0.5h1m-0.5 0h1m-1 0h1m-1 0h1m1 0h1m0.5 0h1m1 0h1m1.5 0h1m19 0h1m-28.5 0.5h1m6 0h1m14.5 0.5h1m-30 0.5h1m1.5 0h1m10.5 0h1m1 0h1m2.5 0h1m5 0h1m-25.5 1h1m-1 0h1m12 0h1m-8 0.5h1m0 0h1m12.5 0h1m7.5 0h1m-18 0.5h1m-4 0.5h1m-16 0.5h1" stroke="#262626" stroke-width="1" stroke-opacity="0.42" fill="none"/>
<path d="M225.5 481.5h1m19 0.5h1m-1 0h1m1 0.5h1m3 0h1m-10.5 0.5h1m2.5 0h1m-24.5 0.5h1m18.5 0h1m0.5 0h1m-5.5 0.5h1m3 0h1m0 0h1m-21 0.5h1m25 0h1m-25.5 0.5h1m5 0h1m19.5 0h1m-26.5 0.5h1m1.5 0h1m0.5 0h1m6.5 0h1m-20.5 0.5h1m5 0h1m-0.5 0h1m2.5 0h1m2.5 0h1m18 0h1m0.5 0h1m-38 0.5h1m5.5 0h1m0.5 0h1m18 0h1m4.5 0h1m-22.5 0.5h1m1 0h1m2.5 0h1m8.5 0h1m4.5 0h1m2.5 0h1m-37 0.5h1m7.5 0h1m1 0h1m5.5 0h1m6.5 0h1m-1 0h1m3 0h1m4.5 0h1m-35.5 0.5h1m4 0h1m4 0h1m9.5 0h1m2 0h1m9 0h1m-0.5 0h1m0 0h1m1.5 0h1m-29.5 0.5h1m0 0h1m0 0h1m1 0h1m0 0h1m6.5 0h1m6.5 0h1m0 0h1m-0.5 0h1m0.5 0h1m-38.5 0.5h1m8 0h1m0.5 0h1m4 0h1m-0.5 0h1m11 0h1m4.5 0h1m3 0h1m0.5 0h1m-0.5 0h1m-0.5 0h1m2 0h1m-36.5 0.5h1m0 0h1m-0.5 0h1m3 0h1m1.5 0h1m1 0h1m5.5 0h1m0 0h1m5.5 0h1m-0.5 0h1m-1 0h1m0 0h1m10 0h1m-38.5 0.5h1m3 0h1m-0.5 0h1m-1 0h1m1.5 0h1m-1 0h1m1.5 0h1m1.5 0h1m1.5 0h1m7.5 0h1m2.5 0h1m0 0h1m2.5 0h1m-0.5 0h1m0 0h1m0 0h1m2.5 0h1m-38.5 0.5h1m4 0h1m0.5 0h1m0 0h1m0 0h1m0 0h1m0.5 0h1m1.5 0h1m1.5 0h1m1 0h1m3 0h1m1 0h1m1.5 0h1m1 0h1m-0.5 0h1m0.5 0h1m1 0h1m4 0h1m-38 0.5h1m3 0h1m-1 0h1m0 0h1m0.5 0h1m1 0h1m-0.5 0h1m-1 0h1m-0.5 0h1m1.5 0h1m0.5 0h1m-0.5 0h1m0.5 0h1m8 0h1m0.5 0h1m0.5 0h1m-1 0h1m3.5 0h1m0 0h1m-25 0.5h1m-1 0h1m1 0h1m-0.5 0h1m-1 0h1m-0.5 0h1m5 0h1m3.5 0h1m2 0h1m2 0h1m2.5 0h1m0 0h1m0.5 0h1m-0.5 0h1m6 0h1m-39 0.5h1m1 0h1m1 0h1m-0.5 0h1m1 0h1m0.5 0h1m1 0h1m0.5 0h1m-0.5 0h1m-1 0h1m7 0h1m1 0h1m0.5 0h1m-0.5 0h1m0 0h1m2.5 0h1m1.5 0h1m-31.5 0.5h1m2 0h1m1 0h1m0.5 0h1m0 0h1m-0.5 0h1m3 0h1m6.5 0h1m1.5 0h1m-1 0h1m5.5 0h1m1.5 0h1m3 0h1m-42.5 0.5h1m3.5 0h1m0.5 0h1m0.5 0h1m3 0h1m-0.5 0h1m5 0h1m9.5 0h1m4 0h1m0 0h1m2 0h1m2.5 0h1m-44 0.5h1m4.5 0h1m1.5 0h1m1.5 0h1m3.5 0h1m0 0h1m3 0h1m9.5 0h1m2 0h1m1.5 0h1m0.5 0h1m-0.5 0h1m-0.5 0h1m-31 0.5h1m0.5 0h1m-1 0h1m-0.5 0h1m-0.5 0h1m2 0h1m0 0h1m2 0h1m1 0h1m4.5 0h1m0 0h1m0 0h1m4.5 0h1m0.5 0h1m-0.5 0h1m0 0h1m-24 0.5h1m0 0h1m0.5 0h1m-1 0h1m-0.5 0h1m0.5 0h1m6 0h1m10.5 0h1m-27 0.5h1m-1 0h1m1 0h1m-0.5 0h1m-1 0h1m-0.5 0h1m3.5 0h1m2.5 0h1m8.5 0h1m-0.5 0h1m-27.5 0.5h1m5 0h1m0 0h1m0.5 0h1m0.5 0h1m17 0h1m-0.5 0h1m0 0h1m0 0h1m-1 0h1m1 0h1m0 0h1m-0.5 0h1m-0.5 0h1m-33.5 0.5h1m1.5 0h1m3 0h1m-4 0.5h1m4 0h1m-0.5 0h1m-13 0.5h1m1 0h1m7 0h1m0 0h1m3.5 0h1m0.5 0h1m3.5 0h1m10 0h1m-37.5 0.5h1m7 0h1m-0.5 0h1m0.5 0h1m1 0h1m0 0h1m4.5 0h1m0 0h1m6 0h1m-0.5 0h1m-27 0.5h1m11.5 0h1m-0.5 0h1m0 0h1m5 0h1m5.5 0h1m-26.5 0.5h1m1.5 0h1m11 0h1m3 0h1m1 0h1m-21 1h1m19 0h1m-27 1h1m18.5 0h1m-1 0h1m-17 0.5h1m1 0h1m5 0h1m3 0h1m1 0h1m-15 0.5h1m5 0.5h1m-7 0.5h1m6 0h1m10 0h1m-16 0.5h1m4 0h1m7 0h1m0.5 0h1m0.5 0h1m3 0h1m-19.5 0.5h1m6.5 0h1m6 0h1m-14.5 0.5h1m-11 0.5h1m14.5 0h1m1 0h1m4 0h1m0.5 0h1m-0.5 0h1m-7 0.5h1m4.5 0h1m-13 0.5h1m7.5 0h1m0.5 0h1m2.5 0h1m-29 0.5h1m20.5 0h1m-5 0.5h1m0 0h1m0 0h1m21.5 0h1m-31.5 0.5h1m1 0h1m-5 0.5h1m18 0.5h1m-16.5 0.5h1m8.5 0h1m-19.5 0.5h1m30.5 0h1m-27 0.5h1m3 0h1m8.5 0h1m-7 0.5h1m0.5 0h1m-0.5 0h1m1 0h1m9.5 0h1m-19 0.5h1m2.5 0h1m4.5 0h1m3 0h1m15.5 0h1m-28.5 0.5h1m2.5 0h1m-10.5 0.5h1m0 0h1m4 0h1m2.5 0h1m0.5 0h1m-17.5 0.5h1m5.5 0h1m11.5 0h1m-9.5 0.5h1m1 0h1m8 0h1m-11.5 0.5h1m9 0h1m-9 0.5h1m0 0h1m23.5 0h1m-36.5 0.5h1m3.5 0h1m0.5 0h1m0 0.5h1m6 0h1m1.5 0.5h1m-2 1h1m4 0h1m-17.5 0.5h1m-6 0.5h1m7 0h1m24.5 0h1m-29.5 0.5h1m5.5 0h1m0 0h1m-12.5 0.5h1m4.5 0h1m4 0h1m1.5 0h1m-15 0.5h1m23 0h1m-4 0.5h1m-16.5 0.5h1m6 0h1m29.5 0h1m-44 1h1m1 0.5h1m0.5 0h1m14 0.5h1m-18.5 0.5h1m7 0h1m6 0h1m-12.5 0.5h1m8.5 0h1m-15 0.5h1m-2 0.5h1m0 0h1m10 0h1m5 0h1m12 0h1m-16.5 0.5h1m-20.5 0.5h1m16.5 0h1m5 0h1m-16 0.5h1m-7 0.5h1m1 0h1m28 0h1m-25.5 0.5h1m5 0h1m19 0h1m-11.5 0.5h1m1 0h1m-27.5 0.5h1m13 0.5h1m6 0.5h1m-14 0.5h1m19 0h1m-17.5 0.5h1m4.5 0h1m-2.5 0.5h1m-19 0.5h1m-0.5 0h1m54.5 0h1m-48.5 0.5h1m3 0h1m10 0h1m5.5 0h1m-0.5 0h1m-12 0.5h1m7.5 0h1m10 0h1m-32 0.5h1m-4.5 0.5h1m5 0h1m0 0h1m3.5 0h1m11 0h1m5 0h1m-30 0.5h1m5.5 0h1m2 0h1m12.5 0h1m26 0h1m-44.5 0.5h1m3 0h1m1 0h1m5.5 0h1m0 0h1m-25 0.5h1m2 0h1m5 0h1m10.5 0h1m0 0h1m-15 0.5h1m-0.5 0h1m6 0h1m16.5 0h1m-31 0.5h1m2 0h1m0 0h1m0.5 0h1m-15 0.5h1m11 0h1m3.5 0h1m-0.5 0h1m16 0h1m-0.5 0h1m-18.5 0.5h1m0.5 0h1m-11.5 0.5h1m2 0h1m5 0h1m1 0h1m0.5 0h1m0.5 0h1m2 0h1m-7.5 0.5h1m0 0h1m0.5 0h1m21 0h1m-22 0.5h1m1 0h1m13.5 0h1m-23.5 0.5h1m3 0h1m4.5 0h1m0 0h1m-9 0.5h1m0.5 0h1m-11.5 0.5h1m8 0h1m-0.5 0h1m-2.5 0.5h1m3.5 0h1m8 0h1m-0.5 0h1m-17 0.5h1m2 0h1m-0.5 0h1m11.5 0.5h1m-28.5 0.5h1m16 0h1m7 0h1m-15 0.5h1m3 0h1m-1 0h1m2 0h1m10.5 0h1m-10 0.5h1m-12.5 1h1m10 0h1m-17 0.5h1m7 0h1m7 2h1m-2.5 0.5h1m6 0h1" stroke="#262626" stroke-width="1" stroke-opacity="0.42" fill="none"/>
<path d="M243.5 482h1m2 0h1m-23 1h1m15.5 0h1m-0.5 0.5h1m5 0h1m-15 0.5h1m9.5 0h1m-25.5 0.5h1m16 0h1m5 0.5h1m-23 0.5h1m2.5 0h1m2 0h1m1 0h1m7.5 0h1m11 0h1m-33 0.5h1m26.5 0h1m5 0h1m-33 0.5h1m1 0h1m2 0h1m9 0h1m14 0h1m0 0h1m-28 0.5h1m0.5 0h1m0.5 0h1m0 0h1m2 0h1m1 0h1m0 0h1m10 0h1m-1 0h1m2.5 0h1m0.5 0h1m-27.5 0.5h1m-0.5 0h1m1 0h1m0.5 0h1m0.5 0h1m0.5 0h1m0.5 0h1m0 0h1m2 0h1m1 0h1m3 0h1m2.5 0h1m-0.5 0h1m4 0h1m6.5 0h1m-39 0.5h1m-1 0h1m1.5 0h1m2 0h1m3 0h1m2 0h1m11 0h1m0.5 0h1m-0.5 0h1m-33 0.5h1m0 0h1m-0.5 0h1m3 0h1m3 0h1m3.5 0h1m11.5 0h1m4 0h1m-1 0h1m1.5 0h1m-1 0h1m0 0h1m0.5 0h1m-33 0.5h1m-0.5 0h1m1 0h1m0 0h1m-0.5 0h1m1.5 0h1m1.5 0h1m-1 0h1m3 0h1m6 0h1m5.5 0h1m0 0h1m3.5 0h1m-1 0h1m-31 0.5h1m-1 0h1m1 0h1m-1 0h1m1 0h1m0.5 0h1m2 0h1m-0.5 0h1m-1 0h1m0 0h1m7.5 0h1m0 0h1m1.5 0h1m-0.5 0h1m3 0h1m-0.5 0h1m-1 0h1m-0.5 0h1m-41 0.5h1m12.5 0h1m-0.5 0h1m2 0h1m1 0h1m1.5 0h1m0 0h1m7 0h1m-0.5 0h1m-0.5 0h1m2.5 0h1m3 0h1m-0.5 0h1m2.5 0h1m-33 0.5h1m1.5 0h1m-0.5 0h1m1.5 0h1m2 0h1m0.5 0h1m6.5 0h1m1.5 0h1m0.5 0h1m-0.5 0h1m1.5 0h1m0.5 0h1m3 0h1m-35 0.5h1m1.5 0h1m-0.5 0h1m0 0h1m-0.5 0h1m1 0h1m-0.5 0h1m2 0h1m1 0h1m-1 0h1m10 0h1m1.5 0h1m2 0h1m-1 0h1m7 0h1m-34 0.5h1m-0.5 0h1m2 0h1m-0.5 0h1m-1 0h1m0.5 0h1m3 0h1m-0.5 0h1m5 0h1m10 0h1m-29 0.5h1m2 0h1m-1 0h1m2 0h1m1 0h1m5 0h1m0.5 0h1m8 0h1m1 0h1m1 0h1m5 0h1m-39 0.5h1m0.5 0h1m7 0h1m1 0h1m0 0h1m0.5 0h1m-1 0h1m5 0h1m4.5 0h1m4.5 0h1m0 0h1m0 0h1m-0.5 0h1m-1 0h1m1.5 0h1m-37 0.5h1m4.5 0h1m-0.5 0h1m1.5 0h1m1.5 0h1m0.5 0h1m8 0h1m6 0h1m1 0h1m-1 0h1m0.5 0h1m-1 0h1m1.5 0h1m0.5 0h1m-34.5 0.5h1m4 0h1m-1 0h1m0 0h1m0.5 0h1m1 0h1m0 0h1m3.5 0h1m5 0h1m9.5 0h1m-37 0.5h1m6.5 0h1m-0.5 0h1m0 0h1m4 0h1m-1 0h1m0 0h1m0.5 0h1m1.5 0h1m4.5 0h1m3.5 0h1m4 0h1m0 0h1m-0.5 0h1m-1 0h1m-28.5 0.5h1m1.5 0h1m1.5 0h1m0 0h1m-0.5 0h1m4 0h1m4.5 0h1m0 0h1m3 0h1m0.5 0h1m3 0h1m-0.5 0h1m4 0h1m-37.5 0.5h1m0.5 0h1m-0.5 0h1m1.5 0h1m6 0h1m0 0h1m4.5 0h1m8.5 0h1m1 0h1m-0.5 0h1m1 0h1m-0.5 0h1m2.5 0h1m-38 0.5h1m2 0h1m-1 0h1m10.5 0h1m7.5 0h1m-0.5 0h1m3.5 0h1m-1 0h1m-28 0.5h1m10 0h1m0 0h1m6 0h1m7.5 0h1m1 0h1m3 0h1m-0.5 0h1m-0.5 0h1m-46.5 0.5h1m10.5 0h1m-0.5 0h1m5 0h1m1.5 0h1m6 0h1m2.5 0h1m7 0h1m1.5 0h1m1 0h1m0 0h1m-27 0.5h1m-1 0h1m0.5 0h1m-0.5 0h1m1 0h1m15.5 0h1m0 0.5h1m-33 0.5h1m7 0h1m3 0h1m1 0h1m18 0h1m-30 0.5h1m0.5 0h1m7.5 0h1m3.5 0h1m-4.5 0.5h1m0.5 0h1m0 0h1m-19 0.5h1m4 0h1m6.5 0h1m-4.5 0.5h1m4.5 0h1m-16.5 0.5h1m17 0h1m-22.5 0.5h1m6 0h1m2.5 0h1m4 0h1m-17.5 0.5h1m20 0h1m8.5 0h1m5.5 0h1m-35.5 0.5h1m-3 0.5h1m9.5 0.5h1m-1 0h1m-8 0.5h1m5 0.5h1m2.5 0h1m-5.5 1.5h1m4 0h1m1.5 0h1m-23 0.5h1m12 0h1m1 0h1m-0.5 0h1m12 0h1m-28 0.5h1m9 0.5h1m8.5 0h1m2 0h1m6 0h1m-4 0.5h1m-20 0.5h1m10 0h1m4 0h1m1 0h1m-21 0.5h1m8.5 0h1m1 0h1m3.5 0h1m8.5 0h1m-23 0.5h1m1 0h1m5.5 0h1m-7 0.5h1m3.5 0h1m10 0h1m-17 0.5h1m8 0h1m-11 0.5h1m2.5 0h1m2.5 0h1m-18 0.5h1m4.5 0h1m13.5 0h1m7 0h1m-16.5 0.5h1m4 0h1m0 0h1m9 0h1m8.5 0h1m-29 0.5h1m8 0h1m-6.5 0.5h1m21 0h1m-24 0.5h1m8 0h1m11 0.5h1m-18.5 0.5h1m4.5 0h1m0.5 0h1m0 0h1m-18 0.5h1m1.5 0h1m6.5 0h1m2.5 0h1m-9 0.5h1m3.5 0h1m2 0h1m-20.5 0.5h1m7 0h1m-0.5 0h1m0.5 0h1m11.5 0h1m-13 0.5h1m14.5 0h1m6 0h1m-21 0.5h1m1 0h1m16 0h1m-28 0.5h1m7.5 0h1m13.5 0h1m-17.5 0.5h1m3 0h1m3 0h1m0 0.5h1m0.5 0h1m15.5 0.5h1m-34.5 0.5h1m3.5 0h1m18 0.5h1m-20 0.5h1m11 0h1m-16 0.5h1m12.5 0h1m0 0h1m11.5 0h1m-15 1h1m34 0h1m-45 0.5h1m4.5 0h1m0 1h1m20 0h1m-23.5 0.5h1m10.5 0h1m-19.5 2.5h1m18.5 0h1m3 0.5h1m-33.5 0.5h1m13 0h1m0.5 0h1m-8 0.5h1m2 0h1m8.5 0.5h1m1.5 0h1m2.5 0h1m-27.5 0.5h1m3.5 0h1m7.5 0h1m0 0h1m-1.5 0.5h1m4.5 0h1m4.5 0h1m-16.5 0.5h1m14.5 0h1m-21 0.5h1m6.5 0.5h1m5 0h1m-7.5 0.5h1m0.5 0h1m20 0h1m-20.5 0.5h1m13.5 0h1m-28.5 0.5h1m4.5 0h1m11.5 0h1m-0.5 0h1m-11 0.5h1m12 0h1m-26 0.5h1m12 0h1m0.5 0h1m1 0h1m9.5 0h1m-32 0.5h1m11 0h1m2.5 0h1m3.5 0h1m10 0h1m-18.5 0.5h1m1 0h1m2 0h1m5.5 0h1m-19 0.5h1m12.5 0h1m-15.5 0.5h1m16.5 0h1m-0.5 0h1m0 0h1m-5 0.5h1m-11 0.5h1m-0.5 0h1m2 0h1m-0.5 0h1m-1 0h1m2.5 0h1m2.5 0h1m4 0h1m-1 0h1m-6.5 0.5h1m3 0h1m-6 0.5h1m0.5 0h1m1 0h1m9.5 0h1m-17 0.5h1m-1 0h1m-1 0h1m5.5 0h1m-3 0.5h1m6.5 0h1m-17.5 0.5h1m1 0h1m-0.5 0h1m2 0h1m16.5 0h1m-29.5 0.5h1m3 0h1m10.5 0h1m-17 0.5h1m2.5 0h1m1.5 0h1m1 0h1m6 0h1m-16 0.5h1m18 0h1m-0.5 0h1m-11 0.5h1m8 0h1m4 0h1m-19.5 0.5h1m14 0h1m1.5 0h1m-26 0.5h1m4 0h1m14.5 0h1m-17 0.5h1m4 0h1m3 0h1m2 0h1m4 0h1m-13.5 0.5h1m-5 0.5h1m5.5 0h1m5.5 0h1m4.5 0h1m0 0h1m-22.5 1h1m7.5 0h1m-6 0.5h1m2 0h1m9 0h1m8 0.5h1m-16.5 0.5h1m1 0h1m1.5 0h1" stroke="#262626" stroke-width="1" stroke-opacity="0.42" fill="none"/>
<path d="M230.5 481h1m10 0h1m-3 0.5h1m3.5 0.5h1m-7.5 1h1m5.5 0h1m3.5 0h1m-18.5 0.5h1m8.5 0h1m-21 0.5h1m10 0h1m15 0h1m-5 0.5h1m-16 0.5h1m2.5 0h1m12 0h1m-26.5 0.5h1m1.5 0h1m3 0h1m0.5 0h1m21.5 0h1m-27.5 0.5h1m0 0h1m-0.5 0h1m3 0h1m0.5 0h1m-0.5 0h1m-0.5 0h1m6.5 0h1m-1 0h1m0 0h1m-24 0.5h1m8 0h1m0 0h1m9.5 0h1m-13.5 0.5h1m0.5 0h1m1 0h1m2 0h1m12.5 0h1m-1 0h1m-0.5 0h1m0 0h1m0 0h1m-0.5 0h1m-1 0h1m-30 0.5h1m3 0h1m0 0h1m-0.5 0h1m1.5 0h1m-1 0h1m1.5 0h1m-0.5 0h1m0 0h1m9 0h1m-0.5 0h1m0 0h1m9.5 0h1m-36 0.5h1m8.5 0h1m4 0h1m0.5 0h1m-1 0h1m4.5 0h1m0.5 0h1m-0.5 0h1m1 0h1m-0.5 0h1m0.5 0h1m0.5 0h1m0 0h1m2.5 0h1m-38 0.5h1m0.5 0h1m2 0h1m3 0h1m0 0h1m-0.5 0h1m0 0h1m0 0h1m-1 0h1m-1 0h1m0.5 0h1m0.5 0h1m9.5 0h1m1.5 0h1m0 0h1m-30 0.5h1m2 0h1m-0.5 0h1m1.5 0h1m1 0h1m0 0h1m0 0h1m-1 0h1m-1 0h1m14.5 0h1m0 0h1m3 0h1m-0.5 0h1m1.5 0h1m-31 0.5h1m3 0h1m0.5 0h1m0.5 0h1m1 0h1m1 0h1m0.5 0h1m2 0h1m6.5 0h1m0 0h1m2.5 0h1m1 0h1m-0.5 0h1m4.5 0h1m-40 0.5h1m7 0h1m1.5 0h1m2.5 0h1m-0.5 0h1m-1 0h1m1 0h1m6 0h1m1 0h1m1 0h1m1 0h1m1 0h1m-1 0h1m-33.5 0.5h1m0 0h1m3.5 0h1m-0.5 0h1m0.5 0h1m0 0h1m0 0h1m0.5 0h1m3 0h1m2 0h1m16 0h1m-1 0h1m-35.5 0.5h1m-1 0h1m2 0h1m0.5 0h1m2.5 0h1m2.5 0h1m-1 0h1m1 0h1m1 0h1m-0.5 0h1m0.5 0h1m9.5 0h1m0 0h1m1 0h1m-0.5 0h1m0 0h1m3 0h1m0.5 0h1m-41 0.5h1m1.5 0h1m3 0h1m0.5 0h1m0.5 0h1m16.5 0h1m4 0h1m0.5 0h1m-0.5 0h1m-37.5 0.5h1m3 0h1m10.5 0h1m1 0h1m0.5 0h1m4.5 0h1m8 0h1m3.5 0h1m3 0h1m-37.5 0.5h1m3.5 0h1m0.5 0h1m0.5 0h1m4 0h1m-0.5 0h1m1 0h1m0 0h1m0.5 0h1m7 0h1m2 0h1m0 0h1m3.5 0h1m0 0h1m2.5 0h1m1 0h1m-39 0.5h1m1.5 0h1m0 0h1m-0.5 0h1m3.5 0h1m2.5 0h1m-0.5 0h1m-0.5 0h1m0 0h1m14 0h1m1.5 0h1m-0.5 0h1m-31.5 0.5h1m3.5 0h1m-0.5 0h1m-0.5 0h1m-0.5 0h1m0 0h1m2 0h1m3 0h1m6 0h1m0.5 0h1m3.5 0h1m-0.5 0h1m0 0h1m0 0h1m-32 0.5h1m0 0h1m-0.5 0h1m0 0h1m-0.5 0h1m0.5 0h1m-0.5 0h1m0.5 0h1m3.5 0h1m-0.5 0h1m-0.5 0h1m3 0h1m-0.5 0h1m10 0h1m3 0h1m-29 0.5h1m-0.5 0h1m1.5 0h1m1 0h1m-1 0h1m-0.5 0h1m-1 0h1m-0.5 0h1m-1 0h1m8.5 0h1m3.5 0h1m4 0h1m2.5 0h1m-29 0.5h1m3 0h1m-1 0h1m1 0h1m0 0h1m12 0h1m0 0h1m1 0h1m-27.5 0.5h1m1.5 0h1m0.5 0h1m10 0h1m7.5 0h1m2.5 0h1m0.5 0h1m0 0h1m-29 0.5h1m1.5 0h1m-1 0h1m1.5 0h1m19 0h1m0.5 0h1m1.5 0h1m0.5 0h1m-32.5 0.5h1m1 0h1m-0.5 0h1m6 0h1m7 0h1m7 0h1m1 0h1m3 0h1m-27 0.5h1m2 0h1m0 0h1m-1 0h1m2.5 0h1m13.5 0h1m0 0h1m-39.5 0.5h1m7.5 0h1m3.5 0h1m-0.5 0h1m7.5 0h1m13.5 0h1m-0.5 0h1m2 0h1m-40.5 0.5h1m31 0h1m-29 0.5h1m11.5 0h1m3 0h1m-16 0.5h1m4 0h1m10 0.5h1m-11 0.5h1m1.5 0h1m6 0h1m18.5 0h1m-33.5 0.5h1m4 0h1m-2.5 0.5h1m21.5 0h1m0 0h1m-31 1h1m7 0h1m-6 0.5h1m3.5 0h1m4 0.5h1m-8.5 0.5h1m-11 0.5h1m31 0h1m-22 1.5h1m-14 0.5h1m5 0h1m2.5 0h1m0.5 0h1m-1 1h1m4.5 0h1m6.5 0h1m-16.5 0.5h1m12 0h1m11 0h1m-39.5 0.5h1m20.5 0h1m0 0h1m2 0h1m-21 0.5h1m4 0h1m0.5 0h1m1 0h1m2 0h1m-0.5 0h1m-7 0.5h1m2 0h1m2.5 0h1m6.5 0h1m0.5 0h1m-17.5 0.5h1m10 0h1m0.5 0h1m-16.5 0.5h1m1.5 0h1m-1 0h1m4.5 0h1m1.5 0h1m8 0h1m-16 0.5h1m-1 0h1m6 0.5h1m6 0h1m-8 0.5h1m14.5 0h1m-25 0.5h1m3.5 0h1m5.5 0h1m-14.5 0.5h1m1 0h1m-0.5 0h1m9 0h1m-7.5 0.5h1m-1 0h1m7 0h1m-14.5 0.5h1m12.5 0h1m-11.5 1h1m7 0h1m-3.5 0.5h1m7 0h1m-22 0.5h1m12.5 0h1m4.5 0h1m-12 0.5h1m5.5 0h1m2.5 0h1m-12 0.5h1m13.5 0h1m-16 0.5h1m4 0h1m7.5 0h1m7.5 0h1m-23.5 0.5h1m2 0h1m2 0h1m5 0h1m3 0h1m1 0h1m8 0h1m-23.5 0.5h1m13 0h1m-16.5 0.5h1m2 0h1m4.5 0h1m0 0h1m5.5 0h1m3.5 0h1m1 0h1m-23.5 0.5h1m8.5 0h1m5.5 0.5h1m11 0h1m-15.5 1h1m-12 0.5h1m-0.5 1.5h1m3.5 0h1m2 0.5h1m-10.5 0.5h1m8.5 0h1m0 0h1m-16.5 1h1m17.5 0.5h1m-20 0.5h1m12 0h1m-13 0.5h1m4.5 0h1m9 0h1m-18 0.5h1m3.5 0h1m19 0h1m-26.5 1h1m9.5 0h1m2.5 0.5h1m5.5 0h1m-15 0.5h1m7.5 0h1m-26.5 0.5h1m5.5 0h1m-0.5 0h1m7 0h1m23 0h1m-32 0.5h1m2 0h1m4 0h1m-15.5 0.5h1m8.5 0h1m7.5 0h1m4 0h1m-22.5 0.5h1m7 0h1m11.5 0h1m-1 0h1m5.5 0h1m15 0.5h1m-40 0.5h1m12.5 0h1m19.5 0h1m-36 0.5h1m8 0h1m8 0h1m-8 1h1m0 0h1m6 0h1m5.5 0.5h1m-26.5 0.5h1m0 0h1m8.5 0h1m-12 0.5h1m4.5 0h1m3.5 0h1m2 0h1m-3.5 0.5h1m0 0h1m0 0h1m2 0h1m3 0h1m-9.5 0.5h1m6 0h1m-0.5 0h1m2.5 0h1m-5 0.5h1m3.5 0h1m-18.5 0.5h1m1.5 0h1m6.5 0h1m8.5 0h1m-23 0.5h1m3 0h1m-5.5 0.5h1m5 0h1m4.5 0h1m1 0h1m3 0h1m-3.5 0.5h1m3 0h1m7 0h1m-26 0.5h1m-0.5 0h1m-1 0h1m4 0h1m-1 0h1m14 0h1m2.5 0h1m-25.5 0.5h1m1 0h1m7.5 0h1m13 0h1m-20.5 0.5h1m-0.5 0h1m2.5 0h1m2 0h1m3.5 0h1m-15 0.5h1m-10 0.5h1m9 0h1m4 0h1m2.5 0h1m9 0h1m-29.5 0.5h1m9.5 0h1m6 0h1m0 0h1m-8.5 0.5h1m2 0.5h1m0 0h1m1.5 0h1m-6.5 0.5h1m4.5 0h1m-8 0.5h1m4.5 0h1m0.5 0h1m0 0h1m-12 0.5h1m0.5 0h1m8.5 0.5h1m0 0h1m0 0h1m-13 0.5h1m0 0h1m-2.5 0.5h1m-0.5 1h1" stroke="#262626" stroke-width="1" stroke-opacity="0.42" fill="none"/>
<rect x="194.1" y="478.4" width="69.1" height="68.6" fill="none" stroke="#1a1a1a" stroke-width="2"/>
<path d="M235.8 478.4V518H255.8V478.4" fill="none" stroke="#1a1a1a" stroke-width="2"/>
<text x="238.84" y="533.87" font-size="13.14" fill="#1a1a1a" stroke="#1a1a1a" stroke-width="0.19" textLength="16.94" lengthAdjust="spacingAndGlyphs">23</text>
<text x="194.4" y="553.2" font-size="4.8" text-anchor="middle" fill="#505050">10<tspan dy="-1.6" font-size="3.2">0</tspan></text>
<line x1="194.1" y1="547.0" x2="194.1" y2="548.8" stroke="#333" stroke-width="1"/>
<text transform="translate(191.5,547.0) rotate(-90)" font-size="4.8" text-anchor="middle" fill="#505050">10<tspan dy="-1.6" font-size="3.2">0</tspan></text>
<line x1="192.3" y1="547.0" x2="194.1" y2="547.0" stroke="#333" stroke-width="1"/>
<text x="211.7" y="553.2" font-size="4.8" text-anchor="middle" fill="#505050">10<tspan dy="-1.6" font-size="3.2">1</tspan></text>
<line x1="211.4" y1="547.0" x2="211.4" y2="548.8" stroke="#333" stroke-width="1"/>
<text transform="translate(191.5,529.9) rotate(-90)" font-size="4.8" text-anchor="middle" fill="#505050">10<tspan dy="-1.6" font-size="3.2">1</tspan></text>
<line x1="192.3" y1="529.9" x2="194.1" y2="529.9" stroke="#333" stroke-width="1"/>
<text x="228.9" y="553.2" font-size="4.8" text-anchor="middle" fill="#505050">10<tspan dy="-1.6" font-size="3.2">2</tspan></text>
<line x1="228.6" y1="547.0" x2="228.6" y2="548.8" stroke="#333" stroke-width="1"/>
<text transform="translate(191.5,512.7) rotate(-90)" font-size="4.8" text-anchor="middle" fill="#505050">10<tspan dy="-1.6" font-size="3.2">2</tspan></text>
<line x1="192.3" y1="512.7" x2="194.1" y2="512.7" stroke="#333" stroke-width="1"/>
<text x="246.2" y="553.2" font-size="4.8" text-anchor="middle" fill="#505050">10<tspan dy="-1.6" font-size="3.2">3</tspan></text>
<line x1="245.9" y1="547.0" x2="245.9" y2="548.8" stroke="#333" stroke-width="1"/>
<text transform="translate(191.5,495.5) rotate(-90)" font-size="4.8" text-anchor="middle" fill="#505050">10<tspan dy="-1.6" font-size="3.2">3</tspan></text>
<line x1="192.3" y1="495.5" x2="194.1" y2="495.5" stroke="#333" stroke-width="1"/>
<text x="263.5" y="553.2" font-size="4.8" text-anchor="middle" fill="#505050">10<tspan dy="-1.6" font-size="3.2">4</tspan></text>
<line x1="263.2" y1="547.0" x2="263.2" y2="548.8" stroke="#333" stroke-width="1"/>
<text transform="translate(191.5,478.4) rotate(-90)" font-size="4.8" text-anchor="middle" fill="#505050">10<tspan dy="-1.6" font-size="3.2">4</tspan></text>
<line x1="192.3" y1="478.4" x2="194.1" y2="478.4" stroke="#333" stroke-width="1"/>
<line x1="61.7" y1="447.4" x2="112.5" y2="447.4" stroke="#1a1a1a" stroke-width="2.2"/>
<line x1="166" y1="447.2" x2="210.3" y2="447.2" stroke="#1a1a1a" stroke-width="2.2"/>
<path d="M225.3 447.2 L208.3 440.0 L211.8 447.2 L208.3 454.4 Z" fill="#1a1a1a"/>
<text x="116.28" y="452.16" font-size="14.13" fill="#1a1a1a" stroke="#1a1a1a" stroke-width="0.2" textLength="45.9" lengthAdjust="spacingAndGlyphs">MHC II</text>
<line x1="23.75" y1="569.3" x2="117.5" y2="569.3" stroke="#1a1a1a" stroke-width="2.2"/>
<line x1="172.3" y1="569.4" x2="253.7" y2="569.4" stroke="#1a1a1a" stroke-width="2.2"/>
<path d="M269.2 569.4 L251.7 562.0 L255.2 569.4 L251.7 576.8 Z" fill="#1a1a1a"/>
<text x="121.57" y="574.36" font-size="13.71" fill="#1a1a1a" stroke="#1a1a1a" stroke-width="0.2" textLength="46.32" lengthAdjust="spacingAndGlyphs">MHC II</text>
<text x="298.15" y="313.05" font-size="25.44" font-weight="bold" fill="#111" textLength="17.2" lengthAdjust="spacingAndGlyphs">C</text>
<line x1="334.2" y1="326.3" x2="334.2" y2="490.3" stroke="#1a1a1a" stroke-width="1.6"/>
<line x1="333.5" y1="489.6" x2="511" y2="489.6" stroke="#1a1a1a" stroke-width="1.6"/>
<line x1="331.2" y1="327.2" x2="334.2" y2="327.2" stroke="#1a1a1a" stroke-width="1.6"/>
<text x="315.18" y="331.66" font-size="13.57" fill="#1a1a1a" stroke="#1a1a1a" stroke-width="0.2" textLength="16.31" lengthAdjust="spacingAndGlyphs">80</text>
<line x1="331.2" y1="368.4" x2="334.2" y2="368.4" stroke="#1a1a1a" stroke-width="1.6"/>
<text x="314.33" y="372.97" font-size="12.72" fill="#1a1a1a" stroke="#1a1a1a" stroke-width="0.18" textLength="17.19" lengthAdjust="spacingAndGlyphs">60</text>
<line x1="331.2" y1="408.6" x2="334.2" y2="408.6" stroke="#1a1a1a" stroke-width="1.6"/>
<text x="315.59" y="412.38" font-size="12.44" fill="#1a1a1a" stroke="#1a1a1a" stroke-width="0.18" textLength="15.36" lengthAdjust="spacingAndGlyphs">40</text>
<line x1="331.2" y1="449.6" x2="334.2" y2="449.6" stroke="#1a1a1a" stroke-width="1.6"/>
<text x="315.19" y="453.77" font-size="12.72" fill="#1a1a1a" stroke="#1a1a1a" stroke-width="0.18" textLength="15.77" lengthAdjust="spacingAndGlyphs">20</text>
<line x1="331.2" y1="489.6" x2="334.2" y2="489.6" stroke="#1a1a1a" stroke-width="1.6"/>
<text x="320.93" y="493.88" font-size="12.3" fill="#1a1a1a" stroke="#1a1a1a" stroke-width="0.18" textLength="9.32" lengthAdjust="spacingAndGlyphs">0</text>
<line x1="379.5" y1="489.6" x2="379.5" y2="492.6" stroke="#1a1a1a" stroke-width="1.4"/>
<line x1="425.7" y1="489.6" x2="425.7" y2="492.6" stroke="#1a1a1a" stroke-width="1.4"/>
<line x1="470.7" y1="489.6" x2="470.7" y2="492.6" stroke="#1a1a1a" stroke-width="1.4"/>
<text x="342.86" y="502.87" font-size="12.86" fill="#1a1a1a" stroke="#1a1a1a" stroke-width="0.19" textLength="30.79" lengthAdjust="spacingAndGlyphs">1250</text>
<text x="384.3" y="502.87" font-size="12.86" fill="#1a1a1a" stroke="#1a1a1a" stroke-width="0.19" textLength="31.05" lengthAdjust="spacingAndGlyphs">2500</text>
<text x="431.72" y="502.87" font-size="12.86" fill="#1a1a1a" stroke="#1a1a1a" stroke-width="0.19" textLength="32.26" lengthAdjust="spacingAndGlyphs">5000</text>
<text x="472.14" y="502.87" font-size="12.86" fill="#1a1a1a" stroke="#1a1a1a" stroke-width="0.19" textLength="39.3" lengthAdjust="spacingAndGlyphs">10000</text>
<text x="347.5" y="522.1" font-size="13.6" fill="#1a1a1a" stroke="#1a1a1a" stroke-width="0.2" textLength="161" lengthAdjust="spacingAndGlyphs">LC number per 10<tspan dy="-5" font-size="8.5">5</tspan><tspan dy="5"> T-cells</tspan></text>
<text transform="translate(311.6,405.5) rotate(-90)" font-size="13.7" text-anchor="middle" fill="#1a1a1a" stroke="#1a1a1a" stroke-width="0.2">cpm x 10<tspan dy="-5" font-size="8.5">3</tspan></text>
<path d="M356.6 455.3V466.8M353.6 455.3h6M353.6 466.8h6" stroke="#1a1a1a" stroke-width="1.5" fill="none"/>
<path d="M447.7 408.9V421.3M444.7 408.9h6M444.7 421.3h6" stroke="#1a1a1a" stroke-width="1.5" fill="none"/>
<path d="M492.7 351.8V372.9M489.7 351.8h6M489.7 372.9h6" stroke="#1a1a1a" stroke-width="1.5" fill="none"/>
<path d="M447.7 444.7V455.5M444.7 444.7h6M444.7 455.5h6" stroke="#1a1a1a" stroke-width="1.5" fill="none"/>
<polyline points="356.6,477.5 401.6,467.5 447.7,454.2 492.7,416.2" fill="none" stroke="#1a1a1a" stroke-width="3.2" stroke-linejoin="round"/>
<polyline points="356.6,461.1 401.6,466.8 447.7,449.9 492.7,435.5" fill="none" stroke="#1a1a1a" stroke-width="3.2" stroke-linejoin="round"/>
<polyline points="356.6,461.1 401.6,436.0 447.7,414.8 492.7,361.6" fill="none" stroke="#1a1a1a" stroke-width="3.2" stroke-linejoin="round"/>
<path d="M356.6 474.4L359.70000000000005 477.5L356.6 480.6L353.5 477.5Z" fill="#fff" stroke="#1a1a1a" stroke-width="1.5"/>
<path d="M401.6 464.4L404.70000000000005 467.5L401.6 470.6L398.5 467.5Z" fill="#fff" stroke="#1a1a1a" stroke-width="1.5"/>
<path d="M447.7 451.09999999999997L450.8 454.2L447.7 457.3L444.59999999999997 454.2Z" fill="#fff" stroke="#1a1a1a" stroke-width="1.5"/>
<path d="M492.7 413.09999999999997L495.8 416.2L492.7 419.3L489.59999999999997 416.2Z" fill="#fff" stroke="#1a1a1a" stroke-width="1.5"/>
<circle cx="356.6" cy="461.1" r="3" fill="#fff" stroke="#1a1a1a" stroke-width="1.6"/>
<circle cx="401.6" cy="466.8" r="3" fill="#fff" stroke="#1a1a1a" stroke-width="1.6"/>
<circle cx="447.7" cy="449.9" r="3" fill="#fff" stroke="#1a1a1a" stroke-width="1.6"/>
<circle cx="492.7" cy="435.5" r="3" fill="#fff" stroke="#1a1a1a" stroke-width="1.6"/>
<circle cx="356.6" cy="461.1" r="3.8" fill="#1a1a1a"/>
<circle cx="401.6" cy="436.0" r="3.8" fill="#1a1a1a"/>
<circle cx="447.7" cy="414.8" r="3.8" fill="#1a1a1a"/>
<circle cx="492.7" cy="361.6" r="3.8" fill="#1a1a1a"/>
<line x1="342.7" y1="331.6" x2="363.5" y2="331.6" stroke="#1a1a1a" stroke-width="3.2"/>
<circle cx="353" cy="331.6" r="3" fill="#fff" stroke="#1a1a1a" stroke-width="1.6"/>
<text x="366.32" y="336.89" font-size="11.02" fill="#1a1a1a" stroke="#1a1a1a" stroke-width="0.16" textLength="18.1" lengthAdjust="spacingAndGlyphs">ctrl</text>
<line x1="342.7" y1="350.1" x2="363.5" y2="350.1" stroke="#1a1a1a" stroke-width="3.2"/>
<path d="M353 347.0L356.1 350.1L353 353.20000000000005L349.9 350.1Z" fill="#fff" stroke="#1a1a1a" stroke-width="1.5"/>
<text x="366.31" y="353.28" font-size="11.56" fill="#1a1a1a" stroke="#1a1a1a" stroke-width="0.17" textLength="52.54" lengthAdjust="spacingAndGlyphs">ctrl+LPS</text>
<line x1="342.7" y1="368.5" x2="363.5" y2="368.5" stroke="#1a1a1a" stroke-width="3.2"/>
<circle cx="353" cy="368.5" r="3.8" fill="#1a1a1a"/>
<text x="365.76" y="372.58" font-size="12.01" fill="#1a1a1a" stroke="#1a1a1a" stroke-width="0.17" textLength="37.53" lengthAdjust="spacingAndGlyphs">MKK6</text>
<text x="1.18" y="604.9" font-size="26.33" font-weight="bold" fill="#111" textLength="18.39" lengthAdjust="spacingAndGlyphs">D</text>
<text x="0.79" y="626.69" font-size="21.22" fill="#1a1a1a" stroke="#1a1a1a" stroke-width="0.31" textLength="53.39" lengthAdjust="spacingAndGlyphs">mock</text>
<text x="80.9" y="626.6" font-size="20.27" fill="#1a1a1a" stroke="#1a1a1a" stroke-width="0.29" textLength="31.4" lengthAdjust="spacingAndGlyphs">ctrl</text>
<text x="141.74" y="626.4" font-size="20.0" fill="#1a1a1a" stroke="#1a1a1a" stroke-width="0.29" textLength="99.25" lengthAdjust="spacingAndGlyphs">d.a.MKK6</text>
<line x1="4" y1="634.3" x2="54.2" y2="634.3" stroke="#1a1a1a" stroke-width="2.9"/>
<line x1="60" y1="634.3" x2="143.1" y2="634.3" stroke="#1a1a1a" stroke-width="2.9"/>
<line x1="147.7" y1="634.3" x2="230.8" y2="634.3" stroke="#1a1a1a" stroke-width="2.9"/>
<line x1="13.8" y1="649.7" x2="19.8" y2="649.7" stroke="#1a1a1a" stroke-width="1.8"/>
<line x1="13.8" y1="669.5" x2="19.8" y2="669.5" stroke="#1a1a1a" stroke-width="1.8"/>
<line x1="41.1" y1="649.7" x2="47.1" y2="649.7" stroke="#1a1a1a" stroke-width="1.8"/>
<path d="M38.9 668.5h10.4M44.1 663.3v10.4" stroke="#1a1a1a" stroke-width="1.8"/>
<line x1="69.5" y1="649.7" x2="75.5" y2="649.7" stroke="#1a1a1a" stroke-width="1.8"/>
<line x1="69.5" y1="669.5" x2="75.5" y2="669.5" stroke="#1a1a1a" stroke-width="1.8"/>
<line x1="96.2" y1="649.7" x2="102.2" y2="649.7" stroke="#1a1a1a" stroke-width="1.8"/>
<path d="M94.0 668.5h10.4M99.2 663.3v10.4" stroke="#1a1a1a" stroke-width="1.8"/>
<path d="M123.6 648.7h10.4M128.8 643.5v10.4" stroke="#1a1a1a" stroke-width="1.8"/>
<path d="M123.6 668.5h10.4M128.8 663.3v10.4" stroke="#1a1a1a" stroke-width="1.8"/>
<line x1="156.4" y1="649.7" x2="162.4" y2="649.7" stroke="#1a1a1a" stroke-width="1.8"/>
<line x1="156.4" y1="669.5" x2="162.4" y2="669.5" stroke="#1a1a1a" stroke-width="1.8"/>
<line x1="183.6" y1="649.7" x2="189.6" y2="649.7" stroke="#1a1a1a" stroke-width="1.8"/>
<path d="M181.4 668.5h10.4M186.6 663.3v10.4" stroke="#1a1a1a" stroke-width="1.8"/>
<path d="M210.2 648.7h10.4M215.4 643.5v10.4" stroke="#1a1a1a" stroke-width="1.8"/>
<path d="M210.2 668.5h10.4M215.4 663.3v10.4" stroke="#1a1a1a" stroke-width="1.8"/>
<text x="241.14" y="654.79" font-size="20.92" fill="#1a1a1a" stroke="#1a1a1a" stroke-width="0.3" textLength="63.74" lengthAdjust="spacingAndGlyphs">NGFR</text>
<text x="240.62" y="676.9" font-size="19.79" fill="#1a1a1a" stroke="#1a1a1a" stroke-width="0.29" textLength="49.49" lengthAdjust="spacingAndGlyphs">DOX</text>
<text x="242.05" y="697.5" font-size="20.14" fill="#1a1a1a" stroke="#1a1a1a" stroke-width="0.29" textLength="98.64" lengthAdjust="spacingAndGlyphs">d.a.MKK6</text>
<text x="241.54" y="743.33" font-size="17.01" fill="#1a1a1a" stroke="#1a1a1a" stroke-width="0.25" textLength="47.68" lengthAdjust="spacingAndGlyphs">actin</text>
<defs><filter id="bl" x="-20%" y="-50%" width="140%" height="200%"><feGaussianBlur stdDeviation="0.8"/></filter><filter id="bl2" x="-20%" y="-20%" width="140%" height="140%"><feGaussianBlur stdDeviation="2.5"/></filter></defs>
<g filter="url(#bl2)">
<rect x="0" y="682" width="241" height="37" fill="#ececec"/>
<rect x="0" y="724" width="241" height="23" fill="#efefef"/>
<rect x="5.300000000000001" y="683" width="23" height="34" fill="#e2e2e2"/>
<rect x="5.300000000000001" y="726" width="23" height="20" fill="#e6e6e6"/>
<rect x="32.6" y="683" width="23" height="34" fill="#e2e2e2"/>
<rect x="32.6" y="726" width="23" height="20" fill="#e6e6e6"/>
<rect x="61.0" y="683" width="23" height="34" fill="#e2e2e2"/>
<rect x="61.0" y="726" width="23" height="20" fill="#e6e6e6"/>
<rect x="87.7" y="683" width="23" height="34" fill="#e2e2e2"/>
<rect x="87.7" y="726" width="23" height="20" fill="#e6e6e6"/>
<rect x="117.30000000000001" y="683" width="23" height="34" fill="#e2e2e2"/>
<rect x="117.30000000000001" y="726" width="23" height="20" fill="#e6e6e6"/>
<rect x="147.9" y="683" width="23" height="34" fill="#e2e2e2"/>
<rect x="147.9" y="726" width="23" height="20" fill="#e6e6e6"/>
<rect x="175.1" y="683" width="23" height="34" fill="#e2e2e2"/>
<rect x="175.1" y="726" width="23" height="20" fill="#e6e6e6"/>
<rect x="203.9" y="683" width="23" height="34" fill="#e2e2e2"/>
<rect x="203.9" y="726" width="23" height="20" fill="#e6e6e6"/>
<rect x="198" y="683" width="36" height="36" fill="#d8d8d8"/>
<rect x="117" y="683" width="24" height="34" fill="#f0f0f0"/>
</g>
<g filter="url(#bl)">
<rect x="5.3" y="704.5" width="23" height="6" rx="7" ry="3.0" fill="#111"/>
<rect x="32.6" y="704.5" width="23" height="6" rx="7" ry="3.0" fill="#111"/>
<rect x="61.0" y="704.5" width="23" height="6" rx="7" ry="3.0" fill="#111"/>
<rect x="87.7" y="704.5" width="23" height="6" rx="7" ry="3.0" fill="#131313"/>
<rect x="147.9" y="704.5" width="23" height="6" rx="7" ry="3.0" fill="#111"/>
<rect x="116.8" y="705.1" width="24" height="4.2" rx="7" ry="2.1" fill="#9a9a9a"/>
<rect x="175.6" y="706.3" width="22" height="4.4" rx="7" ry="2.2" fill="#5a5a5a"/>
<rect x="174.3" y="691.8" width="24" height="6.6" rx="7" ry="3.3" fill="#0c0c0c"/>
<rect x="198.4" y="688.0" width="34.5" height="12.8" rx="11" ry="6.4" fill="#0a0a0a"/>
<rect x="203.9" y="704.5" width="23" height="3.8" rx="7" ry="1.9" fill="#5a5a5a"/>
<rect x="202.9" y="713.0" width="25" height="3.6" rx="7" ry="1.8" fill="#a8a8a8"/>
<rect x="202.9" y="709.3" width="25" height="2.6" rx="7" ry="1.3" fill="#bdbdbd"/>
<rect x="5.1" y="735.4" width="23.5" height="6.4" rx="7" ry="3.2" fill="#111"/>
<rect x="32.4" y="735.4" width="23.5" height="6.4" rx="7" ry="3.2" fill="#111"/>
<rect x="60.8" y="735.4" width="23.5" height="6.4" rx="7" ry="3.2" fill="#111"/>
<rect x="87.5" y="735.3" width="23.5" height="6.6" rx="7" ry="3.3" fill="#111"/>
<rect x="117.1" y="736.1" width="23.5" height="5" rx="7" ry="2.5" fill="#2c2c2c"/>
<rect x="147.7" y="735.3" width="23.5" height="6.6" rx="7" ry="3.3" fill="#111"/>
<rect x="174.8" y="735.6" width="23.5" height="6" rx="7" ry="3.0" fill="#151515"/>
<rect x="203.7" y="736.2" width="23.5" height="4.8" rx="7" ry="2.4" fill="#6a6a6a"/>
</g>
</svg>
</body></html>
